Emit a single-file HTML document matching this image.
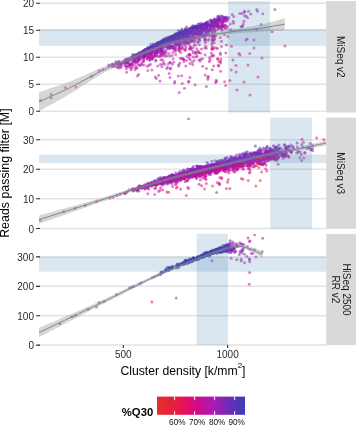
<!DOCTYPE html><html><head><meta charset="utf-8"><style>
html,body{margin:0;padding:0;background:#fff;width:356px;height:425px;overflow:hidden}
svg{display:block;will-change:transform}
text{font-family:"Liberation Sans",sans-serif}
.ax{font-size:10px;fill:#2b2b2b}
.st{font-size:10px;fill:#1a1a1a}
.ti{font-size:12px;fill:#000}
.lg{font-size:8.2px;fill:#111}
.lt{font-size:11.3px;font-weight:bold;fill:#000}
</style></head><body>
<svg width="356" height="425" viewBox="0 0 356 425">
<style>circle{fill-opacity:.52}.c0{fill:rgb(227,47,43)}.c1{fill:rgb(228,41,50)}.c2{fill:rgb(229,34,57)}.c3{fill:rgb(229,28,67)}.c4{fill:rgb(228,21,85)}.c5{fill:rgb(226,15,103)}.c6{fill:rgb(218,12,122)}.c7{fill:rgb(207,12,141)}.c8{fill:rgb(194,17,156)}.c9{fill:rgb(181,23,169)}.c10{fill:rgb(163,28,177)}.c11{fill:rgb(144,34,181)}.c12{fill:rgb(123,39,184)}.c13{fill:rgb(102,44,186)}.c14{fill:rgb(80,48,176)}.c15{fill:rgb(57,52,165)}</style>
<rect width="356" height="425" fill="#fff"/>
<clipPath id="p0"><rect x="39.0" y="1.1" width="287.2" height="111.4"/></clipPath>
<clipPath id="p1"><rect x="39.0" y="117.6" width="287.2" height="111.20000000000002"/></clipPath>
<clipPath id="p2"><rect x="39.0" y="233.9" width="287.2" height="111.20000000000002"/></clipPath>
<path d="M39.0,3.2H326.2M39.0,30.2H326.2M39.0,57.2H326.2M39.0,84.2H326.2M39.0,111.2H326.2M39.0,139.7H326.2M39.0,169.25H326.2M39.0,198.8H326.2M39.0,228.5H326.2M39.0,256.9H326.2M39.0,286.35H326.2M39.0,315.8H326.2M39.0,345.0H326.2" stroke="#e4e4e4" stroke-width="1.5" fill="none"/>
<g clip-path="url(#p0)">
<circle class="c11" cx="195.6" cy="33.5" r="1.5"/>
<circle class="c13" cx="217.5" cy="18.7" r="1.5"/>
<circle class="c14" cx="164.0" cy="39.7" r="1.5"/>
<circle class="c12" cx="159.3" cy="46.3" r="1.5"/>
<circle class="c12" cx="144.4" cy="50.5" r="1.5"/>
<circle class="c9" cx="217.2" cy="25.7" r="1.5"/>
<circle class="c10" cx="132.4" cy="58.3" r="1.5"/>
<circle class="c12" cx="132.8" cy="54.3" r="1.5"/>
<circle class="c10" cx="140.2" cy="57.1" r="1.5"/>
<circle class="c11" cx="152.4" cy="52.1" r="1.5"/>
<circle class="c11" cx="191.7" cy="37.3" r="1.5"/>
<circle class="c14" cx="193.8" cy="28.0" r="1.5"/>
<circle class="c10" cx="173.8" cy="45.4" r="1.5"/>
<circle class="c11" cx="201.5" cy="31.2" r="1.5"/>
<circle class="c13" cx="207.4" cy="24.3" r="1.5"/>
<circle class="c13" cx="202.4" cy="24.4" r="1.5"/>
<circle class="c11" cx="134.7" cy="58.4" r="1.5"/>
<circle class="c13" cx="137.7" cy="54.6" r="1.5"/>
<circle class="c13" cx="167.6" cy="42.3" r="1.5"/>
<circle class="c8" cx="214.2" cy="42.7" r="1.5"/>
<circle class="c14" cx="181.5" cy="31.0" r="1.5"/>
<circle class="c12" cx="192.3" cy="34.4" r="1.5"/>
<circle class="c9" cx="151.4" cy="54.2" r="1.5"/>
<circle class="c14" cx="148.1" cy="49.3" r="1.5"/>
<circle class="c11" cx="167.5" cy="47.0" r="1.5"/>
<circle class="c13" cx="160.4" cy="44.9" r="1.5"/>
<circle class="c12" cx="155.0" cy="49.0" r="1.5"/>
<circle class="c11" cx="201.8" cy="31.2" r="1.5"/>
<circle class="c13" cx="145.2" cy="50.5" r="1.5"/>
<circle class="c11" cx="140.8" cy="55.6" r="1.5"/>
<circle class="c10" cx="156.8" cy="56.2" r="1.5"/>
<circle class="c11" cx="187.1" cy="35.3" r="1.5"/>
<circle class="c12" cx="228.8" cy="17.4" r="1.5"/>
<circle class="c9" cx="148.9" cy="65.2" r="1.5"/>
<circle class="c11" cx="190.6" cy="37.1" r="1.5"/>
<circle class="c12" cx="178.2" cy="40.6" r="1.5"/>
<circle class="c11" cx="183.6" cy="38.6" r="1.5"/>
<circle class="c15" cx="160.0" cy="41.7" r="1.5"/>
<circle class="c13" cx="207.5" cy="23.3" r="1.5"/>
<circle class="c7" cx="190.8" cy="47.1" r="1.5"/>
<circle class="c12" cx="137.0" cy="57.6" r="1.5"/>
<circle class="c11" cx="201.4" cy="27.5" r="1.5"/>
<circle class="c12" cx="150.9" cy="46.7" r="1.5"/>
<circle class="c12" cx="143.4" cy="52.9" r="1.5"/>
<circle class="c13" cx="145.3" cy="53.0" r="1.5"/>
<circle class="c13" cx="197.9" cy="29.6" r="1.5"/>
<circle class="c11" cx="150.2" cy="51.0" r="1.5"/>
<circle class="c10" cx="175.2" cy="44.8" r="1.5"/>
<circle class="c13" cx="172.6" cy="39.5" r="1.5"/>
<circle class="c10" cx="158.6" cy="75.2" r="1.5"/>
<circle class="c12" cx="184.0" cy="34.0" r="1.5"/>
<circle class="c10" cx="139.3" cy="58.8" r="1.5"/>
<circle class="c8" cx="225.7" cy="85.4" r="1.5"/>
<circle class="c10" cx="210.4" cy="28.2" r="1.5"/>
<circle class="c12" cx="144.6" cy="57.0" r="1.5"/>
<circle class="c10" cx="124.7" cy="62.6" r="1.5"/>
<circle class="c15" cx="153.4" cy="44.1" r="1.5"/>
<circle class="c8" cx="206.3" cy="48.2" r="1.5"/>
<circle class="c13" cx="140.0" cy="53.4" r="1.5"/>
<circle class="c13" cx="152.6" cy="46.9" r="1.5"/>
<circle class="c10" cx="211.7" cy="49.1" r="1.5"/>
<circle class="c14" cx="150.0" cy="46.9" r="1.5"/>
<circle class="c13" cx="199.5" cy="27.6" r="1.5"/>
<circle class="c8" cx="160.9" cy="59.7" r="1.5"/>
<circle class="c7" cx="206.5" cy="68.4" r="1.5"/>
<circle class="c15" cx="173.9" cy="35.2" r="1.5"/>
<circle class="c14" cx="161.2" cy="44.6" r="1.5"/>
<circle class="c10" cx="224.8" cy="19.1" r="1.5"/>
<circle class="c7" cx="136.3" cy="62.3" r="1.5"/>
<circle class="c13" cx="211.1" cy="20.6" r="1.5"/>
<circle class="c12" cx="161.1" cy="49.1" r="1.5"/>
<circle class="c9" cx="172.9" cy="52.6" r="1.5"/>
<circle class="c13" cx="206.7" cy="23.9" r="1.5"/>
<circle class="c14" cx="169.9" cy="38.1" r="1.5"/>
<circle class="c11" cx="138.8" cy="52.6" r="1.5"/>
<circle class="c9" cx="213.9" cy="47.5" r="1.5"/>
<circle class="c13" cx="163.4" cy="40.9" r="1.5"/>
<circle class="c11" cx="196.6" cy="31.0" r="1.5"/>
<circle class="c12" cx="171.2" cy="42.3" r="1.5"/>
<circle class="c10" cx="222.1" cy="25.6" r="1.5"/>
<circle class="c10" cx="150.9" cy="53.5" r="1.5"/>
<circle class="c14" cx="160.7" cy="42.1" r="1.5"/>
<circle class="c9" cx="189.7" cy="54.2" r="1.5"/>
<circle class="c12" cx="191.2" cy="29.1" r="1.5"/>
<circle class="c7" cx="212.1" cy="47.0" r="1.5"/>
<circle class="c13" cx="183.2" cy="35.1" r="1.5"/>
<circle class="c11" cx="222.6" cy="22.9" r="1.5"/>
<circle class="c12" cx="137.5" cy="57.0" r="1.5"/>
<circle class="c14" cx="150.0" cy="47.7" r="1.5"/>
<circle class="c9" cx="125.1" cy="65.4" r="1.5"/>
<circle class="c10" cx="126.2" cy="62.8" r="1.5"/>
<circle class="c10" cx="166.5" cy="43.8" r="1.5"/>
<circle class="c9" cx="197.2" cy="56.1" r="1.5"/>
<circle class="c12" cx="233.0" cy="60.0" r="1.5"/>
<circle class="c7" cx="150.0" cy="59.3" r="1.5"/>
<circle class="c10" cx="192.3" cy="40.9" r="1.5"/>
<circle class="c12" cx="206.4" cy="25.3" r="1.5"/>
<circle class="c12" cx="194.9" cy="27.4" r="1.5"/>
<circle class="c13" cx="197.1" cy="27.7" r="1.5"/>
<circle class="c9" cx="205.1" cy="54.7" r="1.5"/>
<circle class="c13" cx="168.1" cy="43.6" r="1.5"/>
<circle class="c11" cx="214.5" cy="22.5" r="1.5"/>
<circle class="c9" cx="217.3" cy="29.6" r="1.5"/>
<circle class="c12" cx="215.3" cy="25.4" r="1.5"/>
<circle class="c10" cx="125.5" cy="64.6" r="1.5"/>
<circle class="c15" cx="175.9" cy="34.7" r="1.5"/>
<circle class="c11" cx="126.7" cy="62.7" r="1.5"/>
<circle class="c13" cx="161.8" cy="45.9" r="1.5"/>
<circle class="c11" cx="143.3" cy="53.7" r="1.5"/>
<circle class="c11" cx="190.8" cy="29.3" r="1.5"/>
<circle class="c9" cx="143.9" cy="56.9" r="1.5"/>
<circle class="c15" cx="159.1" cy="42.4" r="1.5"/>
<circle class="c12" cx="201.0" cy="31.5" r="1.5"/>
<circle class="c14" cx="177.9" cy="33.3" r="1.5"/>
<circle class="c9" cx="134.5" cy="60.3" r="1.5"/>
<circle class="c10" cx="198.3" cy="35.1" r="1.5"/>
<circle class="c11" cx="182.6" cy="43.1" r="1.5"/>
<circle class="c9" cx="221.6" cy="27.3" r="1.5"/>
<circle class="c8" cx="237.0" cy="90.0" r="1.5"/>
<circle class="c12" cx="220.7" cy="15.7" r="1.5"/>
<circle class="c13" cx="188.1" cy="29.2" r="1.5"/>
<circle class="c8" cx="218.2" cy="65.3" r="1.5"/>
<circle class="c11" cx="169.8" cy="48.8" r="1.5"/>
<circle class="c13" cx="173.1" cy="39.7" r="1.5"/>
<circle class="c12" cx="203.1" cy="31.0" r="1.5"/>
<circle class="c15" cx="177.1" cy="36.4" r="1.5"/>
<circle class="c10" cx="222.1" cy="23.3" r="1.5"/>
<circle class="c9" cx="202.3" cy="36.2" r="1.5"/>
<circle class="c13" cx="161.8" cy="43.1" r="1.5"/>
<circle class="c13" cx="145.1" cy="49.6" r="1.5"/>
<circle class="c12" cx="192.4" cy="33.2" r="1.5"/>
<circle class="c12" cx="192.4" cy="31.7" r="1.5"/>
<circle class="c13" cx="154.2" cy="45.8" r="1.5"/>
<circle class="c10" cx="143.8" cy="56.6" r="1.5"/>
<circle class="c12" cx="162.7" cy="40.7" r="1.5"/>
<circle class="c13" cx="169.1" cy="41.4" r="1.5"/>
<circle class="c11" cx="203.8" cy="31.0" r="1.5"/>
<circle class="c10" cx="221.5" cy="22.1" r="1.5"/>
<circle class="c15" cx="153.0" cy="46.0" r="1.5"/>
<circle class="c14" cx="150.8" cy="47.0" r="1.5"/>
<circle class="c12" cx="178.8" cy="39.4" r="1.5"/>
<circle class="c13" cx="144.9" cy="49.5" r="1.5"/>
<circle class="c11" cx="202.1" cy="29.0" r="1.5"/>
<circle class="c7" cx="230.8" cy="29.7" r="1.5"/>
<circle class="c8" cx="198.9" cy="60.1" r="1.5"/>
<circle class="c11" cx="215.1" cy="25.0" r="1.5"/>
<circle class="c11" cx="221.2" cy="20.7" r="1.5"/>
<circle class="c8" cx="200.8" cy="59.3" r="1.5"/>
<circle class="c12" cx="214.2" cy="19.5" r="1.5"/>
<circle class="c11" cx="144.2" cy="55.8" r="1.5"/>
<circle class="c8" cx="154.7" cy="56.0" r="1.5"/>
<circle class="c11" cx="189.6" cy="36.4" r="1.5"/>
<circle class="c10" cx="128.3" cy="62.8" r="1.5"/>
<circle class="c10" cx="194.1" cy="38.6" r="1.5"/>
<circle class="c11" cx="218.8" cy="28.4" r="1.5"/>
<circle class="c8" cx="213.0" cy="33.5" r="1.5"/>
<circle class="c9" cx="184.3" cy="44.7" r="1.5"/>
<circle class="c11" cx="183.5" cy="39.8" r="1.5"/>
<circle class="c9" cx="134.3" cy="64.6" r="1.5"/>
<circle class="c15" cx="147.6" cy="47.3" r="1.5"/>
<circle class="c10" cx="141.1" cy="63.7" r="1.5"/>
<circle class="c10" cx="143.0" cy="55.0" r="1.5"/>
<circle class="c8" cx="211.9" cy="40.1" r="1.5"/>
<circle class="c9" cx="214.8" cy="35.6" r="1.5"/>
<circle class="c11" cx="160.0" cy="44.7" r="1.5"/>
<circle class="c13" cx="163.6" cy="40.1" r="1.5"/>
<circle class="c12" cx="163.5" cy="42.3" r="1.5"/>
<circle class="c14" cx="166.7" cy="41.7" r="1.5"/>
<circle class="c12" cx="139.9" cy="55.8" r="1.5"/>
<circle class="c14" cx="136.0" cy="54.7" r="1.5"/>
<circle class="c13" cx="172.0" cy="37.0" r="1.5"/>
<circle class="c12" cx="178.3" cy="35.8" r="1.5"/>
<circle class="c11" cx="179.9" cy="38.9" r="1.5"/>
<circle class="c11" cx="202.5" cy="29.5" r="1.5"/>
<circle class="c12" cx="165.0" cy="44.7" r="1.5"/>
<circle class="c14" cx="177.6" cy="33.4" r="1.5"/>
<circle class="c9" cx="119.0" cy="64.8" r="1.5"/>
<circle class="c7" cx="147.4" cy="66.3" r="1.5"/>
<circle class="c13" cx="196.7" cy="26.2" r="1.5"/>
<circle class="c12" cx="139.4" cy="54.6" r="1.5"/>
<circle class="c13" cx="171.2" cy="36.2" r="1.5"/>
<circle class="c12" cx="175.6" cy="42.9" r="1.5"/>
<circle class="c9" cx="178.7" cy="46.9" r="1.5"/>
<circle class="c14" cx="163.8" cy="41.4" r="1.5"/>
<circle class="c8" cx="127.2" cy="62.8" r="1.5"/>
<circle class="c10" cx="163.0" cy="52.2" r="1.5"/>
<circle class="c6" cx="205.8" cy="46.3" r="1.5"/>
<circle class="c13" cx="131.8" cy="57.0" r="1.5"/>
<circle class="c8" cx="168.2" cy="47.4" r="1.5"/>
<circle class="c13" cx="173.7" cy="36.6" r="1.5"/>
<circle class="c13" cx="211.7" cy="22.2" r="1.5"/>
<circle class="c11" cx="167.3" cy="47.4" r="1.5"/>
<circle class="c12" cx="183.5" cy="32.1" r="1.5"/>
<circle class="c11" cx="190.9" cy="33.6" r="1.5"/>
<circle class="c10" cx="147.6" cy="52.4" r="1.5"/>
<circle class="c6" cx="210.0" cy="59.7" r="1.5"/>
<circle class="c11" cx="169.4" cy="39.4" r="1.5"/>
<circle class="c14" cx="178.6" cy="30.6" r="1.5"/>
<circle class="c14" cx="195.8" cy="26.7" r="1.5"/>
<circle class="c9" cx="51.2" cy="98.0" r="1.5"/>
<circle class="c12" cx="205.3" cy="23.6" r="1.5"/>
<circle class="c12" cx="203.9" cy="29.0" r="1.5"/>
<circle class="c7" cx="238.9" cy="53.4" r="1.5"/>
<circle class="c12" cx="205.2" cy="23.8" r="1.5"/>
<circle class="c12" cx="163.1" cy="44.4" r="1.5"/>
<circle class="c12" cx="151.1" cy="50.7" r="1.5"/>
<circle class="c10" cx="196.8" cy="33.1" r="1.5"/>
<circle class="c11" cx="157.7" cy="49.9" r="1.5"/>
<circle class="c10" cx="176.6" cy="42.4" r="1.5"/>
<circle class="c11" cx="193.0" cy="36.0" r="1.5"/>
<circle class="c11" cx="187.2" cy="37.9" r="1.5"/>
<circle class="c11" cx="218.9" cy="18.3" r="1.5"/>
<circle class="c9" cx="185.1" cy="44.1" r="1.5"/>
<circle class="c10" cx="123.9" cy="62.7" r="1.5"/>
<circle class="c10" cx="184.1" cy="42.1" r="1.5"/>
<circle class="c14" cx="195.0" cy="26.2" r="1.5"/>
<circle class="c12" cx="187.9" cy="39.0" r="1.5"/>
<circle class="c14" cx="162.0" cy="40.6" r="1.5"/>
<circle class="c14" cx="191.1" cy="27.5" r="1.5"/>
<circle class="c12" cx="159.0" cy="46.7" r="1.5"/>
<circle class="c9" cx="174.5" cy="83.0" r="1.5"/>
<circle class="c12" cx="195.4" cy="28.5" r="1.5"/>
<circle class="c12" cx="167.4" cy="42.1" r="1.5"/>
<circle class="c8" cx="212.3" cy="48.9" r="1.5"/>
<circle class="c12" cx="197.3" cy="27.3" r="1.5"/>
<circle class="c12" cx="146.9" cy="51.4" r="1.5"/>
<circle class="c10" cx="200.6" cy="32.2" r="1.5"/>
<circle class="c8" cx="211.4" cy="53.0" r="1.5"/>
<circle class="c12" cx="206.3" cy="28.5" r="1.5"/>
<circle class="c11" cx="196.0" cy="26.1" r="1.5"/>
<circle class="c13" cx="193.7" cy="30.0" r="1.5"/>
<circle class="c13" cx="202.2" cy="25.1" r="1.5"/>
<circle class="c11" cx="198.5" cy="31.4" r="1.5"/>
<circle class="c13" cx="167.2" cy="44.1" r="1.5"/>
<circle class="c10" cx="189.8" cy="45.9" r="1.5"/>
<circle class="c11" cx="191.4" cy="38.0" r="1.5"/>
<circle class="c11" cx="173.7" cy="39.1" r="1.5"/>
<circle class="c10" cx="205.3" cy="27.5" r="1.5"/>
<circle class="c14" cx="162.1" cy="40.9" r="1.5"/>
<circle class="c12" cx="201.9" cy="30.9" r="1.5"/>
<circle class="c11" cx="200.1" cy="28.3" r="1.5"/>
<circle class="c11" cx="150.0" cy="53.5" r="1.5"/>
<circle class="c10" cx="139.0" cy="59.8" r="1.5"/>
<circle class="c13" cx="194.6" cy="27.1" r="1.5"/>
<circle class="c14" cx="148.7" cy="48.6" r="1.5"/>
<circle class="c13" cx="158.7" cy="45.4" r="1.5"/>
<circle class="c13" cx="143.7" cy="51.1" r="1.5"/>
<circle class="c8" cx="244.0" cy="82.0" r="1.5"/>
<circle class="c12" cx="143.0" cy="55.6" r="1.5"/>
<circle class="c10" cx="179.2" cy="92.4" r="1.5"/>
<circle class="c14" cx="194.5" cy="31.2" r="1.5"/>
<circle class="c14" cx="172.6" cy="36.2" r="1.5"/>
<circle class="c7" cx="151.9" cy="56.8" r="1.5"/>
<circle class="c12" cx="128.3" cy="61.0" r="1.5"/>
<circle class="c14" cx="153.7" cy="47.6" r="1.5"/>
<circle class="c7" cx="220.6" cy="61.3" r="1.5"/>
<circle class="c13" cx="141.9" cy="54.1" r="1.5"/>
<circle class="c13" cx="185.0" cy="30.3" r="1.5"/>
<circle class="c13" cx="200.1" cy="27.6" r="1.5"/>
<circle class="c7" cx="258.0" cy="77.0" r="1.5"/>
<circle class="c12" cx="201.1" cy="30.0" r="1.5"/>
<circle class="c10" cx="120.5" cy="64.7" r="1.5"/>
<circle class="c14" cx="174.1" cy="36.0" r="1.5"/>
<circle class="c12" cx="143.9" cy="53.0" r="1.5"/>
<circle class="c13" cx="206.6" cy="26.1" r="1.5"/>
<circle class="c11" cx="205.4" cy="26.4" r="1.5"/>
<circle class="c15" cx="153.3" cy="46.1" r="1.5"/>
<circle class="c15" cx="165.4" cy="39.7" r="1.5"/>
<circle class="c9" cx="210.3" cy="35.8" r="1.5"/>
<circle class="c11" cx="156.7" cy="49.5" r="1.5"/>
<circle class="c12" cx="182.3" cy="34.7" r="1.5"/>
<circle class="c8" cx="160.8" cy="55.6" r="1.5"/>
<circle class="c7" cx="178.7" cy="66.1" r="1.5"/>
<circle class="c6" cx="213.7" cy="55.2" r="1.5"/>
<circle class="c13" cx="179.2" cy="40.7" r="1.5"/>
<circle class="c9" cx="126.4" cy="68.8" r="1.5"/>
<circle class="c7" cx="209.4" cy="61.4" r="1.5"/>
<circle class="c9" cx="205.2" cy="34.8" r="1.5"/>
<circle class="c14" cx="162.8" cy="42.8" r="1.5"/>
<circle class="c11" cx="175.3" cy="40.0" r="1.5"/>
<circle class="c8" cx="213.7" cy="65.9" r="1.5"/>
<circle class="c13" cx="179.8" cy="32.5" r="1.5"/>
<circle class="c13" cx="163.6" cy="44.7" r="1.5"/>
<circle class="c11" cx="156.8" cy="52.4" r="1.5"/>
<circle class="c14" cx="179.4" cy="32.5" r="1.5"/>
<circle class="c12" cx="200.3" cy="26.6" r="1.5"/>
<circle class="c13" cx="192.4" cy="30.8" r="1.5"/>
<circle class="c8" cx="195.6" cy="53.7" r="1.5"/>
<circle class="c11" cx="182.1" cy="41.6" r="1.5"/>
<circle class="c12" cx="161.6" cy="44.7" r="1.5"/>
<circle class="c10" cx="214.6" cy="26.8" r="1.5"/>
<circle class="c12" cx="177.9" cy="39.0" r="1.5"/>
<circle class="c10" cx="162.3" cy="59.7" r="1.5"/>
<circle class="c9" cx="179.8" cy="62.9" r="1.5"/>
<circle class="c13" cx="179.8" cy="36.8" r="1.5"/>
<circle class="c11" cx="155.9" cy="51.5" r="1.5"/>
<circle class="c8" cx="151.8" cy="58.6" r="1.5"/>
<circle class="c14" cx="147.5" cy="49.0" r="1.5"/>
<circle class="c10" cx="133.2" cy="62.6" r="1.5"/>
<circle class="c11" cx="196.3" cy="31.8" r="1.5"/>
<circle class="c12" cx="217.2" cy="19.2" r="1.5"/>
<circle class="c13" cx="175.3" cy="35.3" r="1.5"/>
<circle class="c11" cx="182.8" cy="37.1" r="1.5"/>
<circle class="c14" cx="174.2" cy="37.3" r="1.5"/>
<circle class="c13" cx="112.8" cy="63.9" r="1.5"/>
<circle class="c11" cx="162.7" cy="46.5" r="1.5"/>
<circle class="c11" cx="190.1" cy="39.3" r="1.5"/>
<circle class="c12" cx="160.4" cy="48.0" r="1.5"/>
<circle class="c12" cx="217.9" cy="19.7" r="1.5"/>
<circle class="c7" cx="212.9" cy="40.3" r="1.5"/>
<circle class="c11" cx="215.0" cy="22.9" r="1.5"/>
<circle class="c11" cx="217.3" cy="20.7" r="1.5"/>
<circle class="c8" cx="155.0" cy="51.3" r="1.5"/>
<circle class="c13" cx="174.4" cy="39.8" r="1.5"/>
<circle class="c12" cx="215.1" cy="23.6" r="1.5"/>
<circle class="c13" cx="188.3" cy="31.7" r="1.5"/>
<circle class="c8" cx="149.0" cy="56.3" r="1.5"/>
<circle class="c10" cx="209.5" cy="35.0" r="1.5"/>
<circle class="c12" cx="130.0" cy="60.0" r="1.5"/>
<circle class="c12" cx="187.7" cy="33.2" r="1.5"/>
<circle class="c11" cx="218.1" cy="24.2" r="1.5"/>
<circle class="c10" cx="183.9" cy="42.3" r="1.5"/>
<circle class="c7" cx="221.4" cy="41.3" r="1.5"/>
<circle class="c6" cx="220.6" cy="71.3" r="1.5"/>
<circle class="c13" cx="190.0" cy="33.7" r="1.5"/>
<circle class="c9" cx="214.2" cy="30.2" r="1.5"/>
<circle class="c14" cx="139.9" cy="53.0" r="1.5"/>
<circle class="c10" cx="153.0" cy="50.3" r="1.5"/>
<circle class="c8" cx="224.9" cy="27.5" r="1.5"/>
<circle class="c12" cx="182.8" cy="36.3" r="1.5"/>
<circle class="c13" cx="159.2" cy="46.5" r="1.5"/>
<circle class="c13" cx="185.0" cy="31.0" r="1.5"/>
<circle class="c14" cx="193.4" cy="27.7" r="1.5"/>
<circle class="c10" cx="151.2" cy="54.5" r="1.5"/>
<circle class="c14" cx="187.7" cy="30.2" r="1.5"/>
<circle class="c15" cx="179.1" cy="35.5" r="1.5"/>
<circle class="c10" cx="209.6" cy="30.6" r="1.5"/>
<circle class="c7" cx="185.6" cy="48.6" r="1.5"/>
<circle class="c10" cx="118.2" cy="66.7" r="1.5"/>
<circle class="c14" cx="166.3" cy="39.6" r="1.5"/>
<circle class="c13" cx="168.6" cy="37.5" r="1.5"/>
<circle class="c6" cx="229.9" cy="80.5" r="1.5"/>
<circle class="c12" cx="197.4" cy="29.1" r="1.5"/>
<circle class="c9" cx="120.9" cy="66.2" r="1.5"/>
<circle class="c10" cx="201.1" cy="33.9" r="1.5"/>
<circle class="c13" cx="207.2" cy="25.1" r="1.5"/>
<circle class="c14" cx="167.4" cy="40.0" r="1.5"/>
<circle class="c11" cx="185.8" cy="40.1" r="1.5"/>
<circle class="c7" cx="131.9" cy="63.9" r="1.5"/>
<circle class="c13" cx="186.6" cy="26.9" r="1.5"/>
<circle class="c10" cx="214.9" cy="29.3" r="1.5"/>
<circle class="c10" cx="209.1" cy="30.8" r="1.5"/>
<circle class="c9" cx="175.3" cy="51.3" r="1.5"/>
<circle class="c11" cx="154.8" cy="52.3" r="1.5"/>
<circle class="c10" cx="173.5" cy="47.7" r="1.5"/>
<circle class="c13" cx="143.4" cy="53.3" r="1.5"/>
<circle class="c14" cx="164.0" cy="43.2" r="1.5"/>
<circle class="c13" cx="199.3" cy="27.3" r="1.5"/>
<circle class="c11" cx="140.4" cy="55.5" r="1.5"/>
<circle class="c13" cx="170.3" cy="37.3" r="1.5"/>
<circle class="c11" cx="143.7" cy="55.2" r="1.5"/>
<circle class="c8" cx="164.5" cy="54.1" r="1.5"/>
<circle class="c11" cx="211.8" cy="25.5" r="1.5"/>
<circle class="c10" cx="151.9" cy="54.5" r="1.5"/>
<circle class="c14" cx="176.1" cy="33.2" r="1.5"/>
<circle class="c8" cx="188.7" cy="81.2" r="1.5"/>
<circle class="c9" cx="162.6" cy="64.1" r="1.5"/>
<circle class="c14" cx="143.6" cy="52.1" r="1.5"/>
<circle class="c7" cx="208.1" cy="77.3" r="1.5"/>
<circle class="c12" cx="193.7" cy="29.7" r="1.5"/>
<circle class="c13" cx="180.1" cy="35.8" r="1.5"/>
<circle class="c7" cx="185.8" cy="66.0" r="1.5"/>
<circle class="c10" cx="174.2" cy="42.0" r="1.5"/>
<circle class="c11" cx="143.3" cy="54.0" r="1.5"/>
<circle class="c11" cx="222.7" cy="20.6" r="1.5"/>
<circle class="c15" cx="156.2" cy="45.7" r="1.5"/>
<circle class="c12" cx="210.4" cy="28.4" r="1.5"/>
<circle class="c9" cx="204.9" cy="35.6" r="1.5"/>
<circle class="c11" cx="153.0" cy="51.1" r="1.5"/>
<circle class="c13" cx="132.9" cy="57.0" r="1.5"/>
<circle class="c8" cx="174.8" cy="48.5" r="1.5"/>
<circle class="c10" cx="205.4" cy="36.1" r="1.5"/>
<circle class="c12" cx="168.4" cy="40.5" r="1.5"/>
<circle class="c13" cx="183.3" cy="32.7" r="1.5"/>
<circle class="c9" cx="204.8" cy="39.7" r="1.5"/>
<circle class="c10" cx="172.4" cy="40.8" r="1.5"/>
<circle class="c11" cx="222.1" cy="16.4" r="1.5"/>
<circle class="c11" cx="200.9" cy="28.3" r="1.5"/>
<circle class="c11" cx="218.2" cy="27.3" r="1.5"/>
<circle class="c12" cx="194.5" cy="34.1" r="1.5"/>
<circle class="c12" cx="224.4" cy="20.2" r="1.5"/>
<circle class="c14" cx="183.9" cy="30.7" r="1.5"/>
<circle class="c14" cx="143.8" cy="51.6" r="1.5"/>
<circle class="c12" cx="192.3" cy="33.7" r="1.5"/>
<circle class="c12" cx="211.1" cy="24.2" r="1.5"/>
<circle class="c12" cx="146.5" cy="53.3" r="1.5"/>
<circle class="c13" cx="205.6" cy="32.7" r="1.5"/>
<circle class="c15" cx="165.5" cy="40.6" r="1.5"/>
<circle class="c11" cx="182.8" cy="39.8" r="1.5"/>
<circle class="c11" cx="210.5" cy="28.8" r="1.5"/>
<circle class="c14" cx="157.6" cy="44.9" r="1.5"/>
<circle class="c15" cx="185.7" cy="29.5" r="1.5"/>
<circle class="c12" cx="194.9" cy="32.5" r="1.5"/>
<circle class="c12" cx="176.5" cy="39.8" r="1.5"/>
<circle class="c9" cx="241.0" cy="26.7" r="1.5"/>
<circle class="c11" cx="145.4" cy="55.5" r="1.5"/>
<circle class="c9" cx="156.4" cy="78.4" r="1.5"/>
<circle class="c11" cx="108.8" cy="65.0" r="1.5"/>
<circle class="c11" cx="210.2" cy="25.4" r="1.5"/>
<circle class="c12" cx="166.3" cy="40.8" r="1.5"/>
<circle class="c11" cx="176.5" cy="42.1" r="1.5"/>
<circle class="c12" cx="180.3" cy="35.7" r="1.5"/>
<circle class="c10" cx="185.6" cy="39.6" r="1.5"/>
<circle class="c9" cx="220.6" cy="26.7" r="1.5"/>
<circle class="c14" cx="176.3" cy="34.8" r="1.5"/>
<circle class="c13" cx="157.4" cy="42.6" r="1.5"/>
<circle class="c10" cx="188.3" cy="42.7" r="1.5"/>
<circle class="c8" cx="76.0" cy="86.9" r="1.5"/>
<circle class="c11" cx="217.3" cy="21.1" r="1.5"/>
<circle class="c12" cx="151.1" cy="50.1" r="1.5"/>
<circle class="c12" cx="205.9" cy="22.9" r="1.5"/>
<circle class="c11" cx="188.4" cy="33.3" r="1.5"/>
<circle class="c9" cx="177.2" cy="43.5" r="1.5"/>
<circle class="c13" cx="146.5" cy="50.0" r="1.5"/>
<circle class="c8" cx="195.5" cy="45.2" r="1.5"/>
<circle class="c9" cx="170.1" cy="68.7" r="1.5"/>
<circle class="c6" cx="202.6" cy="66.2" r="1.5"/>
<circle class="c13" cx="186.4" cy="30.8" r="1.5"/>
<circle class="c14" cx="169.7" cy="38.7" r="1.5"/>
<circle class="c10" cx="126.4" cy="61.5" r="1.5"/>
<circle class="c12" cx="187.4" cy="36.8" r="1.5"/>
<circle class="c10" cx="225.7" cy="20.9" r="1.5"/>
<circle class="c11" cx="204.4" cy="29.5" r="1.5"/>
<circle class="c10" cx="179.1" cy="45.1" r="1.5"/>
<circle class="c11" cx="209.8" cy="25.3" r="1.5"/>
<circle class="c12" cx="123.7" cy="62.2" r="1.5"/>
<circle class="c10" cx="183.1" cy="38.3" r="1.5"/>
<circle class="c10" cx="194.0" cy="37.0" r="1.5"/>
<circle class="c10" cx="172.4" cy="46.2" r="1.5"/>
<circle class="c11" cx="179.7" cy="40.5" r="1.5"/>
<circle class="c9" cx="227.1" cy="21.2" r="1.5"/>
<circle class="c10" cx="201.0" cy="28.2" r="1.5"/>
<circle class="c11" cx="213.0" cy="27.0" r="1.5"/>
<circle class="c8" cx="194.1" cy="41.7" r="1.5"/>
<circle class="c6" cx="198.2" cy="51.1" r="1.5"/>
<circle class="c14" cx="201.9" cy="27.2" r="1.5"/>
<circle class="c9" cx="196.7" cy="33.3" r="1.5"/>
<circle class="c8" cx="199.8" cy="40.6" r="1.5"/>
<circle class="c11" cx="162.1" cy="50.9" r="1.5"/>
<circle class="c9" cx="154.8" cy="54.3" r="1.5"/>
<circle class="c8" cx="164.7" cy="64.2" r="1.5"/>
<circle class="c10" cx="250.7" cy="13.9" r="1.5"/>
<circle class="c13" cx="187.4" cy="32.5" r="1.5"/>
<circle class="c9" cx="190.9" cy="48.8" r="1.5"/>
<circle class="c9" cx="182.2" cy="83.6" r="1.5"/>
<circle class="c9" cx="225.1" cy="25.1" r="1.5"/>
<circle class="c13" cx="211.4" cy="21.8" r="1.5"/>
<circle class="c7" cx="187.5" cy="41.2" r="1.5"/>
<circle class="c12" cx="151.2" cy="49.8" r="1.5"/>
<circle class="c10" cx="212.3" cy="32.5" r="1.5"/>
<circle class="c9" cx="184.0" cy="61.4" r="1.5"/>
<circle class="c11" cx="217.8" cy="16.2" r="1.5"/>
<circle class="c8" cx="143.6" cy="57.7" r="1.5"/>
<circle class="c12" cx="207.6" cy="33.6" r="1.5"/>
<circle class="c14" cx="163.2" cy="42.9" r="1.5"/>
<circle class="c10" cx="217.1" cy="25.1" r="1.5"/>
<circle class="c12" cx="192.6" cy="32.2" r="1.5"/>
<circle class="c12" cx="201.2" cy="32.9" r="1.5"/>
<circle class="c12" cx="169.0" cy="44.1" r="1.5"/>
<circle class="c7" cx="217.6" cy="58.9" r="1.5"/>
<circle class="c12" cx="186.6" cy="32.1" r="1.5"/>
<circle class="c11" cx="207.7" cy="30.2" r="1.5"/>
<circle class="c9" cx="248.5" cy="11.3" r="1.5"/>
<circle class="c8" cx="199.7" cy="38.1" r="1.5"/>
<circle class="c14" cx="201.0" cy="23.2" r="1.5"/>
<circle class="c12" cx="157.1" cy="43.7" r="1.5"/>
<circle class="c15" cx="167.0" cy="38.7" r="1.5"/>
<circle class="c7" cx="126.6" cy="72.2" r="1.5"/>
<circle class="c8" cx="217.5" cy="48.5" r="1.5"/>
<circle class="c10" cx="161.7" cy="48.8" r="1.5"/>
<circle class="c10" cx="152.3" cy="57.6" r="1.5"/>
<circle class="c9" cx="126.2" cy="66.6" r="1.5"/>
<circle class="c12" cx="167.6" cy="42.2" r="1.5"/>
<circle class="c14" cx="160.3" cy="45.0" r="1.5"/>
<circle class="c12" cx="184.8" cy="37.8" r="1.5"/>
<circle class="c9" cx="194.3" cy="41.0" r="1.5"/>
<circle class="c12" cx="194.8" cy="32.7" r="1.5"/>
<circle class="c10" cx="149.3" cy="53.0" r="1.5"/>
<circle class="c12" cx="138.6" cy="57.0" r="1.5"/>
<circle class="c10" cx="179.1" cy="45.5" r="1.5"/>
<circle class="c12" cx="160.0" cy="46.8" r="1.5"/>
<circle class="c15" cx="174.4" cy="36.9" r="1.5"/>
<circle class="c10" cx="161.0" cy="51.2" r="1.5"/>
<circle class="c12" cx="151.6" cy="49.9" r="1.5"/>
<circle class="c12" cx="151.3" cy="50.4" r="1.5"/>
<circle class="c14" cx="172.2" cy="36.4" r="1.5"/>
<circle class="c12" cx="207.9" cy="21.8" r="1.5"/>
<circle class="c14" cx="141.7" cy="51.8" r="1.5"/>
<circle class="c10" cx="170.2" cy="62.4" r="1.5"/>
<circle class="c10" cx="202.0" cy="37.0" r="1.5"/>
<circle class="c14" cx="212.5" cy="22.9" r="1.5"/>
<circle class="c10" cx="175.6" cy="42.0" r="1.5"/>
<circle class="c12" cx="163.2" cy="41.1" r="1.5"/>
<circle class="c13" cx="179.6" cy="38.5" r="1.5"/>
<circle class="c14" cx="170.5" cy="38.8" r="1.5"/>
<circle class="c9" cx="197.9" cy="42.5" r="1.5"/>
<circle class="c11" cx="218.8" cy="21.1" r="1.5"/>
<circle class="c12" cx="194.0" cy="30.6" r="1.5"/>
<circle class="c9" cx="186.4" cy="60.6" r="1.5"/>
<circle class="c10" cx="116.0" cy="61.5" r="1.5"/>
<circle class="c13" cx="193.1" cy="27.5" r="1.5"/>
<circle class="c10" cx="170.1" cy="47.5" r="1.5"/>
<circle class="c11" cx="162.1" cy="51.0" r="1.5"/>
<circle class="c14" cx="151.5" cy="47.5" r="1.5"/>
<circle class="c6" cx="216.2" cy="48.1" r="1.5"/>
<circle class="c13" cx="170.5" cy="38.9" r="1.5"/>
<circle class="c12" cx="191.4" cy="29.4" r="1.5"/>
<circle class="c11" cx="160.3" cy="48.0" r="1.5"/>
<circle class="c14" cx="193.6" cy="25.9" r="1.5"/>
<circle class="c13" cx="200.6" cy="26.7" r="1.5"/>
<circle class="c11" cx="145.8" cy="52.3" r="1.5"/>
<circle class="c14" cx="169.0" cy="38.0" r="1.5"/>
<circle class="c7" cx="194.1" cy="60.5" r="1.5"/>
<circle class="c9" cx="189.8" cy="54.9" r="1.5"/>
<circle class="c14" cx="180.0" cy="34.3" r="1.5"/>
<circle class="c11" cx="184.4" cy="88.3" r="1.5"/>
<circle class="c11" cx="187.3" cy="36.6" r="1.5"/>
<circle class="c11" cx="109.0" cy="66.0" r="1.5"/>
<circle class="c14" cx="151.1" cy="48.4" r="1.5"/>
<circle class="c10" cx="164.8" cy="50.5" r="1.5"/>
<circle class="c13" cx="180.5" cy="36.8" r="1.5"/>
<circle class="c10" cx="192.8" cy="38.4" r="1.5"/>
<circle class="c12" cx="184.5" cy="34.8" r="1.5"/>
<circle class="c14" cx="193.7" cy="27.8" r="1.5"/>
<circle class="c12" cx="205.7" cy="24.5" r="1.5"/>
<circle class="c13" cx="182.9" cy="34.3" r="1.5"/>
<circle class="c10" cx="143.3" cy="57.5" r="1.5"/>
<circle class="c12" cx="143.1" cy="51.1" r="1.5"/>
<circle class="c13" cx="155.9" cy="44.6" r="1.5"/>
<circle class="c13" cx="186.8" cy="35.1" r="1.5"/>
<circle class="c14" cx="179.1" cy="33.1" r="1.5"/>
<circle class="c12" cx="159.8" cy="43.0" r="1.5"/>
<circle class="c15" cx="203.2" cy="24.9" r="1.5"/>
<circle class="c9" cx="131.4" cy="64.2" r="1.5"/>
<circle class="c13" cx="154.5" cy="47.2" r="1.5"/>
<circle class="c12" cx="163.4" cy="43.5" r="1.5"/>
<circle class="c8" cx="179.5" cy="48.1" r="1.5"/>
<circle class="c10" cx="242.1" cy="13.6" r="1.5"/>
<circle class="c8" cx="135.0" cy="61.4" r="1.5"/>
<circle class="c15" cx="171.5" cy="36.8" r="1.5"/>
<circle class="c10" cx="165.3" cy="56.3" r="1.5"/>
<circle class="c11" cx="171.9" cy="46.4" r="1.5"/>
<circle class="c9" cx="178.7" cy="50.2" r="1.5"/>
<circle class="c10" cx="227.0" cy="19.4" r="1.5"/>
<circle class="c10" cx="208.5" cy="31.1" r="1.5"/>
<circle class="c11" cx="187.6" cy="35.6" r="1.5"/>
<circle class="c12" cx="150.7" cy="49.7" r="1.5"/>
<circle class="c10" cx="223.1" cy="26.2" r="1.5"/>
<circle class="c13" cx="157.6" cy="43.1" r="1.5"/>
<circle class="c13" cx="188.9" cy="32.6" r="1.5"/>
<circle class="c11" cx="167.0" cy="42.0" r="1.5"/>
<circle class="c10" cx="136.0" cy="60.9" r="1.5"/>
<circle class="c9" cx="173.8" cy="49.3" r="1.5"/>
<circle class="c10" cx="199.9" cy="35.6" r="1.5"/>
<circle class="c13" cx="147.7" cy="48.4" r="1.5"/>
<circle class="c11" cx="221.7" cy="29.0" r="1.5"/>
<circle class="c15" cx="161.5" cy="42.2" r="1.5"/>
<circle class="c12" cx="166.7" cy="43.8" r="1.5"/>
<circle class="c8" cx="175.7" cy="54.5" r="1.5"/>
<circle class="c8" cx="91.4" cy="76.2" r="1.5"/>
<circle class="c11" cx="148.7" cy="52.2" r="1.5"/>
<circle class="c10" cx="195.7" cy="36.4" r="1.5"/>
<circle class="c8" cx="180.4" cy="58.4" r="1.5"/>
<circle class="c10" cx="148.9" cy="54.4" r="1.5"/>
<circle class="c11" cx="208.1" cy="28.3" r="1.5"/>
<circle class="c9" cx="185.4" cy="40.4" r="1.5"/>
<circle class="c11" cx="210.8" cy="29.1" r="1.5"/>
<circle class="c11" cx="134.5" cy="57.8" r="1.5"/>
<circle class="c9" cx="200.7" cy="31.6" r="1.5"/>
<circle class="c14" cx="151.9" cy="46.9" r="1.5"/>
<circle class="c12" cx="198.8" cy="26.8" r="1.5"/>
<circle class="c14" cx="194.7" cy="28.9" r="1.5"/>
<circle class="c13" cx="189.2" cy="36.0" r="1.5"/>
<circle class="c15" cx="170.3" cy="38.2" r="1.5"/>
<circle class="c6" cx="226.4" cy="44.9" r="1.5"/>
<circle class="c14" cx="175.2" cy="36.1" r="1.5"/>
<circle class="c6" cx="131.0" cy="69.7" r="1.5"/>
<circle class="c12" cx="215.9" cy="22.5" r="1.5"/>
<circle class="c11" cx="161.0" cy="49.1" r="1.5"/>
<circle class="c10" cx="121.7" cy="63.2" r="1.5"/>
<circle class="c10" cx="142.2" cy="64.7" r="1.5"/>
<circle class="c11" cx="193.4" cy="29.4" r="1.5"/>
<circle class="c13" cx="126.5" cy="61.4" r="1.5"/>
<circle class="c9" cx="250.0" cy="95.0" r="1.5"/>
<circle class="c9" cx="168.8" cy="53.5" r="1.5"/>
<circle class="c12" cx="206.2" cy="32.6" r="1.5"/>
<circle class="c8" cx="225.0" cy="24.9" r="1.5"/>
<circle class="c9" cx="163.3" cy="52.0" r="1.5"/>
<circle class="c9" cx="254.0" cy="48.0" r="1.5"/>
<circle class="c10" cx="214.1" cy="26.6" r="1.5"/>
<circle class="c7" cx="136.2" cy="68.2" r="1.5"/>
<circle class="c12" cx="200.1" cy="31.9" r="1.5"/>
<circle class="c10" cx="157.6" cy="52.8" r="1.5"/>
<circle class="c13" cx="182.9" cy="35.3" r="1.5"/>
<circle class="c11" cx="132.3" cy="57.2" r="1.5"/>
<circle class="c9" cx="141.6" cy="58.2" r="1.5"/>
<circle class="c12" cx="180.4" cy="44.0" r="1.5"/>
<circle class="c9" cx="135.0" cy="69.7" r="1.5"/>
<circle class="c11" cx="213.8" cy="23.3" r="1.5"/>
<circle class="c14" cx="139.4" cy="54.4" r="1.5"/>
<circle class="c15" cx="148.9" cy="48.8" r="1.5"/>
<circle class="c12" cx="192.5" cy="33.5" r="1.5"/>
<circle class="c14" cx="142.3" cy="51.9" r="1.5"/>
<circle class="c9" cx="202.9" cy="35.0" r="1.5"/>
<circle class="c8" cx="144.1" cy="64.9" r="1.5"/>
<circle class="c12" cx="194.0" cy="30.5" r="1.5"/>
<circle class="c11" cx="216.1" cy="19.9" r="1.5"/>
<circle class="c9" cx="217.6" cy="26.5" r="1.5"/>
<circle class="c7" cx="227.9" cy="36.4" r="1.5"/>
<circle class="c13" cx="178.8" cy="33.9" r="1.5"/>
<circle class="c10" cx="201.5" cy="34.4" r="1.5"/>
<circle class="c11" cx="139.3" cy="57.0" r="1.5"/>
<circle class="c12" cx="201.4" cy="25.0" r="1.5"/>
<circle class="c12" cx="191.9" cy="30.5" r="1.5"/>
<circle class="c13" cx="195.4" cy="29.7" r="1.5"/>
<circle class="c8" cx="151.7" cy="57.9" r="1.5"/>
<circle class="c11" cx="132.3" cy="61.5" r="1.5"/>
<circle class="c9" cx="119.4" cy="68.1" r="1.5"/>
<circle class="c13" cx="138.7" cy="55.6" r="1.5"/>
<circle class="c14" cx="192.5" cy="25.8" r="1.5"/>
<circle class="c12" cx="167.7" cy="42.5" r="1.5"/>
<circle class="c10" cx="122.5" cy="63.0" r="1.5"/>
<circle class="c11" cx="182.6" cy="36.6" r="1.5"/>
<circle class="c8" cx="147.0" cy="59.0" r="1.5"/>
<circle class="c12" cx="144.0" cy="52.9" r="1.5"/>
<circle class="c10" cx="204.3" cy="35.2" r="1.5"/>
<circle class="c11" cx="190.4" cy="33.6" r="1.5"/>
<circle class="c8" cx="153.2" cy="57.9" r="1.5"/>
<circle class="c13" cx="150.2" cy="48.8" r="1.5"/>
<circle class="c13" cx="152.9" cy="47.1" r="1.5"/>
<circle class="c11" cx="211.5" cy="30.7" r="1.5"/>
<circle class="c8" cx="192.7" cy="64.7" r="1.5"/>
<circle class="c12" cx="128.1" cy="60.4" r="1.5"/>
<circle class="c11" cx="164.1" cy="47.9" r="1.5"/>
<circle class="c11" cx="135.7" cy="60.6" r="1.5"/>
<circle class="c13" cx="167.0" cy="39.2" r="1.5"/>
<circle class="c10" cx="182.5" cy="41.5" r="1.5"/>
<circle class="c10" cx="146.0" cy="52.6" r="1.5"/>
<circle class="c13" cx="182.1" cy="33.2" r="1.5"/>
<circle class="c12" cx="177.9" cy="37.9" r="1.5"/>
<circle class="c11" cx="135.8" cy="56.5" r="1.5"/>
<circle class="c13" cx="125.7" cy="61.5" r="1.5"/>
<circle class="c13" cx="144.3" cy="53.4" r="1.5"/>
<circle class="c10" cx="209.9" cy="31.1" r="1.5"/>
<circle class="c12" cx="168.1" cy="43.1" r="1.5"/>
<circle class="c10" cx="186.3" cy="34.3" r="1.5"/>
<circle class="c12" cx="187.9" cy="33.5" r="1.5"/>
<circle class="c7" cx="207.8" cy="79.3" r="1.5"/>
<circle class="c9" cx="152.2" cy="59.6" r="1.5"/>
<circle class="c11" cx="149.2" cy="52.4" r="1.5"/>
<circle class="c13" cx="129.5" cy="59.7" r="1.5"/>
<circle class="c11" cx="151.4" cy="52.7" r="1.5"/>
<circle class="c11" cx="222.7" cy="17.6" r="1.5"/>
<circle class="c8" cx="189.8" cy="49.0" r="1.5"/>
<circle class="c10" cx="169.3" cy="47.2" r="1.5"/>
<circle class="c12" cx="169.1" cy="43.2" r="1.5"/>
<circle class="c14" cx="132.3" cy="56.3" r="1.5"/>
<circle class="c13" cx="177.4" cy="35.1" r="1.5"/>
<circle class="c12" cx="217.0" cy="20.2" r="1.5"/>
<circle class="c13" cx="199.3" cy="23.9" r="1.5"/>
<circle class="c12" cx="198.8" cy="30.4" r="1.5"/>
<circle class="c7" cx="248.0" cy="65.0" r="1.5"/>
<circle class="c11" cx="146.7" cy="52.9" r="1.5"/>
<circle class="c11" cx="163.8" cy="45.8" r="1.5"/>
<circle class="c15" cx="185.4" cy="31.3" r="1.5"/>
<circle class="c11" cx="144.8" cy="55.0" r="1.5"/>
<circle class="c8" cx="233.2" cy="21.2" r="1.5"/>
<circle class="c15" cx="137.4" cy="54.5" r="1.5"/>
<circle class="c9" cx="166.7" cy="68.5" r="1.5"/>
<circle class="c8" cx="147.8" cy="70.6" r="1.5"/>
<circle class="c11" cx="212.9" cy="25.4" r="1.5"/>
<circle class="c9" cx="130.7" cy="65.1" r="1.5"/>
<circle class="c14" cx="164.0" cy="38.7" r="1.5"/>
<circle class="c8" cx="220.4" cy="28.2" r="1.5"/>
<circle class="c10" cx="191.2" cy="48.8" r="1.5"/>
<circle class="c11" cx="218.7" cy="20.5" r="1.5"/>
<circle class="c14" cx="204.3" cy="27.6" r="1.5"/>
<circle class="c12" cx="142.4" cy="53.5" r="1.5"/>
<circle class="c9" cx="207.6" cy="30.2" r="1.5"/>
<circle class="c13" cx="179.2" cy="39.2" r="1.5"/>
<circle class="c6" cx="253.9" cy="40.0" r="1.5"/>
<circle class="c9" cx="236.0" cy="72.0" r="1.5"/>
<circle class="c11" cx="206.8" cy="27.2" r="1.5"/>
<circle class="c13" cx="177.6" cy="38.0" r="1.5"/>
<circle class="c14" cx="194.4" cy="28.2" r="1.5"/>
<circle class="c11" cx="200.8" cy="28.5" r="1.5"/>
<circle class="c12" cx="206.0" cy="23.3" r="1.5"/>
<circle class="c10" cx="193.6" cy="34.2" r="1.5"/>
<circle class="c11" cx="150.4" cy="64.2" r="1.5"/>
<circle class="c13" cx="162.4" cy="43.0" r="1.5"/>
<circle class="c10" cx="215.5" cy="24.9" r="1.5"/>
<circle class="c8" cx="205.4" cy="42.8" r="1.5"/>
<circle class="c11" cx="168.4" cy="42.5" r="1.5"/>
<circle class="c11" cx="179.6" cy="44.6" r="1.5"/>
<circle class="c14" cx="190.6" cy="28.5" r="1.5"/>
<circle class="c15" cx="189.3" cy="28.4" r="1.5"/>
<circle class="c11" cx="189.2" cy="33.3" r="1.5"/>
<circle class="c8" cx="128.8" cy="64.3" r="1.5"/>
<circle class="c11" cx="135.5" cy="58.0" r="1.5"/>
<circle class="c11" cx="175.8" cy="43.8" r="1.5"/>
<circle class="c9" cx="214.4" cy="36.0" r="1.5"/>
<circle class="c9" cx="162.5" cy="55.6" r="1.5"/>
<circle class="c11" cx="152.8" cy="50.8" r="1.5"/>
<circle class="c12" cx="142.5" cy="54.9" r="1.5"/>
<circle class="c9" cx="153.2" cy="57.0" r="1.5"/>
<circle class="c11" cx="186.3" cy="32.6" r="1.5"/>
<circle class="c11" cx="190.8" cy="30.8" r="1.5"/>
<circle class="c11" cx="186.3" cy="40.7" r="1.5"/>
<circle class="c15" cx="168.3" cy="39.3" r="1.5"/>
<circle class="c10" cx="257.5" cy="11.3" r="1.5"/>
<circle class="c15" cx="174.9" cy="34.4" r="1.5"/>
<circle class="c13" cx="211.4" cy="24.6" r="1.5"/>
<circle class="c10" cx="217.8" cy="58.8" r="1.5"/>
<circle class="c13" cx="144.5" cy="52.2" r="1.5"/>
<circle class="c14" cx="183.1" cy="33.6" r="1.5"/>
<circle class="c9" cx="178.7" cy="49.3" r="1.5"/>
<circle class="c14" cx="192.8" cy="27.4" r="1.5"/>
<circle class="c12" cx="205.8" cy="25.3" r="1.5"/>
<circle class="c13" cx="129.4" cy="58.1" r="1.5"/>
<circle class="c11" cx="173.1" cy="46.5" r="1.5"/>
<circle class="c10" cx="204.9" cy="29.2" r="1.5"/>
<circle class="c10" cx="175.3" cy="43.4" r="1.5"/>
<circle class="c15" cx="161.2" cy="41.9" r="1.5"/>
<circle class="c7" cx="126.4" cy="66.4" r="1.5"/>
<circle class="c13" cx="141.9" cy="51.9" r="1.5"/>
<circle class="c8" cx="188.6" cy="82.0" r="1.5"/>
<circle class="c14" cx="153.0" cy="47.4" r="1.5"/>
<circle class="c11" cx="151.7" cy="49.6" r="1.5"/>
<circle class="c12" cx="125.5" cy="60.5" r="1.5"/>
<circle class="c12" cx="220.0" cy="17.6" r="1.5"/>
<circle class="c10" cx="219.4" cy="19.6" r="1.5"/>
<circle class="c7" cx="195.5" cy="52.0" r="1.5"/>
<circle class="c11" cx="217.4" cy="26.0" r="1.5"/>
<circle class="c13" cx="201.1" cy="26.9" r="1.5"/>
<circle class="c11" cx="125.4" cy="59.3" r="1.5"/>
<circle class="c11" cx="208.3" cy="25.2" r="1.5"/>
<circle class="c11" cx="177.3" cy="39.3" r="1.5"/>
<circle class="c9" cx="168.7" cy="48.2" r="1.5"/>
<circle class="c13" cx="181.6" cy="34.4" r="1.5"/>
<circle class="c10" cx="210.0" cy="21.3" r="1.5"/>
<circle class="c11" cx="133.2" cy="57.9" r="1.5"/>
<circle class="c12" cx="186.6" cy="32.5" r="1.5"/>
<circle class="c13" cx="171.3" cy="40.6" r="1.5"/>
<circle class="c7" cx="196.0" cy="56.9" r="1.5"/>
<circle class="c13" cx="153.5" cy="44.7" r="1.5"/>
<circle class="c12" cx="200.4" cy="31.6" r="1.5"/>
<circle class="c11" cx="120.3" cy="62.9" r="1.5"/>
<circle class="c8" cx="137.9" cy="64.6" r="1.5"/>
<circle class="c13" cx="155.8" cy="47.8" r="1.5"/>
<circle class="c11" cx="161.3" cy="50.8" r="1.5"/>
<circle class="c13" cx="178.1" cy="40.4" r="1.5"/>
<circle class="c9" cx="140.1" cy="59.4" r="1.5"/>
<circle class="c11" cx="203.9" cy="35.4" r="1.5"/>
<circle class="c13" cx="178.9" cy="42.1" r="1.5"/>
<circle class="c12" cx="182.1" cy="40.2" r="1.5"/>
<circle class="c11" cx="206.8" cy="25.5" r="1.5"/>
<circle class="c9" cx="247.5" cy="17.7" r="1.5"/>
<circle class="c8" cx="188.8" cy="54.5" r="1.5"/>
<circle class="c11" cx="213.9" cy="25.3" r="1.5"/>
<circle class="c11" cx="182.1" cy="45.2" r="1.5"/>
<circle class="c13" cx="188.7" cy="30.2" r="1.5"/>
<circle class="c11" cx="211.1" cy="26.3" r="1.5"/>
<circle class="c11" cx="189.3" cy="34.0" r="1.5"/>
<circle class="c15" cx="161.6" cy="41.7" r="1.5"/>
<circle class="c12" cx="145.9" cy="52.0" r="1.5"/>
<circle class="c14" cx="179.7" cy="37.4" r="1.5"/>
<circle class="c12" cx="118.5" cy="62.4" r="1.5"/>
<circle class="c11" cx="170.5" cy="45.2" r="1.5"/>
<circle class="c10" cx="160.7" cy="48.9" r="1.5"/>
<circle class="c11" cx="132.9" cy="61.1" r="1.5"/>
<circle class="c13" cx="163.0" cy="43.8" r="1.5"/>
<circle class="c13" cx="205.5" cy="26.6" r="1.5"/>
<circle class="c11" cx="113.5" cy="65.3" r="1.5"/>
<circle class="c7" cx="169.7" cy="55.9" r="1.5"/>
<circle class="c12" cx="158.0" cy="46.6" r="1.5"/>
<circle class="c10" cx="172.2" cy="64.2" r="1.5"/>
<circle class="c10" cx="190.4" cy="38.4" r="1.5"/>
<circle class="c11" cx="214.1" cy="20.4" r="1.5"/>
<circle class="c8" cx="181.8" cy="75.7" r="1.5"/>
<circle class="c13" cx="164.5" cy="41.1" r="1.5"/>
<circle class="c9" cx="187.1" cy="56.2" r="1.5"/>
<circle class="c12" cx="211.7" cy="21.5" r="1.5"/>
<circle class="c11" cx="223.1" cy="19.0" r="1.5"/>
<circle class="c8" cx="138.6" cy="74.4" r="1.5"/>
<circle class="c11" cx="206.6" cy="22.8" r="1.5"/>
<circle class="c6" cx="231.4" cy="46.3" r="1.5"/>
<circle class="c11" cx="215.2" cy="20.8" r="1.5"/>
<circle class="c13" cx="164.5" cy="41.2" r="1.5"/>
<circle class="c8" cx="137.8" cy="61.4" r="1.5"/>
<circle class="c10" cx="199.1" cy="35.8" r="1.5"/>
<circle class="c10" cx="149.3" cy="57.8" r="1.5"/>
<circle class="c14" cx="159.6" cy="45.7" r="1.5"/>
<circle class="c7" cx="256.4" cy="29.5" r="1.5"/>
<circle class="c14" cx="180.2" cy="34.3" r="1.5"/>
<circle class="c12" cx="220.1" cy="21.2" r="1.5"/>
<circle class="c12" cx="193.6" cy="27.7" r="1.5"/>
<circle class="c9" cx="212.1" cy="42.7" r="1.5"/>
<circle class="c12" cx="203.3" cy="29.7" r="1.5"/>
<circle class="c13" cx="156.9" cy="46.7" r="1.5"/>
<circle class="c12" cx="170.1" cy="44.2" r="1.5"/>
<circle class="c11" cx="138.6" cy="58.6" r="1.5"/>
<circle class="c12" cx="190.2" cy="34.1" r="1.5"/>
<circle class="c9" cx="180.5" cy="43.4" r="1.5"/>
<circle class="c13" cx="164.2" cy="41.5" r="1.5"/>
<circle class="c9" cx="188.2" cy="43.3" r="1.5"/>
<circle class="c14" cx="135.6" cy="55.2" r="1.5"/>
<circle class="c11" cx="174.8" cy="42.8" r="1.5"/>
<circle class="c13" cx="150.7" cy="47.3" r="1.5"/>
<circle class="c12" cx="167.4" cy="40.7" r="1.5"/>
<circle class="c13" cx="162.0" cy="43.1" r="1.5"/>
<circle class="c8" cx="205.1" cy="40.9" r="1.5"/>
<circle class="c10" cx="195.8" cy="37.6" r="1.5"/>
<circle class="c14" cx="179.0" cy="34.9" r="1.5"/>
<circle class="c10" cx="137.7" cy="58.4" r="1.5"/>
<circle class="c10" cx="157.2" cy="49.6" r="1.5"/>
<circle class="c10" cx="222.9" cy="22.0" r="1.5"/>
<circle class="c15" cx="145.1" cy="50.1" r="1.5"/>
<circle class="c11" cx="184.6" cy="40.8" r="1.5"/>
<circle class="c6" cx="214.3" cy="39.5" r="1.5"/>
<circle class="c11" cx="174.8" cy="81.6" r="1.5"/>
<circle class="c9" cx="170.0" cy="77.4" r="1.5"/>
<circle class="c11" cx="184.5" cy="38.3" r="1.5"/>
<circle class="c10" cx="118.0" cy="63.5" r="1.5"/>
<circle class="c9" cx="138.7" cy="60.0" r="1.5"/>
<circle class="c9" cx="138.3" cy="61.0" r="1.5"/>
<circle class="c12" cx="151.0" cy="50.6" r="1.5"/>
<circle class="c12" cx="162.2" cy="43.7" r="1.5"/>
<circle class="c10" cx="214.0" cy="35.7" r="1.5"/>
<circle class="c10" cx="190.4" cy="31.9" r="1.5"/>
<circle class="c12" cx="165.9" cy="41.8" r="1.5"/>
<circle class="c11" cx="152.9" cy="48.2" r="1.5"/>
<circle class="c15" cx="127.0" cy="58.8" r="1.5"/>
<circle class="c10" cx="177.8" cy="40.2" r="1.5"/>
<circle class="c12" cx="197.4" cy="27.3" r="1.5"/>
<circle class="c13" cx="188.7" cy="33.9" r="1.5"/>
<circle class="c11" cx="217.8" cy="21.5" r="1.5"/>
<circle class="c10" cx="177.4" cy="43.1" r="1.5"/>
<circle class="c9" cx="192.7" cy="39.5" r="1.5"/>
<circle class="c13" cx="173.1" cy="40.9" r="1.5"/>
<circle class="c10" cx="175.6" cy="45.1" r="1.5"/>
<circle class="c9" cx="155.7" cy="60.1" r="1.5"/>
<circle class="c13" cx="150.3" cy="48.7" r="1.5"/>
<circle class="c8" cx="157.6" cy="66.1" r="1.5"/>
<circle class="c10" cx="155.9" cy="52.0" r="1.5"/>
<circle class="c11" cx="209.2" cy="29.4" r="1.5"/>
<circle class="c13" cx="112.3" cy="66.4" r="1.5"/>
<circle class="c13" cx="168.4" cy="41.8" r="1.5"/>
<circle class="c12" cx="144.6" cy="54.8" r="1.5"/>
<circle class="c12" cx="180.1" cy="36.3" r="1.5"/>
<circle class="c8" cx="161.0" cy="53.2" r="1.5"/>
<circle class="c12" cx="225.9" cy="17.9" r="1.5"/>
<circle class="c14" cx="171.4" cy="41.7" r="1.5"/>
<circle class="c8" cx="165.5" cy="51.8" r="1.5"/>
<circle class="c12" cx="201.4" cy="28.6" r="1.5"/>
<circle class="c13" cx="159.0" cy="43.9" r="1.5"/>
<circle class="c13" cx="185.3" cy="32.0" r="1.5"/>
<circle class="c14" cx="155.5" cy="46.0" r="1.5"/>
<circle class="c10" cx="221.6" cy="26.0" r="1.5"/>
<circle class="c8" cx="136.9" cy="67.7" r="1.5"/>
<circle class="c12" cx="154.8" cy="44.8" r="1.5"/>
<circle class="c11" cx="225.3" cy="17.5" r="1.5"/>
<circle class="c12" cx="202.2" cy="25.9" r="1.5"/>
<circle class="c9" cx="144.4" cy="55.4" r="1.5"/>
<circle class="c11" cx="224.1" cy="19.2" r="1.5"/>
<circle class="c10" cx="198.7" cy="38.5" r="1.5"/>
<circle class="c14" cx="169.9" cy="37.9" r="1.5"/>
<circle class="c14" cx="166.2" cy="40.5" r="1.5"/>
<circle class="c7" cx="211.8" cy="44.4" r="1.5"/>
<circle class="c14" cx="164.9" cy="40.6" r="1.5"/>
<circle class="c12" cx="159.7" cy="47.5" r="1.5"/>
<circle class="c13" cx="143.1" cy="51.4" r="1.5"/>
<circle class="c12" cx="197.9" cy="26.8" r="1.5"/>
<circle class="c13" cx="156.5" cy="48.7" r="1.5"/>
<circle class="c12" cx="171.6" cy="38.2" r="1.5"/>
<circle class="c9" cx="113.9" cy="66.0" r="1.5"/>
<circle class="c12" cx="202.3" cy="27.4" r="1.5"/>
<circle class="c12" cx="193.1" cy="34.0" r="1.5"/>
<circle class="c9" cx="130.9" cy="64.6" r="1.5"/>
<circle class="c10" cx="141.7" cy="55.7" r="1.5"/>
<circle class="c12" cx="160.4" cy="48.3" r="1.5"/>
<circle class="c10" cx="158.9" cy="51.2" r="1.5"/>
<circle class="c11" cx="202.5" cy="32.6" r="1.5"/>
<circle class="c8" cx="129.9" cy="64.8" r="1.5"/>
<circle class="c7" cx="215.8" cy="36.0" r="1.5"/>
<circle class="c11" cx="181.8" cy="37.7" r="1.5"/>
<circle class="c9" cx="193.3" cy="53.0" r="1.5"/>
<circle class="c9" cx="186.9" cy="36.5" r="1.5"/>
<circle class="c12" cx="175.4" cy="38.5" r="1.5"/>
<circle class="c8" cx="218.8" cy="66.0" r="1.5"/>
<circle class="c14" cx="198.3" cy="23.9" r="1.5"/>
<circle class="c13" cx="178.1" cy="34.9" r="1.5"/>
<circle class="c9" cx="162.3" cy="55.3" r="1.5"/>
<circle class="c11" cx="175.0" cy="41.7" r="1.5"/>
<circle class="c14" cx="174.6" cy="36.5" r="1.5"/>
<circle class="c11" cx="196.8" cy="30.0" r="1.5"/>
<circle class="c11" cx="174.3" cy="39.9" r="1.5"/>
<circle class="c12" cx="214.7" cy="18.7" r="1.5"/>
<circle class="c11" cx="144.9" cy="50.7" r="1.5"/>
<circle class="c12" cx="167.7" cy="42.0" r="1.5"/>
<circle class="c8" cx="194.2" cy="44.7" r="1.5"/>
<circle class="c12" cx="194.0" cy="28.2" r="1.5"/>
<circle class="c14" cx="148.3" cy="48.8" r="1.5"/>
<circle class="c9" cx="168.4" cy="63.7" r="1.5"/>
<circle class="c11" cx="197.8" cy="32.5" r="1.5"/>
<circle class="c11" cx="187.7" cy="37.9" r="1.5"/>
<circle class="c13" cx="199.0" cy="26.1" r="1.5"/>
<circle class="c12" cx="161.6" cy="50.2" r="1.5"/>
<circle class="c13" cx="133.8" cy="56.4" r="1.5"/>
<circle class="c8" cx="190.3" cy="59.8" r="1.5"/>
<circle class="c12" cx="124.1" cy="61.0" r="1.5"/>
<circle class="c13" cx="206.9" cy="22.3" r="1.5"/>
<circle class="c12" cx="207.0" cy="25.7" r="1.5"/>
<circle class="c12" cx="151.4" cy="50.4" r="1.5"/>
<circle class="c10" cx="159.5" cy="47.8" r="1.5"/>
<circle class="c13" cx="173.1" cy="39.4" r="1.5"/>
<circle class="c14" cx="159.7" cy="47.6" r="1.5"/>
<circle class="c12" cx="159.1" cy="44.9" r="1.5"/>
<circle class="c13" cx="146.2" cy="49.7" r="1.5"/>
<circle class="c11" cx="180.1" cy="39.8" r="1.5"/>
<circle class="c12" cx="174.7" cy="39.3" r="1.5"/>
<circle class="c14" cx="173.4" cy="41.6" r="1.5"/>
<circle class="c10" cx="274.9" cy="9.6" r="1.5"/>
<circle class="c12" cx="176.4" cy="41.8" r="1.5"/>
<circle class="c10" cx="177.7" cy="42.6" r="1.5"/>
<circle class="c11" cx="181.1" cy="39.8" r="1.5"/>
<circle class="c12" cx="151.3" cy="48.3" r="1.5"/>
<circle class="c10" cx="132.4" cy="67.5" r="1.5"/>
<circle class="c14" cx="201.2" cy="26.0" r="1.5"/>
<circle class="c9" cx="170.0" cy="62.5" r="1.5"/>
<circle class="c10" cx="127.9" cy="66.3" r="1.5"/>
<circle class="c13" cx="214.5" cy="25.0" r="1.5"/>
<circle class="c10" cx="246.3" cy="16.2" r="1.5"/>
<circle class="c13" cx="166.9" cy="37.4" r="1.5"/>
<circle class="c11" cx="218.4" cy="23.3" r="1.5"/>
<circle class="c10" cx="189.9" cy="77.4" r="1.5"/>
<circle class="c10" cx="168.8" cy="44.0" r="1.5"/>
<circle class="c7" cx="143.8" cy="60.6" r="1.5"/>
<circle class="c14" cx="190.8" cy="31.8" r="1.5"/>
<circle class="c14" cx="160.6" cy="42.9" r="1.5"/>
<circle class="c13" cx="153.5" cy="47.7" r="1.5"/>
<circle class="c14" cx="175.4" cy="35.3" r="1.5"/>
<circle class="c9" cx="129.0" cy="66.8" r="1.5"/>
<circle class="c9" cx="218.2" cy="26.6" r="1.5"/>
<circle class="c8" cx="212.5" cy="38.6" r="1.5"/>
<circle class="c8" cx="185.4" cy="50.2" r="1.5"/>
<circle class="c12" cx="182.7" cy="31.2" r="1.5"/>
<circle class="c13" cx="219.5" cy="18.3" r="1.5"/>
<circle class="c12" cx="142.2" cy="52.1" r="1.5"/>
<circle class="c11" cx="201.2" cy="25.7" r="1.5"/>
<circle class="c12" cx="130.9" cy="58.7" r="1.5"/>
<circle class="c13" cx="118.2" cy="63.1" r="1.5"/>
<circle class="c8" cx="180.8" cy="49.3" r="1.5"/>
<circle class="c10" cx="175.2" cy="43.4" r="1.5"/>
<circle class="c9" cx="160.1" cy="51.1" r="1.5"/>
<circle class="c13" cx="152.8" cy="46.2" r="1.5"/>
<circle class="c13" cx="167.0" cy="39.0" r="1.5"/>
<circle class="c12" cx="183.1" cy="35.4" r="1.5"/>
<circle class="c7" cx="183.7" cy="59.6" r="1.5"/>
<circle class="c11" cx="137.8" cy="54.9" r="1.5"/>
<circle class="c13" cx="190.4" cy="30.7" r="1.5"/>
<circle class="c10" cx="190.7" cy="40.2" r="1.5"/>
<circle class="c9" cx="149.5" cy="56.7" r="1.5"/>
<circle class="c10" cx="244.4" cy="12.3" r="1.5"/>
<circle class="c14" cx="111.9" cy="64.8" r="1.5"/>
<circle class="c8" cx="160.0" cy="81.0" r="1.5"/>
<circle class="c11" cx="220.6" cy="25.5" r="1.5"/>
<circle class="c11" cx="204.4" cy="36.8" r="1.5"/>
<circle class="c9" cx="137.9" cy="61.6" r="1.5"/>
<circle class="c13" cx="197.3" cy="29.7" r="1.5"/>
<circle class="c13" cx="181.3" cy="35.1" r="1.5"/>
<circle class="c13" cx="212.1" cy="21.5" r="1.5"/>
<circle class="c14" cx="208.0" cy="24.3" r="1.5"/>
<circle class="c12" cx="198.0" cy="26.9" r="1.5"/>
<circle class="c10" cx="209.0" cy="32.3" r="1.5"/>
<circle class="c11" cx="206.6" cy="30.0" r="1.5"/>
<circle class="c10" cx="201.0" cy="27.6" r="1.5"/>
<circle class="c9" cx="182.8" cy="58.8" r="1.5"/>
<circle class="c8" cx="205.5" cy="39.4" r="1.5"/>
<circle class="c10" cx="207.0" cy="28.7" r="1.5"/>
<circle class="c12" cx="156.3" cy="51.4" r="1.5"/>
<circle class="c12" cx="216.6" cy="21.5" r="1.5"/>
<circle class="c11" cx="179.5" cy="42.3" r="1.5"/>
<circle class="c7" cx="192.3" cy="62.3" r="1.5"/>
<circle class="c11" cx="150.1" cy="52.4" r="1.5"/>
<circle class="c9" cx="156.5" cy="53.8" r="1.5"/>
<circle class="c10" cx="186.1" cy="42.3" r="1.5"/>
<circle class="c10" cx="177.8" cy="44.6" r="1.5"/>
<circle class="c6" cx="220.8" cy="58.9" r="1.5"/>
<circle class="c12" cx="187.3" cy="36.8" r="1.5"/>
<circle class="c11" cx="199.7" cy="33.4" r="1.5"/>
<circle class="c14" cx="156.7" cy="45.3" r="1.5"/>
<circle class="c8" cx="200.2" cy="60.9" r="1.5"/>
<circle class="c12" cx="206.8" cy="22.9" r="1.5"/>
<circle class="c14" cx="181.9" cy="29.1" r="1.5"/>
<circle class="c11" cx="206.4" cy="29.7" r="1.5"/>
<circle class="c10" cx="212.2" cy="30.1" r="1.5"/>
<circle class="c14" cx="161.4" cy="44.1" r="1.5"/>
<circle class="c13" cx="184.9" cy="34.8" r="1.5"/>
<circle class="c12" cx="206.2" cy="27.2" r="1.5"/>
<circle class="c8" cx="233.5" cy="23.3" r="1.5"/>
<circle class="c13" cx="126.8" cy="60.2" r="1.5"/>
<circle class="c9" cx="159.7" cy="56.6" r="1.5"/>
<circle class="c14" cx="162.7" cy="40.8" r="1.5"/>
<circle class="c8" cx="222.5" cy="26.8" r="1.5"/>
<circle class="c11" cx="150.5" cy="52.5" r="1.5"/>
<circle class="c12" cx="205.4" cy="28.2" r="1.5"/>
<circle class="c8" cx="215.5" cy="82.7" r="1.5"/>
<circle class="c13" cx="167.8" cy="38.7" r="1.5"/>
<circle class="c12" cx="145.4" cy="55.0" r="1.5"/>
<circle class="c12" cx="209.7" cy="25.5" r="1.5"/>
<circle class="c9" cx="212.6" cy="36.4" r="1.5"/>
<circle class="c7" cx="202.5" cy="58.7" r="1.5"/>
<circle class="c13" cx="167.7" cy="40.2" r="1.5"/>
<circle class="c7" cx="214.7" cy="39.1" r="1.5"/>
<circle class="c10" cx="161.9" cy="66.8" r="1.5"/>
<circle class="c12" cx="115.6" cy="63.6" r="1.5"/>
<circle class="c8" cx="179.6" cy="48.0" r="1.5"/>
<circle class="c11" cx="159.7" cy="42.2" r="1.5"/>
<circle class="c14" cx="166.1" cy="39.3" r="1.5"/>
<circle class="c13" cx="208.1" cy="24.3" r="1.5"/>
<circle class="c8" cx="132.4" cy="65.3" r="1.5"/>
<circle class="c10" cx="188.3" cy="35.2" r="1.5"/>
<circle class="c8" cx="272.0" cy="31.8" r="1.5"/>
<circle class="c11" cx="185.0" cy="36.8" r="1.5"/>
<circle class="c11" cx="175.4" cy="40.8" r="1.5"/>
<circle class="c11" cx="123.6" cy="61.6" r="1.5"/>
<circle class="c12" cx="159.6" cy="45.6" r="1.5"/>
<circle class="c13" cx="140.3" cy="53.6" r="1.5"/>
<circle class="c11" cx="149.4" cy="52.3" r="1.5"/>
<circle class="c11" cx="205.3" cy="27.8" r="1.5"/>
<circle class="c10" cx="219.7" cy="26.2" r="1.5"/>
<circle class="c14" cx="197.9" cy="27.4" r="1.5"/>
<circle class="c15" cx="139.7" cy="53.3" r="1.5"/>
<circle class="c13" cx="171.3" cy="38.5" r="1.5"/>
<circle class="c10" cx="233.7" cy="16.5" r="1.5"/>
<circle class="c8" cx="112.0" cy="64.5" r="1.5"/>
<circle class="c7" cx="220.3" cy="37.6" r="1.5"/>
<circle class="c12" cx="146.4" cy="53.7" r="1.5"/>
<circle class="c12" cx="191.3" cy="29.0" r="1.5"/>
<circle class="c13" cx="119.5" cy="62.3" r="1.5"/>
<circle class="c11" cx="167.8" cy="46.8" r="1.5"/>
<circle class="c10" cx="216.5" cy="26.6" r="1.5"/>
<circle class="c12" cx="151.6" cy="50.4" r="1.5"/>
<circle class="c10" cx="210.2" cy="19.8" r="1.5"/>
<circle class="c13" cx="180.4" cy="34.0" r="1.5"/>
<circle class="c11" cx="145.5" cy="52.5" r="1.5"/>
<circle class="c13" cx="172.0" cy="38.3" r="1.5"/>
<circle class="c12" cx="189.2" cy="33.7" r="1.5"/>
<circle class="c9" cx="246.0" cy="40.0" r="1.5"/>
<circle class="c12" cx="208.6" cy="25.0" r="1.5"/>
<circle class="c8" cx="204.9" cy="38.7" r="1.5"/>
<circle class="c11" cx="146.1" cy="53.0" r="1.5"/>
<circle class="c10" cx="220.2" cy="23.0" r="1.5"/>
<circle class="c13" cx="182.7" cy="36.6" r="1.5"/>
<circle class="c12" cx="202.1" cy="30.6" r="1.5"/>
<circle class="c15" cx="150.0" cy="48.9" r="1.5"/>
<circle class="c12" cx="151.7" cy="49.0" r="1.5"/>
<circle class="c8" cx="180.3" cy="47.0" r="1.5"/>
<circle class="c9" cx="244.0" cy="21.3" r="1.5"/>
<circle class="c9" cx="99.0" cy="70.6" r="1.5"/>
<circle class="c11" cx="137.2" cy="56.0" r="1.5"/>
<circle class="c9" cx="114.0" cy="66.0" r="1.5"/>
<circle class="c11" cx="198.4" cy="33.2" r="1.5"/>
<circle class="c13" cx="156.8" cy="45.3" r="1.5"/>
<circle class="c11" cx="185.4" cy="37.1" r="1.5"/>
<circle class="c14" cx="218.3" cy="16.4" r="1.5"/>
<circle class="c6" cx="285.0" cy="46.0" r="1.5"/>
<circle class="c12" cx="162.2" cy="46.6" r="1.5"/>
<circle class="c11" cx="171.5" cy="41.4" r="1.5"/>
<circle class="c15" cx="175.5" cy="36.2" r="1.5"/>
<circle class="c12" cx="160.0" cy="48.2" r="1.5"/>
<circle class="c7" cx="227.0" cy="28.3" r="1.5"/>
<circle class="c11" cx="162.5" cy="46.3" r="1.5"/>
<circle class="c11" cx="204.9" cy="34.7" r="1.5"/>
<circle class="c9" cx="225.1" cy="19.1" r="1.5"/>
<circle class="c12" cx="140.8" cy="54.5" r="1.5"/>
<circle class="c10" cx="224.2" cy="20.5" r="1.5"/>
<circle class="c9" cx="188.9" cy="43.6" r="1.5"/>
<circle class="c10" cx="178.7" cy="64.8" r="1.5"/>
<circle class="c13" cx="133.4" cy="58.0" r="1.5"/>
<circle class="c13" cx="183.9" cy="32.9" r="1.5"/>
<circle class="c13" cx="119.4" cy="63.2" r="1.5"/>
<circle class="c11" cx="154.3" cy="52.5" r="1.5"/>
<circle class="c9" cx="116.1" cy="66.4" r="1.5"/>
<circle class="c9" cx="148.0" cy="56.3" r="1.5"/>
<circle class="c10" cx="172.5" cy="47.5" r="1.5"/>
<circle class="c10" cx="217.3" cy="24.6" r="1.5"/>
<circle class="c14" cx="172.6" cy="37.3" r="1.5"/>
<circle class="c12" cx="198.5" cy="32.5" r="1.5"/>
<circle class="c8" cx="156.4" cy="55.6" r="1.5"/>
<circle class="c14" cx="173.4" cy="35.6" r="1.5"/>
<circle class="c7" cx="213.3" cy="49.0" r="1.5"/>
<circle class="c15" cx="168.9" cy="39.3" r="1.5"/>
<circle class="c8" cx="209.5" cy="57.8" r="1.5"/>
<circle class="c10" cx="149.2" cy="56.8" r="1.5"/>
<circle class="c12" cx="140.9" cy="54.6" r="1.5"/>
<circle class="c14" cx="161.8" cy="40.9" r="1.5"/>
<circle class="c9" cx="197.8" cy="41.9" r="1.5"/>
<circle class="c12" cx="169.1" cy="42.9" r="1.5"/>
<circle class="c9" cx="212.1" cy="55.6" r="1.5"/>
<circle class="c9" cx="150.0" cy="59.1" r="1.5"/>
<circle class="c9" cx="137.3" cy="59.8" r="1.5"/>
<circle class="c13" cx="136.3" cy="57.1" r="1.5"/>
<circle class="c13" cx="199.3" cy="27.7" r="1.5"/>
<circle class="c11" cx="147.1" cy="55.3" r="1.5"/>
<circle class="c14" cx="164.7" cy="40.6" r="1.5"/>
<circle class="c12" cx="226.4" cy="17.8" r="1.5"/>
<circle class="c11" cx="187.9" cy="35.5" r="1.5"/>
<circle class="c14" cx="213.1" cy="20.3" r="1.5"/>
<circle class="c6" cx="220.5" cy="54.4" r="1.5"/>
<circle class="c8" cx="224.5" cy="34.8" r="1.5"/>
<circle class="c14" cx="197.8" cy="28.9" r="1.5"/>
<circle class="c15" cx="202.8" cy="24.1" r="1.5"/>
<circle class="c14" cx="203.4" cy="25.6" r="1.5"/>
<circle class="c11" cx="191.4" cy="40.8" r="1.5"/>
<circle class="c14" cx="191.9" cy="29.6" r="1.5"/>
<circle class="c12" cx="185.8" cy="30.6" r="1.5"/>
<circle class="c14" cx="200.0" cy="25.3" r="1.5"/>
<circle class="c11" cx="143.3" cy="51.3" r="1.5"/>
<circle class="c9" cx="204.5" cy="34.9" r="1.5"/>
<circle class="c12" cx="213.3" cy="23.1" r="1.5"/>
<circle class="c11" cx="151.3" cy="52.5" r="1.5"/>
<circle class="c12" cx="192.7" cy="30.2" r="1.5"/>
<circle class="c8" cx="117.7" cy="67.8" r="1.5"/>
<circle class="c10" cx="177.3" cy="45.0" r="1.5"/>
<circle class="c7" cx="236.0" cy="65.5" r="1.5"/>
<circle class="c6" cx="247.2" cy="38.9" r="1.5"/>
<circle class="c10" cx="192.8" cy="51.0" r="1.5"/>
<circle class="c9" cx="227.9" cy="19.3" r="1.5"/>
<circle class="c13" cx="173.3" cy="36.4" r="1.5"/>
<circle class="c11" cx="222.8" cy="25.4" r="1.5"/>
<circle class="c12" cx="185.1" cy="35.6" r="1.5"/>
<circle class="c10" cx="159.2" cy="49.9" r="1.5"/>
<circle class="c12" cx="143.1" cy="51.7" r="1.5"/>
<circle class="c7" cx="212.3" cy="69.8" r="1.5"/>
<circle class="c8" cx="242.0" cy="26.6" r="1.5"/>
<circle class="c9" cx="156.0" cy="52.3" r="1.5"/>
<circle class="c10" cx="177.0" cy="43.2" r="1.5"/>
<circle class="c6" cx="225.8" cy="53.0" r="1.5"/>
<circle class="c10" cx="216.8" cy="24.1" r="1.5"/>
<circle class="c12" cx="192.2" cy="38.3" r="1.5"/>
<circle class="c12" cx="174.7" cy="38.3" r="1.5"/>
<circle class="c9" cx="189.0" cy="39.6" r="1.5"/>
<circle class="c10" cx="157.5" cy="50.3" r="1.5"/>
<circle class="c7" cx="208.8" cy="39.0" r="1.5"/>
<circle class="c12" cx="170.2" cy="37.4" r="1.5"/>
<circle class="c9" cx="185.8" cy="46.6" r="1.5"/>
<circle class="c9" cx="140.0" cy="65.5" r="1.5"/>
<circle class="c10" cx="215.9" cy="23.6" r="1.5"/>
<circle class="c9" cx="150.3" cy="56.6" r="1.5"/>
<circle class="c14" cx="188.8" cy="30.3" r="1.5"/>
<circle class="c8" cx="206.9" cy="33.4" r="1.5"/>
<circle class="c14" cx="171.4" cy="36.5" r="1.5"/>
<circle class="c14" cx="188.3" cy="30.2" r="1.5"/>
<circle class="c12" cx="163.9" cy="42.2" r="1.5"/>
<circle class="c13" cx="178.9" cy="34.1" r="1.5"/>
<circle class="c12" cx="194.5" cy="33.2" r="1.5"/>
<circle class="c9" cx="218.7" cy="26.9" r="1.5"/>
<circle class="c9" cx="119.4" cy="64.8" r="1.5"/>
<circle class="c12" cx="213.7" cy="28.4" r="1.5"/>
<circle class="c11" cx="198.1" cy="27.4" r="1.5"/>
<circle class="c9" cx="178.3" cy="75.9" r="1.5"/>
<circle class="c8" cx="189.0" cy="58.2" r="1.5"/>
<circle class="c12" cx="170.2" cy="39.8" r="1.5"/>
<circle class="c13" cx="174.3" cy="38.4" r="1.5"/>
<circle class="c15" cx="195.7" cy="26.9" r="1.5"/>
<circle class="c11" cx="158.4" cy="44.1" r="1.5"/>
<circle class="c8" cx="191.1" cy="41.0" r="1.5"/>
<circle class="c12" cx="116.4" cy="63.6" r="1.5"/>
<circle class="c10" cx="186.1" cy="42.4" r="1.5"/>
<circle class="c11" cx="150.5" cy="52.9" r="1.5"/>
<circle class="c10" cx="213.7" cy="28.3" r="1.5"/>
<circle class="c15" cx="166.2" cy="40.2" r="1.5"/>
<circle class="c12" cx="196.3" cy="33.8" r="1.5"/>
<circle class="c9" cx="135.5" cy="66.8" r="1.5"/>
<circle class="c11" cx="158.7" cy="52.4" r="1.5"/>
<circle class="c10" cx="207.3" cy="35.4" r="1.5"/>
<circle class="c11" cx="206.8" cy="25.6" r="1.5"/>
<circle class="c15" cx="158.9" cy="43.8" r="1.5"/>
<circle class="c14" cx="197.2" cy="31.5" r="1.5"/>
<circle class="c13" cx="157.8" cy="46.2" r="1.5"/>
<circle class="c12" cx="201.2" cy="26.4" r="1.5"/>
<circle class="c12" cx="205.8" cy="30.3" r="1.5"/>
<circle class="c12" cx="138.0" cy="54.4" r="1.5"/>
<circle class="c12" cx="173.5" cy="38.8" r="1.5"/>
<circle class="c12" cx="133.6" cy="57.6" r="1.5"/>
<circle class="c11" cx="173.4" cy="39.8" r="1.5"/>
<circle class="c12" cx="156.0" cy="47.8" r="1.5"/>
<circle class="c8" cx="189.8" cy="63.6" r="1.5"/>
<circle class="c13" cx="167.9" cy="39.6" r="1.5"/>
<circle class="c8" cx="180.6" cy="52.6" r="1.5"/>
<circle class="c12" cx="163.5" cy="43.3" r="1.5"/>
<circle class="c9" cx="138.6" cy="57.8" r="1.5"/>
<circle class="c9" cx="163.7" cy="62.0" r="1.5"/>
<circle class="c12" cx="224.4" cy="21.3" r="1.5"/>
<circle class="c12" cx="197.5" cy="33.0" r="1.5"/>
<circle class="c13" cx="156.5" cy="43.7" r="1.5"/>
<circle class="c11" cx="226.6" cy="18.4" r="1.5"/>
<circle class="c11" cx="163.6" cy="44.2" r="1.5"/>
<circle class="c11" cx="212.5" cy="36.3" r="1.5"/>
<circle class="c8" cx="261.1" cy="24.4" r="1.5"/>
<circle class="c5" cx="231.2" cy="69.9" r="1.5"/>
<circle class="c13" cx="158.7" cy="46.9" r="1.5"/>
<circle class="c12" cx="201.0" cy="30.5" r="1.5"/>
<circle class="c9" cx="198.6" cy="52.4" r="1.5"/>
<circle class="c7" cx="200.6" cy="53.2" r="1.5"/>
<circle class="c11" cx="176.2" cy="37.8" r="1.5"/>
<circle class="c9" cx="194.2" cy="37.8" r="1.5"/>
<circle class="c10" cx="159.7" cy="48.6" r="1.5"/>
<circle class="c7" cx="216.5" cy="81.5" r="1.5"/>
<circle class="c11" cx="200.1" cy="33.2" r="1.5"/>
<circle class="c8" cx="227.6" cy="26.2" r="1.5"/>
<circle class="c13" cx="149.7" cy="50.4" r="1.5"/>
<circle class="c11" cx="134.2" cy="58.1" r="1.5"/>
<circle class="c9" cx="147.0" cy="59.0" r="1.5"/>
<circle class="c13" cx="197.2" cy="30.6" r="1.5"/>
<circle class="c8" cx="216.2" cy="80.3" r="1.5"/>
<circle class="c13" cx="161.6" cy="43.9" r="1.5"/>
<circle class="c15" cx="157.9" cy="44.1" r="1.5"/>
<circle class="c10" cx="172.0" cy="55.5" r="1.5"/>
<circle class="c10" cx="222.5" cy="24.2" r="1.5"/>
<circle class="c14" cx="174.2" cy="35.2" r="1.5"/>
<circle class="c13" cx="181.6" cy="31.5" r="1.5"/>
<circle class="c10" cx="169.8" cy="45.8" r="1.5"/>
<circle class="c11" cx="134.4" cy="56.2" r="1.5"/>
<circle class="c13" cx="188.1" cy="29.7" r="1.5"/>
<circle class="c8" cx="103.0" cy="69.5" r="1.5"/>
<circle class="c10" cx="144.1" cy="56.5" r="1.5"/>
<circle class="c8" cx="212.5" cy="36.2" r="1.5"/>
<circle class="c12" cx="191.7" cy="28.1" r="1.5"/>
<circle class="c10" cx="150.6" cy="54.3" r="1.5"/>
<circle class="c12" cx="172.8" cy="39.1" r="1.5"/>
<circle class="c10" cx="208.2" cy="76.5" r="1.5"/>
<circle class="c10" cx="159.3" cy="48.3" r="1.5"/>
<circle class="c12" cx="122.0" cy="64.2" r="1.5"/>
<circle class="c12" cx="220.2" cy="19.6" r="1.5"/>
<circle class="c12" cx="162.6" cy="42.8" r="1.5"/>
<circle class="c9" cx="167.6" cy="66.9" r="1.5"/>
<circle class="c13" cx="167.9" cy="40.4" r="1.5"/>
<circle class="c12" cx="154.1" cy="48.5" r="1.5"/>
<circle class="c11" cx="199.0" cy="31.1" r="1.5"/>
<circle class="c15" cx="185.7" cy="30.3" r="1.5"/>
<circle class="c12" cx="190.5" cy="31.3" r="1.5"/>
<circle class="c10" cx="203.0" cy="30.8" r="1.5"/>
<circle class="c13" cx="133.5" cy="59.2" r="1.5"/>
<circle class="c13" cx="144.2" cy="51.0" r="1.5"/>
<circle class="c7" cx="121.0" cy="67.3" r="1.5"/>
<circle class="c14" cx="168.4" cy="38.6" r="1.5"/>
<circle class="c9" cx="193.0" cy="37.6" r="1.5"/>
<circle class="c14" cx="183.0" cy="32.9" r="1.5"/>
<circle class="c11" cx="177.6" cy="40.8" r="1.5"/>
<circle class="c10" cx="152.1" cy="50.9" r="1.5"/>
<circle class="c12" cx="208.1" cy="25.5" r="1.5"/>
<circle class="c13" cx="134.8" cy="55.3" r="1.5"/>
<circle class="c14" cx="144.8" cy="50.2" r="1.5"/>
<circle class="c12" cx="201.5" cy="26.2" r="1.5"/>
<circle class="c15" cx="159.4" cy="43.0" r="1.5"/>
<circle class="c7" cx="184.5" cy="50.0" r="1.5"/>
<circle class="c11" cx="140.6" cy="54.6" r="1.5"/>
<circle class="c12" cx="218.1" cy="21.1" r="1.5"/>
<circle class="c13" cx="149.5" cy="51.1" r="1.5"/>
<circle class="c12" cx="178.8" cy="36.2" r="1.5"/>
<circle class="c9" cx="180.3" cy="40.2" r="1.5"/>
<circle class="c6" cx="190.0" cy="54.9" r="1.5"/>
<circle class="c10" cx="167.1" cy="49.4" r="1.5"/>
<circle class="c10" cx="159.0" cy="56.2" r="1.5"/>
<circle class="c12" cx="185.5" cy="37.5" r="1.5"/>
<circle class="c12" cx="175.1" cy="35.1" r="1.5"/>
<circle class="c13" cx="171.1" cy="37.9" r="1.5"/>
<circle class="c10" cx="232.2" cy="14.5" r="1.5"/>
<circle class="c12" cx="200.5" cy="26.8" r="1.5"/>
<circle class="c12" cx="137.3" cy="55.0" r="1.5"/>
<circle class="c11" cx="226.2" cy="17.0" r="1.5"/>
<circle class="c11" cx="216.2" cy="20.0" r="1.5"/>
<circle class="c9" cx="220.2" cy="18.7" r="1.5"/>
<circle class="c9" cx="242.7" cy="26.0" r="1.5"/>
<circle class="c7" cx="183.5" cy="59.3" r="1.5"/>
<circle class="c8" cx="175.3" cy="50.3" r="1.5"/>
<circle class="c15" cx="157.2" cy="45.5" r="1.5"/>
<circle class="c9" cx="198.6" cy="52.5" r="1.5"/>
<circle class="c12" cx="165.6" cy="46.3" r="1.5"/>
<circle class="c10" cx="189.7" cy="40.0" r="1.5"/>
<circle class="c11" cx="168.6" cy="45.5" r="1.5"/>
<circle class="c15" cx="150.9" cy="44.6" r="1.5"/>
<circle class="c7" cx="196.8" cy="48.7" r="1.5"/>
<circle class="c10" cx="202.3" cy="35.5" r="1.5"/>
<circle class="c13" cx="165.4" cy="42.1" r="1.5"/>
<circle class="c11" cx="239.9" cy="13.4" r="1.5"/>
<circle class="c11" cx="179.4" cy="40.2" r="1.5"/>
<circle class="c12" cx="162.4" cy="48.5" r="1.5"/>
<circle class="c10" cx="262.8" cy="13.8" r="1.5"/>
<circle class="c9" cx="143.5" cy="61.4" r="1.5"/>
<circle class="c12" cx="198.0" cy="32.8" r="1.5"/>
<circle class="c8" cx="204.8" cy="48.0" r="1.5"/>
<circle class="c14" cx="128.2" cy="59.7" r="1.5"/>
<circle class="c11" cx="212.0" cy="27.3" r="1.5"/>
<circle class="c11" cx="117.6" cy="64.3" r="1.5"/>
<circle class="c6" cx="206.4" cy="86.6" r="1.5"/>
<circle class="c6" cx="240.0" cy="55.0" r="1.5"/>
<circle class="c14" cx="134.1" cy="55.7" r="1.5"/>
<circle class="c9" cx="182.4" cy="47.4" r="1.5"/>
<circle class="c13" cx="150.0" cy="49.1" r="1.5"/>
<circle class="c10" cx="214.7" cy="31.7" r="1.5"/>
<circle class="c12" cx="157.4" cy="46.3" r="1.5"/>
<circle class="c13" cx="167.3" cy="41.2" r="1.5"/>
<circle class="c11" cx="215.7" cy="23.8" r="1.5"/>
<circle class="c12" cx="170.5" cy="42.7" r="1.5"/>
<circle class="c11" cx="244.4" cy="15.8" r="1.5"/>
<circle class="c11" cx="156.8" cy="49.4" r="1.5"/>
<circle class="c10" cx="145.0" cy="56.0" r="1.5"/>
<circle class="c10" cx="198.0" cy="32.8" r="1.5"/>
<circle class="c12" cx="157.9" cy="48.9" r="1.5"/>
<circle class="c11" cx="189.8" cy="29.1" r="1.5"/>
<circle class="c12" cx="150.5" cy="49.6" r="1.5"/>
<circle class="c12" cx="213.0" cy="21.2" r="1.5"/>
<circle class="c8" cx="205.2" cy="75.0" r="1.5"/>
<circle class="c15" cx="156.0" cy="44.0" r="1.5"/>
<circle class="c11" cx="184.0" cy="32.0" r="1.5"/>
<circle class="c12" cx="200.0" cy="30.6" r="1.5"/>
<circle class="c14" cx="182.0" cy="32.3" r="1.5"/>
<circle class="c12" cx="210.4" cy="23.4" r="1.5"/>
<circle class="c12" cx="205.6" cy="23.6" r="1.5"/>
<circle class="c11" cx="222.2" cy="21.3" r="1.5"/>
<circle class="c11" cx="195.1" cy="84.9" r="1.5"/>
<circle class="c11" cx="204.9" cy="27.0" r="1.5"/>
<circle class="c15" cx="158.2" cy="42.9" r="1.5"/>
<circle class="c10" cx="153.6" cy="52.7" r="1.5"/>
<circle class="c12" cx="167.0" cy="44.4" r="1.5"/>
<circle class="c9" cx="139.5" cy="65.1" r="1.5"/>
<circle class="c12" cx="173.7" cy="40.0" r="1.5"/>
<circle class="c13" cx="166.1" cy="39.7" r="1.5"/>
<circle class="c15" cx="185.4" cy="28.8" r="1.5"/>
<circle class="c9" cx="184.4" cy="41.7" r="1.5"/>
<circle class="c14" cx="156.4" cy="43.9" r="1.5"/>
<circle class="c9" cx="170.7" cy="68.3" r="1.5"/>
<circle class="c15" cx="144.8" cy="51.1" r="1.5"/>
<circle class="c10" cx="222.9" cy="26.5" r="1.5"/>
<circle class="c12" cx="146.8" cy="49.3" r="1.5"/>
<circle class="c11" cx="166.9" cy="55.8" r="1.5"/>
<circle class="c12" cx="189.9" cy="31.4" r="1.5"/>
<circle class="c11" cx="134.3" cy="61.1" r="1.5"/>
<circle class="c10" cx="176.1" cy="48.4" r="1.5"/>
<circle class="c14" cx="135.6" cy="54.8" r="1.5"/>
<circle class="c8" cx="193.1" cy="47.6" r="1.5"/>
<circle class="c11" cx="178.1" cy="43.9" r="1.5"/>
<circle class="c8" cx="163.7" cy="54.0" r="1.5"/>
<circle class="c13" cx="197.2" cy="28.9" r="1.5"/>
<circle class="c10" cx="173.5" cy="42.2" r="1.5"/>
<circle class="c11" cx="184.7" cy="38.2" r="1.5"/>
<circle class="c8" cx="131.0" cy="63.8" r="1.5"/>
<circle class="c10" cx="213.5" cy="22.7" r="1.5"/>
<circle class="c9" cx="145.9" cy="54.2" r="1.5"/>
<circle class="c7" cx="219.0" cy="61.4" r="1.5"/>
<circle class="c13" cx="137.0" cy="54.6" r="1.5"/>
<circle class="c5" cx="220.6" cy="62.9" r="1.5"/>
<circle class="c10" cx="170.8" cy="47.1" r="1.5"/>
<circle class="c11" cx="158.1" cy="46.7" r="1.5"/>
<circle class="c12" cx="211.2" cy="25.3" r="1.5"/>
<circle class="c8" cx="148.1" cy="58.0" r="1.5"/>
<circle class="c12" cx="127.0" cy="59.6" r="1.5"/>
<circle class="c13" cx="128.5" cy="59.2" r="1.5"/>
<circle class="c12" cx="256.8" cy="9.5" r="1.5"/>
<circle class="c9" cx="130.7" cy="68.2" r="1.5"/>
<circle class="c13" cx="160.0" cy="48.0" r="1.5"/>
<circle class="c11" cx="230.4" cy="23.9" r="1.5"/>
<circle class="c10" cx="173.2" cy="48.4" r="1.5"/>
<circle class="c15" cx="163.0" cy="41.2" r="1.5"/>
<circle class="c11" cx="174.6" cy="40.5" r="1.5"/>
<circle class="c12" cx="170.8" cy="42.7" r="1.5"/>
<circle class="c15" cx="163.8" cy="41.2" r="1.5"/>
<circle class="c12" cx="134.3" cy="56.9" r="1.5"/>
<circle class="c12" cx="175.3" cy="41.8" r="1.5"/>
<circle class="c12" cx="206.9" cy="31.1" r="1.5"/>
<circle class="c12" cx="164.0" cy="44.5" r="1.5"/>
<circle class="c9" cx="202.5" cy="30.6" r="1.5"/>
<circle class="c8" cx="151.9" cy="69.9" r="1.5"/>
<circle class="c9" cx="199.4" cy="44.8" r="1.5"/>
<circle class="c14" cx="172.0" cy="38.5" r="1.5"/>
<circle class="c9" cx="155.3" cy="77.1" r="1.5"/>
<circle class="c11" cx="195.9" cy="29.9" r="1.5"/>
<circle class="c12" cx="152.5" cy="48.2" r="1.5"/>
<circle class="c12" cx="145.1" cy="53.8" r="1.5"/>
<circle class="c12" cx="197.6" cy="30.8" r="1.5"/>
<circle class="c13" cx="172.8" cy="42.5" r="1.5"/>
<circle class="c13" cx="144.9" cy="50.6" r="1.5"/>
<circle class="c13" cx="201.7" cy="26.6" r="1.5"/>
<circle class="c12" cx="206.8" cy="27.7" r="1.5"/>
<circle class="c10" cx="156.6" cy="54.1" r="1.5"/>
<circle class="c7" cx="220.2" cy="53.1" r="1.5"/>
<circle class="c5" cx="224.6" cy="81.8" r="1.5"/>
<circle class="c15" cx="176.0" cy="34.4" r="1.5"/>
<circle class="c7" cx="201.5" cy="48.9" r="1.5"/>
<circle class="c9" cx="187.1" cy="43.4" r="1.5"/>
<circle class="c11" cx="213.3" cy="20.4" r="1.5"/>
<circle class="c7" cx="179.3" cy="50.9" r="1.5"/>
<circle class="c9" cx="154.4" cy="55.7" r="1.5"/>
<circle class="c10" cx="224.5" cy="18.9" r="1.5"/>
<circle class="c11" cx="169.8" cy="46.3" r="1.5"/>
<circle class="c10" cx="190.4" cy="42.0" r="1.5"/>
<circle class="c9" cx="146.8" cy="56.7" r="1.5"/>
<circle class="c13" cx="146.4" cy="50.8" r="1.5"/>
<circle class="c9" cx="200.7" cy="34.6" r="1.5"/>
<circle class="c12" cx="209.8" cy="26.1" r="1.5"/>
<circle class="c6" cx="221.4" cy="46.4" r="1.5"/>
<circle class="c12" cx="203.9" cy="23.9" r="1.5"/>
<circle class="c14" cx="196.0" cy="28.4" r="1.5"/>
<circle class="c10" cx="175.7" cy="42.0" r="1.5"/>
<circle class="c14" cx="184.4" cy="33.9" r="1.5"/>
<circle class="c9" cx="225.8" cy="26.2" r="1.5"/>
<circle class="c11" cx="205.3" cy="29.6" r="1.5"/>
<circle class="c10" cx="217.5" cy="23.7" r="1.5"/>
<circle class="c9" cx="198.4" cy="37.9" r="1.5"/>
<circle class="c11" cx="144.8" cy="56.0" r="1.5"/>
<circle class="c11" cx="196.3" cy="32.1" r="1.5"/>
<circle class="c10" cx="145.0" cy="56.2" r="1.5"/>
<circle class="c10" cx="169.1" cy="73.6" r="1.5"/>
<circle class="c9" cx="213.8" cy="36.9" r="1.5"/>
<circle class="c12" cx="208.2" cy="26.4" r="1.5"/>
<circle class="c12" cx="188.5" cy="30.0" r="1.5"/>
<circle class="c15" cx="165.8" cy="38.4" r="1.5"/>
<circle class="c14" cx="156.1" cy="44.4" r="1.5"/>
<circle class="c9" cx="155.3" cy="55.0" r="1.5"/>
<circle class="c9" cx="217.2" cy="26.1" r="1.5"/>
<circle class="c10" cx="194.6" cy="33.5" r="1.5"/>
<circle class="c13" cx="118.8" cy="61.3" r="1.5"/>
<circle class="c8" cx="218.4" cy="25.5" r="1.5"/>
<circle class="c11" cx="129.1" cy="63.8" r="1.5"/>
<circle class="c13" cx="184.9" cy="34.8" r="1.5"/>
<circle class="c12" cx="203.9" cy="29.2" r="1.5"/>
<circle class="c9" cx="161.1" cy="53.4" r="1.5"/>
<circle class="c10" cx="140.6" cy="56.0" r="1.5"/>
<circle class="c13" cx="136.7" cy="56.7" r="1.5"/>
<circle class="c13" cx="189.1" cy="38.0" r="1.5"/>
<circle class="c9" cx="160.4" cy="64.5" r="1.5"/>
<circle class="c12" cx="179.3" cy="40.4" r="1.5"/>
<circle class="c14" cx="196.8" cy="25.8" r="1.5"/>
<circle class="c8" cx="135.9" cy="62.7" r="1.5"/>
<circle class="c12" cx="172.1" cy="37.3" r="1.5"/>
<circle class="c11" cx="173.6" cy="41.3" r="1.5"/>
<circle class="c12" cx="147.6" cy="51.2" r="1.5"/>
<circle class="c7" cx="262.0" cy="58.0" r="1.5"/>
<circle class="c13" cx="158.1" cy="46.3" r="1.5"/>
<circle class="c12" cx="144.7" cy="54.9" r="1.5"/>
<circle class="c14" cx="186.5" cy="32.0" r="1.5"/>
<circle class="c11" cx="196.9" cy="34.8" r="1.5"/>
<circle class="c14" cx="174.6" cy="37.8" r="1.5"/>
<circle class="c10" cx="134.8" cy="60.9" r="1.5"/>
<circle class="c10" cx="186.8" cy="37.1" r="1.5"/>
<circle class="c13" cx="224.6" cy="17.3" r="1.5"/>
<circle class="c14" cx="180.2" cy="34.4" r="1.5"/>
<circle class="c10" cx="167.8" cy="46.6" r="1.5"/>
<circle class="c14" cx="156.9" cy="46.1" r="1.5"/>
<circle class="c14" cx="175.8" cy="36.3" r="1.5"/>
<circle class="c10" cx="51.2" cy="94.4" r="1.5"/>
<circle class="c15" cx="169.4" cy="36.9" r="1.5"/>
<circle class="c10" cx="127.1" cy="61.7" r="1.5"/>
<circle class="c12" cx="150.3" cy="49.5" r="1.5"/>
<circle class="c13" cx="194.2" cy="28.6" r="1.5"/>
<circle class="c12" cx="197.8" cy="26.8" r="1.5"/>
<circle class="c12" cx="153.1" cy="47.5" r="1.5"/>
<circle class="c9" cx="221.0" cy="19.3" r="1.5"/>
<circle class="c10" cx="148.1" cy="51.4" r="1.5"/>
<circle class="c10" cx="196.0" cy="52.2" r="1.5"/>
<circle class="c10" cx="192.7" cy="37.4" r="1.5"/>
<circle class="c10" cx="175.8" cy="45.8" r="1.5"/>
<circle class="c8" cx="173.1" cy="59.1" r="1.5"/>
<circle class="c11" cx="201.8" cy="31.1" r="1.5"/>
<circle class="c12" cx="157.8" cy="44.5" r="1.5"/>
<circle class="c7" cx="189.3" cy="48.5" r="1.5"/>
<circle class="c11" cx="161.2" cy="47.1" r="1.5"/>
<circle class="c8" cx="204.3" cy="36.0" r="1.5"/>
<circle class="c11" cx="165.1" cy="46.7" r="1.5"/>
<circle class="c15" cx="178.7" cy="33.6" r="1.5"/>
<circle class="c12" cx="147.6" cy="51.8" r="1.5"/>
<circle class="c7" cx="212.8" cy="41.1" r="1.5"/>
<circle class="c12" cx="131.6" cy="57.5" r="1.5"/>
<circle class="c10" cx="180.0" cy="41.8" r="1.5"/>
<circle class="c9" cx="182.5" cy="48.5" r="1.5"/>
<circle class="c10" cx="163.0" cy="52.5" r="1.5"/>
<circle class="c13" cx="168.1" cy="38.5" r="1.5"/>
<circle class="c11" cx="203.6" cy="26.9" r="1.5"/>
<circle class="c9" cx="160.8" cy="53.9" r="1.5"/>
<circle class="c10" cx="152.1" cy="49.9" r="1.5"/>
<circle class="c10" cx="200.6" cy="34.6" r="1.5"/>
<circle class="c9" cx="40.5" cy="100.6" r="1.5"/>
<circle class="c12" cx="124.2" cy="61.3" r="1.5"/>
<circle class="c12" cx="244.6" cy="11.2" r="1.5"/>
<circle class="c10" cx="149.7" cy="60.4" r="1.5"/>
<circle class="c13" cx="181.8" cy="30.7" r="1.5"/>
<circle class="c9" cx="193.4" cy="56.9" r="1.5"/>
<circle class="c10" cx="215.0" cy="31.3" r="1.5"/>
<circle class="c9" cx="137.5" cy="76.0" r="1.5"/>
<circle class="c12" cx="176.0" cy="39.6" r="1.5"/>
<circle class="c13" cx="162.0" cy="45.9" r="1.5"/>
<circle class="c10" cx="154.0" cy="55.8" r="1.5"/>
<circle class="c10" cx="197.2" cy="34.2" r="1.5"/>
<circle class="c12" cx="167.1" cy="40.7" r="1.5"/>
<circle class="c13" cx="170.4" cy="41.2" r="1.5"/>
<circle class="c13" cx="166.8" cy="43.0" r="1.5"/>
<circle class="c10" cx="148.1" cy="53.4" r="1.5"/>
<circle class="c12" cx="197.5" cy="34.8" r="1.5"/>
<circle class="c14" cx="181.9" cy="32.9" r="1.5"/>
<circle class="c9" cx="199.3" cy="40.3" r="1.5"/>
<circle class="c10" cx="155.8" cy="51.0" r="1.5"/>
<circle class="c12" cx="222.6" cy="16.4" r="1.5"/>
<circle class="c12" cx="141.7" cy="53.8" r="1.5"/>
<circle class="c9" cx="222.1" cy="30.1" r="1.5"/>
<circle class="c13" cx="196.3" cy="27.3" r="1.5"/>
<circle class="c8" cx="65.3" cy="87.4" r="1.5"/>
<circle class="c7" cx="195.8" cy="39.5" r="1.5"/>
<circle class="c11" cx="149.2" cy="53.2" r="1.5"/>
<circle class="c14" cx="151.7" cy="47.8" r="1.5"/>
<circle class="c9" cx="142.5" cy="62.1" r="1.5"/>
<circle class="c9" cx="143.5" cy="59.1" r="1.5"/>
<circle class="c11" cx="194.0" cy="31.4" r="1.5"/>
<circle class="c11" cx="198.8" cy="34.2" r="1.5"/>
<circle class="c14" cx="160.0" cy="42.5" r="1.5"/>
<circle class="c9" cx="130.1" cy="65.7" r="1.5"/>
<circle class="c6" cx="249.8" cy="53.4" r="1.5"/>
<circle class="c10" cx="243.2" cy="23.9" r="1.5"/>
<circle class="c9" cx="155.9" cy="61.0" r="1.5"/>
<circle class="c8" cx="175.1" cy="47.7" r="1.5"/>
<circle class="c14" cx="182.1" cy="31.5" r="1.5"/>
<circle class="c14" cx="192.1" cy="27.4" r="1.5"/>
<circle class="c12" cx="157.8" cy="47.5" r="1.5"/>
<circle class="c7" cx="181.6" cy="58.3" r="1.5"/>
<circle class="c11" cx="171.4" cy="47.7" r="1.5"/>
<circle class="c8" cx="211.9" cy="56.3" r="1.5"/>
<circle class="c13" cx="218.4" cy="17.7" r="1.5"/>
<circle class="c14" cx="158.3" cy="43.0" r="1.5"/>
<circle class="c9" cx="173.7" cy="62.3" r="1.5"/>
<circle class="c8" cx="208.1" cy="40.5" r="1.5"/>
<circle class="c12" cx="189.0" cy="31.2" r="1.5"/>
<circle class="c11" cx="196.7" cy="30.8" r="1.5"/>
<circle class="c10" cx="194.2" cy="36.8" r="1.5"/>
<circle class="c8" cx="224.9" cy="28.5" r="1.5"/>
<circle class="c10" cx="139.4" cy="58.3" r="1.5"/>
<circle class="c15" cx="180.4" cy="32.2" r="1.5"/>
<circle class="c10" cx="166.1" cy="52.8" r="1.5"/>
</g>
<g clip-path="url(#p1)">
<circle class="c12" cx="255.9" cy="153.1" r="1.5"/>
<circle class="c9" cx="263.3" cy="156.9" r="1.5"/>
<circle class="c10" cx="223.3" cy="163.9" r="1.5"/>
<circle class="c2" cx="177.4" cy="179.1" r="1.5"/>
<circle class="c11" cx="266.3" cy="153.1" r="1.5"/>
<circle class="c10" cx="195.9" cy="174.7" r="1.5"/>
<circle class="c10" cx="163.3" cy="180.4" r="1.5"/>
<circle class="c11" cx="193.8" cy="172.6" r="1.5"/>
<circle class="c11" cx="245.2" cy="159.4" r="1.5"/>
<circle class="c9" cx="213.7" cy="170.3" r="1.5"/>
<circle class="c12" cx="239.2" cy="158.0" r="1.5"/>
<circle class="c9" cx="234.0" cy="165.0" r="1.5"/>
<circle class="c10" cx="178.0" cy="176.2" r="1.5"/>
<circle class="c9" cx="160.2" cy="182.0" r="1.5"/>
<circle class="c11" cx="233.3" cy="161.9" r="1.5"/>
<circle class="c10" cx="155.9" cy="182.9" r="1.5"/>
<circle class="c8" cx="230.8" cy="167.5" r="1.5"/>
<circle class="c8" cx="202.9" cy="171.8" r="1.5"/>
<circle class="c7" cx="259.4" cy="163.0" r="1.5"/>
<circle class="c2" cx="233.5" cy="163.0" r="1.5"/>
<circle class="c1" cx="252.1" cy="161.7" r="1.5"/>
<circle class="c10" cx="193.3" cy="176.2" r="1.5"/>
<circle class="c3" cx="222.2" cy="166.5" r="1.5"/>
<circle class="c11" cx="265.2" cy="153.2" r="1.5"/>
<circle class="c7" cx="204.2" cy="168.8" r="1.5"/>
<circle class="c10" cx="174.2" cy="178.5" r="1.5"/>
<circle class="c9" cx="241.2" cy="161.0" r="1.5"/>
<circle class="c11" cx="224.5" cy="160.5" r="1.5"/>
<circle class="c12" cx="226.3" cy="162.7" r="1.5"/>
<circle class="c11" cx="192.7" cy="174.2" r="1.5"/>
<circle class="c11" cx="137.4" cy="190.0" r="1.5"/>
<circle class="c10" cx="192.7" cy="174.5" r="1.5"/>
<circle class="c10" cx="274.4" cy="149.3" r="1.5"/>
<circle class="c8" cx="261.7" cy="161.1" r="1.5"/>
<circle class="c11" cx="175.2" cy="179.2" r="1.5"/>
<circle class="c10" cx="229.5" cy="163.9" r="1.5"/>
<circle class="c10" cx="282.2" cy="153.6" r="1.5"/>
<circle class="c11" cx="158.8" cy="182.5" r="1.5"/>
<circle class="c10" cx="237.0" cy="163.0" r="1.5"/>
<circle class="c10" cx="225.8" cy="166.0" r="1.5"/>
<circle class="c11" cx="203.7" cy="168.5" r="1.5"/>
<circle class="c10" cx="243.2" cy="165.5" r="1.5"/>
<circle class="c11" cx="217.2" cy="161.3" r="1.5"/>
<circle class="c10" cx="205.1" cy="175.7" r="1.5"/>
<circle class="c12" cx="175.1" cy="177.6" r="1.5"/>
<circle class="c12" cx="188.1" cy="172.9" r="1.5"/>
<circle class="c10" cx="184.2" cy="178.8" r="1.5"/>
<circle class="c9" cx="237.7" cy="158.0" r="1.5"/>
<circle class="c9" cx="252.6" cy="158.3" r="1.5"/>
<circle class="c9" cx="85.2" cy="205.4" r="1.5"/>
<circle class="c10" cx="237.2" cy="163.0" r="1.5"/>
<circle class="c10" cx="172.6" cy="175.4" r="1.5"/>
<circle class="c9" cx="211.2" cy="170.9" r="1.5"/>
<circle class="c10" cx="166.6" cy="181.7" r="1.5"/>
<circle class="c10" cx="138.9" cy="187.5" r="1.5"/>
<circle class="c11" cx="284.8" cy="157.0" r="1.5"/>
<circle class="c9" cx="269.1" cy="156.2" r="1.5"/>
<circle class="c8" cx="234.7" cy="165.8" r="1.5"/>
<circle class="c9" cx="189.1" cy="174.3" r="1.5"/>
<circle class="c10" cx="188.4" cy="177.4" r="1.5"/>
<circle class="c12" cx="201.8" cy="168.7" r="1.5"/>
<circle class="c9" cx="226.5" cy="162.4" r="1.5"/>
<circle class="c10" cx="249.6" cy="160.7" r="1.5"/>
<circle class="c9" cx="212.6" cy="168.0" r="1.5"/>
<circle class="c10" cx="275.9" cy="150.9" r="1.5"/>
<circle class="c12" cx="250.0" cy="157.2" r="1.5"/>
<circle class="c13" cx="235.5" cy="157.6" r="1.5"/>
<circle class="c11" cx="231.9" cy="161.0" r="1.5"/>
<circle class="c11" cx="137.9" cy="188.1" r="1.5"/>
<circle class="c11" cx="249.5" cy="160.6" r="1.5"/>
<circle class="c12" cx="184.8" cy="173.9" r="1.5"/>
<circle class="c12" cx="175.7" cy="172.8" r="1.5"/>
<circle class="c1" cx="207.4" cy="170.5" r="1.5"/>
<circle class="c11" cx="190.2" cy="172.1" r="1.5"/>
<circle class="c12" cx="246.8" cy="161.9" r="1.5"/>
<circle class="c11" cx="179.9" cy="175.6" r="1.5"/>
<circle class="c12" cx="285.9" cy="152.6" r="1.5"/>
<circle class="c8" cx="302.0" cy="139.2" r="1.5"/>
<circle class="c10" cx="254.0" cy="152.5" r="1.5"/>
<circle class="c12" cx="291.0" cy="145.1" r="1.5"/>
<circle class="c10" cx="201.1" cy="172.2" r="1.5"/>
<circle class="c7" cx="197.2" cy="175.7" r="1.5"/>
<circle class="c11" cx="271.8" cy="153.8" r="1.5"/>
<circle class="c12" cx="261.0" cy="152.1" r="1.5"/>
<circle class="c11" cx="154.0" cy="184.5" r="1.5"/>
<circle class="c11" cx="239.6" cy="164.9" r="1.5"/>
<circle class="c0" cx="157.7" cy="184.1" r="1.5"/>
<circle class="c11" cx="234.6" cy="163.4" r="1.5"/>
<circle class="c8" cx="284.1" cy="155.4" r="1.5"/>
<circle class="c12" cx="268.0" cy="156.7" r="1.5"/>
<circle class="c10" cx="300.3" cy="152.0" r="1.5"/>
<circle class="c9" cx="190.2" cy="174.1" r="1.5"/>
<circle class="c10" cx="235.9" cy="162.2" r="1.5"/>
<circle class="c12" cx="176.5" cy="176.6" r="1.5"/>
<circle class="c10" cx="235.6" cy="160.9" r="1.5"/>
<circle class="c10" cx="258.7" cy="158.1" r="1.5"/>
<circle class="c9" cx="196.2" cy="173.6" r="1.5"/>
<circle class="c10" cx="200.8" cy="170.9" r="1.5"/>
<circle class="c10" cx="261.3" cy="156.8" r="1.5"/>
<circle class="c11" cx="198.2" cy="171.6" r="1.5"/>
<circle class="c8" cx="244.4" cy="162.7" r="1.5"/>
<circle class="c9" cx="225.0" cy="167.1" r="1.5"/>
<circle class="c11" cx="236.6" cy="164.3" r="1.5"/>
<circle class="c10" cx="248.6" cy="159.6" r="1.5"/>
<circle class="c8" cx="260.8" cy="156.7" r="1.5"/>
<circle class="c10" cx="216.8" cy="169.5" r="1.5"/>
<circle class="c10" cx="200.9" cy="171.3" r="1.5"/>
<circle class="c8" cx="181.4" cy="177.8" r="1.5"/>
<circle class="c11" cx="164.7" cy="183.3" r="1.5"/>
<circle class="c10" cx="228.8" cy="164.5" r="1.5"/>
<circle class="c9" cx="151.6" cy="184.9" r="1.5"/>
<circle class="c11" cx="251.1" cy="158.7" r="1.5"/>
<circle class="c12" cx="310.8" cy="149.8" r="1.5"/>
<circle class="c10" cx="205.3" cy="170.7" r="1.5"/>
<circle class="c9" cx="278.7" cy="156.9" r="1.5"/>
<circle class="c10" cx="229.8" cy="165.8" r="1.5"/>
<circle class="c10" cx="257.4" cy="159.4" r="1.5"/>
<circle class="c10" cx="188.5" cy="175.1" r="1.5"/>
<circle class="c11" cx="260.3" cy="155.0" r="1.5"/>
<circle class="c13" cx="211.5" cy="164.6" r="1.5"/>
<circle class="c12" cx="249.5" cy="159.8" r="1.5"/>
<circle class="c10" cx="271.1" cy="153.3" r="1.5"/>
<circle class="c8" cx="218.4" cy="171.8" r="1.5"/>
<circle class="c9" cx="218.3" cy="167.8" r="1.5"/>
<circle class="c8" cx="260.6" cy="158.7" r="1.5"/>
<circle class="c13" cx="148.4" cy="184.5" r="1.5"/>
<circle class="c9" cx="275.8" cy="150.6" r="1.5"/>
<circle class="c11" cx="210.8" cy="165.5" r="1.5"/>
<circle class="c11" cx="254.7" cy="159.9" r="1.5"/>
<circle class="c2" cx="266.0" cy="158.5" r="1.5"/>
<circle class="c9" cx="199.6" cy="176.7" r="1.5"/>
<circle class="c12" cx="287.6" cy="150.0" r="1.5"/>
<circle class="c13" cx="142.5" cy="186.0" r="1.5"/>
<circle class="c8" cx="207.3" cy="171.9" r="1.5"/>
<circle class="c9" cx="206.1" cy="169.3" r="1.5"/>
<circle class="c10" cx="220.6" cy="164.5" r="1.5"/>
<circle class="c10" cx="200.1" cy="170.0" r="1.5"/>
<circle class="c13" cx="217.2" cy="162.7" r="1.5"/>
<circle class="c8" cx="220.5" cy="169.0" r="1.5"/>
<circle class="c11" cx="158.8" cy="182.9" r="1.5"/>
<circle class="c8" cx="201.7" cy="168.2" r="1.5"/>
<circle class="c10" cx="234.4" cy="165.4" r="1.5"/>
<circle class="c8" cx="211.3" cy="171.6" r="1.5"/>
<circle class="c8" cx="75.1" cy="208.3" r="1.5"/>
<circle class="c8" cx="188.0" cy="176.9" r="1.5"/>
<circle class="c13" cx="234.8" cy="159.5" r="1.5"/>
<circle class="c9" cx="241.2" cy="161.1" r="1.5"/>
<circle class="c12" cx="245.1" cy="153.7" r="1.5"/>
<circle class="c11" cx="221.0" cy="165.1" r="1.5"/>
<circle class="c11" cx="163.1" cy="181.0" r="1.5"/>
<circle class="c9" cx="217.6" cy="168.3" r="1.5"/>
<circle class="c7" cx="278.5" cy="157.1" r="1.5"/>
<circle class="c7" cx="200.2" cy="172.4" r="1.5"/>
<circle class="c11" cx="163.5" cy="178.3" r="1.5"/>
<circle class="c13" cx="253.3" cy="153.7" r="1.5"/>
<circle class="c10" cx="285.8" cy="152.9" r="1.5"/>
<circle class="c12" cx="214.9" cy="167.3" r="1.5"/>
<circle class="c8" cx="250.8" cy="166.5" r="1.5"/>
<circle class="c10" cx="213.2" cy="166.7" r="1.5"/>
<circle class="c9" cx="266.0" cy="150.7" r="1.5"/>
<circle class="c9" cx="206.3" cy="172.9" r="1.5"/>
<circle class="c11" cx="214.1" cy="164.4" r="1.5"/>
<circle class="c12" cx="132.7" cy="189.3" r="1.5"/>
<circle class="c9" cx="249.9" cy="160.6" r="1.5"/>
<circle class="c12" cx="143.1" cy="186.4" r="1.5"/>
<circle class="c7" cx="180.7" cy="189.0" r="1.5"/>
<circle class="c12" cx="257.1" cy="155.6" r="1.5"/>
<circle class="c7" cx="200.5" cy="176.3" r="1.5"/>
<circle class="c9" cx="243.9" cy="169.2" r="1.5"/>
<circle class="c10" cx="257.4" cy="152.8" r="1.5"/>
<circle class="c7" cx="262.3" cy="164.6" r="1.5"/>
<circle class="c8" cx="215.3" cy="169.8" r="1.5"/>
<circle class="c11" cx="158.7" cy="182.1" r="1.5"/>
<circle class="c9" cx="176.6" cy="182.5" r="1.5"/>
<circle class="c1" cx="172.3" cy="180.3" r="1.5"/>
<circle class="c11" cx="177.5" cy="175.6" r="1.5"/>
<circle class="c13" cx="139.8" cy="187.2" r="1.5"/>
<circle class="c12" cx="220.6" cy="165.0" r="1.5"/>
<circle class="c13" cx="220.7" cy="167.9" r="1.5"/>
<circle class="c6" cx="240.5" cy="166.7" r="1.5"/>
<circle class="c12" cx="225.4" cy="164.1" r="1.5"/>
<circle class="c12" cx="208.6" cy="169.3" r="1.5"/>
<circle class="c11" cx="181.0" cy="177.4" r="1.5"/>
<circle class="c10" cx="182.4" cy="175.5" r="1.5"/>
<circle class="c10" cx="198.9" cy="171.8" r="1.5"/>
<circle class="c9" cx="270.3" cy="154.1" r="1.5"/>
<circle class="c10" cx="189.2" cy="176.0" r="1.5"/>
<circle class="c9" cx="180.5" cy="176.7" r="1.5"/>
<circle class="c10" cx="273.7" cy="159.1" r="1.5"/>
<circle class="c9" cx="219.7" cy="165.3" r="1.5"/>
<circle class="c11" cx="222.0" cy="160.3" r="1.5"/>
<circle class="c11" cx="261.2" cy="155.8" r="1.5"/>
<circle class="c10" cx="198.9" cy="171.0" r="1.5"/>
<circle class="c10" cx="204.6" cy="170.4" r="1.5"/>
<circle class="c11" cx="201.0" cy="172.1" r="1.5"/>
<circle class="c9" cx="245.4" cy="157.6" r="1.5"/>
<circle class="c13" cx="260.5" cy="152.9" r="1.5"/>
<circle class="c10" cx="208.5" cy="171.9" r="1.5"/>
<circle class="c10" cx="253.7" cy="161.1" r="1.5"/>
<circle class="c11" cx="210.7" cy="168.6" r="1.5"/>
<circle class="c12" cx="139.4" cy="185.6" r="1.5"/>
<circle class="c12" cx="278.8" cy="148.3" r="1.5"/>
<circle class="c8" cx="236.5" cy="170.1" r="1.5"/>
<circle class="c11" cx="163.9" cy="177.6" r="1.5"/>
<circle class="c13" cx="267.2" cy="146.2" r="1.5"/>
<circle class="c11" cx="171.7" cy="176.5" r="1.5"/>
<circle class="c8" cx="164.9" cy="180.7" r="1.5"/>
<circle class="c13" cx="244.2" cy="154.7" r="1.5"/>
<circle class="c10" cx="249.5" cy="159.0" r="1.5"/>
<circle class="c12" cx="208.3" cy="172.2" r="1.5"/>
<circle class="c8" cx="277.9" cy="156.6" r="1.5"/>
<circle class="c13" cx="207.7" cy="166.6" r="1.5"/>
<circle class="c7" cx="219.5" cy="183.5" r="1.5"/>
<circle class="c11" cx="161.0" cy="182.4" r="1.5"/>
<circle class="c1" cx="141.6" cy="187.5" r="1.5"/>
<circle class="c11" cx="207.7" cy="169.0" r="1.5"/>
<circle class="c9" cx="243.2" cy="163.0" r="1.5"/>
<circle class="c11" cx="274.5" cy="146.6" r="1.5"/>
<circle class="c10" cx="141.6" cy="187.6" r="1.5"/>
<circle class="c12" cx="256.0" cy="158.0" r="1.5"/>
<circle class="c13" cx="162.2" cy="180.9" r="1.5"/>
<circle class="c10" cx="227.5" cy="164.5" r="1.5"/>
<circle class="c11" cx="250.2" cy="162.8" r="1.5"/>
<circle class="c10" cx="160.1" cy="181.4" r="1.5"/>
<circle class="c9" cx="225.2" cy="166.8" r="1.5"/>
<circle class="c7" cx="261.0" cy="164.5" r="1.5"/>
<circle class="c11" cx="176.8" cy="175.1" r="1.5"/>
<circle class="c8" cx="154.1" cy="183.0" r="1.5"/>
<circle class="c9" cx="202.6" cy="174.0" r="1.5"/>
<circle class="c10" cx="258.2" cy="159.1" r="1.5"/>
<circle class="c11" cx="188.6" cy="172.1" r="1.5"/>
<circle class="c10" cx="156.3" cy="184.6" r="1.5"/>
<circle class="c10" cx="169.6" cy="180.6" r="1.5"/>
<circle class="c8" cx="199.3" cy="176.0" r="1.5"/>
<circle class="c11" cx="189.6" cy="169.6" r="1.5"/>
<circle class="c12" cx="259.8" cy="150.3" r="1.5"/>
<circle class="c12" cx="196.4" cy="169.0" r="1.5"/>
<circle class="c11" cx="187.2" cy="173.1" r="1.5"/>
<circle class="c11" cx="213.2" cy="165.4" r="1.5"/>
<circle class="c11" cx="219.4" cy="165.7" r="1.5"/>
<circle class="c3" cx="204.5" cy="189.0" r="1.5"/>
<circle class="c14" cx="263.2" cy="150.5" r="1.5"/>
<circle class="c9" cx="169.9" cy="181.8" r="1.5"/>
<circle class="c11" cx="173.0" cy="177.7" r="1.5"/>
<circle class="c6" cx="269.4" cy="158.2" r="1.5"/>
<circle class="c12" cx="161.2" cy="179.0" r="1.5"/>
<circle class="c7" cx="211.2" cy="172.8" r="1.5"/>
<circle class="c13" cx="155.2" cy="182.0" r="1.5"/>
<circle class="c10" cx="196.2" cy="173.8" r="1.5"/>
<circle class="c8" cx="271.5" cy="157.3" r="1.5"/>
<circle class="c13" cx="292.5" cy="147.1" r="1.5"/>
<circle class="c10" cx="173.5" cy="176.2" r="1.5"/>
<circle class="c10" cx="186.3" cy="176.7" r="1.5"/>
<circle class="c10" cx="202.6" cy="171.3" r="1.5"/>
<circle class="c9" cx="270.4" cy="149.7" r="1.5"/>
<circle class="c10" cx="240.2" cy="163.6" r="1.5"/>
<circle class="c11" cx="245.5" cy="160.7" r="1.5"/>
<circle class="c11" cx="249.5" cy="158.8" r="1.5"/>
<circle class="c10" cx="276.7" cy="154.0" r="1.5"/>
<circle class="c10" cx="259.1" cy="154.2" r="1.5"/>
<circle class="c9" cx="271.0" cy="155.4" r="1.5"/>
<circle class="c14" cx="214.3" cy="165.9" r="1.5"/>
<circle class="c12" cx="260.5" cy="150.6" r="1.5"/>
<circle class="c14" cx="201.0" cy="166.3" r="1.5"/>
<circle class="c11" cx="236.5" cy="160.9" r="1.5"/>
<circle class="c12" cx="170.9" cy="179.7" r="1.5"/>
<circle class="c10" cx="159.5" cy="181.2" r="1.5"/>
<circle class="c10" cx="222.2" cy="164.3" r="1.5"/>
<circle class="c11" cx="248.8" cy="160.7" r="1.5"/>
<circle class="c0" cx="244.8" cy="163.2" r="1.5"/>
<circle class="c11" cx="275.4" cy="153.4" r="1.5"/>
<circle class="c9" cx="229.3" cy="166.3" r="1.5"/>
<circle class="c7" cx="179.5" cy="175.3" r="1.5"/>
<circle class="c7" cx="279.1" cy="153.2" r="1.5"/>
<circle class="c10" cx="262.9" cy="156.7" r="1.5"/>
<circle class="c9" cx="263.5" cy="158.6" r="1.5"/>
<circle class="c11" cx="208.3" cy="168.1" r="1.5"/>
<circle class="c10" cx="167.5" cy="179.5" r="1.5"/>
<circle class="c12" cx="169.0" cy="177.7" r="1.5"/>
<circle class="c6" cx="175.5" cy="184.4" r="1.5"/>
<circle class="c11" cx="226.9" cy="164.7" r="1.5"/>
<circle class="c12" cx="283.0" cy="149.8" r="1.5"/>
<circle class="c8" cx="266.6" cy="155.9" r="1.5"/>
<circle class="c7" cx="273.1" cy="156.4" r="1.5"/>
<circle class="c10" cx="231.7" cy="163.7" r="1.5"/>
<circle class="c10" cx="201.1" cy="168.8" r="1.5"/>
<circle class="c13" cx="271.4" cy="151.3" r="1.5"/>
<circle class="c12" cx="225.2" cy="162.9" r="1.5"/>
<circle class="c15" cx="244.6" cy="154.7" r="1.5"/>
<circle class="c11" cx="202.4" cy="169.5" r="1.5"/>
<circle class="c10" cx="220.0" cy="167.6" r="1.5"/>
<circle class="c11" cx="221.8" cy="164.1" r="1.5"/>
<circle class="c10" cx="147.6" cy="184.1" r="1.5"/>
<circle class="c10" cx="242.7" cy="163.1" r="1.5"/>
<circle class="c7" cx="221.7" cy="178.5" r="1.5"/>
<circle class="c10" cx="275.1" cy="155.5" r="1.5"/>
<circle class="c10" cx="229.9" cy="164.9" r="1.5"/>
<circle class="c12" cx="252.5" cy="158.4" r="1.5"/>
<circle class="c10" cx="254.2" cy="153.2" r="1.5"/>
<circle class="c9" cx="161.5" cy="182.6" r="1.5"/>
<circle class="c11" cx="249.5" cy="157.7" r="1.5"/>
<circle class="c13" cx="235.9" cy="163.1" r="1.5"/>
<circle class="c6" cx="248.9" cy="168.9" r="1.5"/>
<circle class="c9" cx="187.9" cy="173.3" r="1.5"/>
<circle class="c11" cx="221.6" cy="164.9" r="1.5"/>
<circle class="c11" cx="276.7" cy="154.6" r="1.5"/>
<circle class="c9" cx="268.5" cy="159.8" r="1.5"/>
<circle class="c9" cx="199.9" cy="176.0" r="1.5"/>
<circle class="c7" cx="253.9" cy="159.3" r="1.5"/>
<circle class="c8" cx="196.8" cy="178.7" r="1.5"/>
<circle class="c9" cx="184.0" cy="178.2" r="1.5"/>
<circle class="c10" cx="216.0" cy="164.6" r="1.5"/>
<circle class="c9" cx="233.8" cy="163.9" r="1.5"/>
<circle class="c9" cx="173.0" cy="177.6" r="1.5"/>
<circle class="c10" cx="219.1" cy="163.0" r="1.5"/>
<circle class="c11" cx="162.9" cy="181.6" r="1.5"/>
<circle class="c11" cx="199.5" cy="172.4" r="1.5"/>
<circle class="c9" cx="208.1" cy="169.1" r="1.5"/>
<circle class="c10" cx="279.0" cy="144.9" r="1.5"/>
<circle class="c10" cx="252.1" cy="163.1" r="1.5"/>
<circle class="c10" cx="170.4" cy="181.9" r="1.5"/>
<circle class="c9" cx="135.0" cy="189.8" r="1.5"/>
<circle class="c8" cx="267.0" cy="158.3" r="1.5"/>
<circle class="c4" cx="242.9" cy="179.3" r="1.5"/>
<circle class="c9" cx="167.3" cy="180.5" r="1.5"/>
<circle class="c2" cx="226.6" cy="168.2" r="1.5"/>
<circle class="c9" cx="216.6" cy="172.4" r="1.5"/>
<circle class="c12" cx="162.1" cy="178.7" r="1.5"/>
<circle class="c2" cx="194.0" cy="175.4" r="1.5"/>
<circle class="c8" cx="215.6" cy="172.5" r="1.5"/>
<circle class="c9" cx="261.2" cy="163.7" r="1.5"/>
<circle class="c14" cx="203.6" cy="167.3" r="1.5"/>
<circle class="c9" cx="195.1" cy="173.5" r="1.5"/>
<circle class="c13" cx="200.2" cy="166.5" r="1.5"/>
<circle class="c1" cx="242.0" cy="166.4" r="1.5"/>
<circle class="c7" cx="219.1" cy="166.2" r="1.5"/>
<circle class="c6" cx="176.0" cy="183.7" r="1.5"/>
<circle class="c11" cx="208.0" cy="167.2" r="1.5"/>
<circle class="c8" cx="160.5" cy="183.6" r="1.5"/>
<circle class="c11" cx="190.9" cy="175.5" r="1.5"/>
<circle class="c13" cx="243.7" cy="157.5" r="1.5"/>
<circle class="c13" cx="245.7" cy="160.0" r="1.5"/>
<circle class="c8" cx="174.0" cy="179.3" r="1.5"/>
<circle class="c8" cx="259.7" cy="156.4" r="1.5"/>
<circle class="c11" cx="209.5" cy="167.2" r="1.5"/>
<circle class="c12" cx="191.9" cy="173.9" r="1.5"/>
<circle class="c10" cx="209.3" cy="171.8" r="1.5"/>
<circle class="c10" cx="145.3" cy="186.2" r="1.5"/>
<circle class="c9" cx="139.8" cy="186.8" r="1.5"/>
<circle class="c10" cx="238.5" cy="162.3" r="1.5"/>
<circle class="c11" cx="241.1" cy="158.7" r="1.5"/>
<circle class="c11" cx="221.8" cy="162.3" r="1.5"/>
<circle class="c11" cx="243.8" cy="156.3" r="1.5"/>
<circle class="c7" cx="255.4" cy="165.5" r="1.5"/>
<circle class="c9" cx="223.7" cy="167.8" r="1.5"/>
<circle class="c7" cx="286.0" cy="155.3" r="1.5"/>
<circle class="c9" cx="138.3" cy="188.2" r="1.5"/>
<circle class="c12" cx="213.9" cy="167.1" r="1.5"/>
<circle class="c11" cx="142.1" cy="186.6" r="1.5"/>
<circle class="c12" cx="184.2" cy="170.6" r="1.5"/>
<circle class="c9" cx="198.0" cy="171.6" r="1.5"/>
<circle class="c11" cx="245.3" cy="155.5" r="1.5"/>
<circle class="c10" cx="181.4" cy="173.9" r="1.5"/>
<circle class="c3" cx="248.2" cy="180.5" r="1.5"/>
<circle class="c2" cx="205.2" cy="172.8" r="1.5"/>
<circle class="c10" cx="280.4" cy="155.5" r="1.5"/>
<circle class="c8" cx="238.0" cy="164.6" r="1.5"/>
<circle class="c10" cx="171.7" cy="181.4" r="1.5"/>
<circle class="c10" cx="237.7" cy="164.4" r="1.5"/>
<circle class="c9" cx="283.7" cy="153.5" r="1.5"/>
<circle class="c10" cx="308.8" cy="147.4" r="1.5"/>
<circle class="c10" cx="181.7" cy="175.0" r="1.5"/>
<circle class="c9" cx="208.3" cy="172.2" r="1.5"/>
<circle class="c12" cx="236.5" cy="158.5" r="1.5"/>
<circle class="c10" cx="199.6" cy="169.9" r="1.5"/>
<circle class="c11" cx="267.7" cy="158.8" r="1.5"/>
<circle class="c11" cx="202.9" cy="168.4" r="1.5"/>
<circle class="c11" cx="206.3" cy="167.7" r="1.5"/>
<circle class="c9" cx="192.8" cy="170.4" r="1.5"/>
<circle class="c13" cx="171.9" cy="177.8" r="1.5"/>
<circle class="c9" cx="154.6" cy="194.6" r="1.5"/>
<circle class="c11" cx="223.9" cy="164.7" r="1.5"/>
<circle class="c11" cx="137.8" cy="187.8" r="1.5"/>
<circle class="c7" cx="256.6" cy="158.2" r="1.5"/>
<circle class="c9" cx="213.1" cy="169.2" r="1.5"/>
<circle class="c13" cx="246.4" cy="155.7" r="1.5"/>
<circle class="c8" cx="274.9" cy="157.6" r="1.5"/>
<circle class="c12" cx="205.7" cy="167.8" r="1.5"/>
<circle class="c7" cx="155.9" cy="188.2" r="1.5"/>
<circle class="c8" cx="229.2" cy="161.3" r="1.5"/>
<circle class="c9" cx="267.8" cy="158.0" r="1.5"/>
<circle class="c11" cx="241.7" cy="159.9" r="1.5"/>
<circle class="c11" cx="225.6" cy="165.1" r="1.5"/>
<circle class="c2" cx="253.4" cy="160.2" r="1.5"/>
<circle class="c11" cx="182.6" cy="174.3" r="1.5"/>
<circle class="c13" cx="257.1" cy="153.6" r="1.5"/>
<circle class="c10" cx="266.9" cy="154.6" r="1.5"/>
<circle class="c10" cx="194.3" cy="173.0" r="1.5"/>
<circle class="c6" cx="166.9" cy="192.1" r="1.5"/>
<circle class="c10" cx="158.5" cy="181.3" r="1.5"/>
<circle class="c10" cx="138.9" cy="187.5" r="1.5"/>
<circle class="c11" cx="231.0" cy="160.8" r="1.5"/>
<circle class="c9" cx="253.4" cy="160.8" r="1.5"/>
<circle class="c10" cx="216.7" cy="172.4" r="1.5"/>
<circle class="c11" cx="211.8" cy="167.2" r="1.5"/>
<circle class="c10" cx="207.9" cy="170.9" r="1.5"/>
<circle class="c11" cx="160.6" cy="180.2" r="1.5"/>
<circle class="c10" cx="248.2" cy="164.7" r="1.5"/>
<circle class="c12" cx="212.1" cy="166.3" r="1.5"/>
<circle class="c11" cx="151.3" cy="183.9" r="1.5"/>
<circle class="c10" cx="235.9" cy="160.2" r="1.5"/>
<circle class="c10" cx="234.4" cy="169.2" r="1.5"/>
<circle class="c8" cx="193.3" cy="175.6" r="1.5"/>
<circle class="c10" cx="215.7" cy="167.9" r="1.5"/>
<circle class="c10" cx="132.8" cy="190.6" r="1.5"/>
<circle class="c8" cx="176.2" cy="188.0" r="1.5"/>
<circle class="c8" cx="231.3" cy="165.9" r="1.5"/>
<circle class="c7" cx="180.5" cy="180.4" r="1.5"/>
<circle class="c10" cx="249.4" cy="157.9" r="1.5"/>
<circle class="c8" cx="147.7" cy="193.8" r="1.5"/>
<circle class="c7" cx="274.5" cy="158.8" r="1.5"/>
<circle class="c13" cx="205.2" cy="166.1" r="1.5"/>
<circle class="c12" cx="163.1" cy="182.3" r="1.5"/>
<circle class="c10" cx="166.8" cy="180.7" r="1.5"/>
<circle class="c8" cx="239.9" cy="164.7" r="1.5"/>
<circle class="c9" cx="204.3" cy="172.3" r="1.5"/>
<circle class="c8" cx="240.8" cy="164.1" r="1.5"/>
<circle class="c12" cx="184.9" cy="175.0" r="1.5"/>
<circle class="c9" cx="146.2" cy="186.6" r="1.5"/>
<circle class="c15" cx="216.9" cy="164.6" r="1.5"/>
<circle class="c9" cx="185.9" cy="176.5" r="1.5"/>
<circle class="c8" cx="277.4" cy="159.3" r="1.5"/>
<circle class="c10" cx="204.9" cy="168.9" r="1.5"/>
<circle class="c13" cx="223.9" cy="163.5" r="1.5"/>
<circle class="c7" cx="270.8" cy="155.6" r="1.5"/>
<circle class="c7" cx="191.1" cy="173.0" r="1.5"/>
<circle class="c10" cx="179.9" cy="174.0" r="1.5"/>
<circle class="c12" cx="194.0" cy="168.8" r="1.5"/>
<circle class="c10" cx="202.9" cy="174.4" r="1.5"/>
<circle class="c11" cx="156.0" cy="185.7" r="1.5"/>
<circle class="c7" cx="202.8" cy="174.4" r="1.5"/>
<circle class="c13" cx="273.1" cy="151.1" r="1.5"/>
<circle class="c7" cx="197.9" cy="174.4" r="1.5"/>
<circle class="c9" cx="189.6" cy="172.8" r="1.5"/>
<circle class="c11" cx="235.4" cy="156.8" r="1.5"/>
<circle class="c12" cx="257.0" cy="153.3" r="1.5"/>
<circle class="c0" cx="246.2" cy="161.4" r="1.5"/>
<circle class="c11" cx="204.1" cy="169.2" r="1.5"/>
<circle class="c12" cx="176.4" cy="179.5" r="1.5"/>
<circle class="c13" cx="250.7" cy="153.5" r="1.5"/>
<circle class="c8" cx="239.9" cy="164.7" r="1.5"/>
<circle class="c10" cx="169.8" cy="175.9" r="1.5"/>
<circle class="c10" cx="156.0" cy="183.5" r="1.5"/>
<circle class="c1" cx="256.5" cy="165.8" r="1.5"/>
<circle class="c8" cx="187.3" cy="180.6" r="1.5"/>
<circle class="c6" cx="254.2" cy="166.8" r="1.5"/>
<circle class="c12" cx="238.7" cy="158.2" r="1.5"/>
<circle class="c12" cx="188.8" cy="176.6" r="1.5"/>
<circle class="c8" cx="241.2" cy="160.3" r="1.5"/>
<circle class="c9" cx="202.0" cy="175.6" r="1.5"/>
<circle class="c10" cx="263.8" cy="157.3" r="1.5"/>
<circle class="c1" cx="166.5" cy="180.3" r="1.5"/>
<circle class="c11" cx="252.8" cy="162.5" r="1.5"/>
<circle class="c10" cx="253.0" cy="163.0" r="1.5"/>
<circle class="c7" cx="172.2" cy="178.6" r="1.5"/>
<circle class="c13" cx="265.0" cy="154.6" r="1.5"/>
<circle class="c11" cx="211.8" cy="167.6" r="1.5"/>
<circle class="c11" cx="182.1" cy="176.4" r="1.5"/>
<circle class="c11" cx="228.9" cy="166.3" r="1.5"/>
<circle class="c12" cx="261.4" cy="154.0" r="1.5"/>
<circle class="c11" cx="226.1" cy="165.0" r="1.5"/>
<circle class="c8" cx="301.6" cy="160.6" r="1.5"/>
<circle class="c11" cx="250.8" cy="157.1" r="1.5"/>
<circle class="c11" cx="147.6" cy="185.1" r="1.5"/>
<circle class="c11" cx="151.1" cy="182.8" r="1.5"/>
<circle class="c10" cx="183.5" cy="175.9" r="1.5"/>
<circle class="c9" cx="195.1" cy="173.5" r="1.5"/>
<circle class="c12" cx="233.1" cy="164.4" r="1.5"/>
<circle class="c6" cx="205.3" cy="178.8" r="1.5"/>
<circle class="c12" cx="257.7" cy="152.8" r="1.5"/>
<circle class="c9" cx="272.6" cy="156.6" r="1.5"/>
<circle class="c10" cx="239.1" cy="157.1" r="1.5"/>
<circle class="c4" cx="229.9" cy="188.6" r="1.5"/>
<circle class="c12" cx="230.8" cy="156.4" r="1.5"/>
<circle class="c10" cx="159.2" cy="181.2" r="1.5"/>
<circle class="c12" cx="248.3" cy="160.3" r="1.5"/>
<circle class="c11" cx="215.9" cy="164.6" r="1.5"/>
<circle class="c12" cx="275.7" cy="147.9" r="1.5"/>
<circle class="c10" cx="231.7" cy="161.1" r="1.5"/>
<circle class="c13" cx="173.1" cy="178.1" r="1.5"/>
<circle class="c11" cx="244.1" cy="163.4" r="1.5"/>
<circle class="c6" cx="223.4" cy="170.3" r="1.5"/>
<circle class="c12" cx="177.7" cy="176.2" r="1.5"/>
<circle class="c12" cx="204.1" cy="166.8" r="1.5"/>
<circle class="c11" cx="209.1" cy="168.6" r="1.5"/>
<circle class="c7" cx="202.7" cy="178.3" r="1.5"/>
<circle class="c3" cx="247.8" cy="160.5" r="1.5"/>
<circle class="c9" cx="213.7" cy="170.5" r="1.5"/>
<circle class="c10" cx="233.9" cy="161.6" r="1.5"/>
<circle class="c12" cx="177.6" cy="181.3" r="1.5"/>
<circle class="c13" cx="189.9" cy="169.6" r="1.5"/>
<circle class="c10" cx="117.0" cy="195.5" r="1.5"/>
<circle class="c9" cx="276.9" cy="155.7" r="1.5"/>
<circle class="c11" cx="193.1" cy="174.3" r="1.5"/>
<circle class="c10" cx="238.7" cy="159.9" r="1.5"/>
<circle class="c10" cx="204.5" cy="171.7" r="1.5"/>
<circle class="c9" cx="193.6" cy="170.7" r="1.5"/>
<circle class="c11" cx="216.7" cy="167.1" r="1.5"/>
<circle class="c10" cx="244.8" cy="159.8" r="1.5"/>
<circle class="c10" cx="191.4" cy="174.9" r="1.5"/>
<circle class="c11" cx="144.8" cy="187.6" r="1.5"/>
<circle class="c11" cx="176.7" cy="175.0" r="1.5"/>
<circle class="c8" cx="195.1" cy="174.7" r="1.5"/>
<circle class="c10" cx="155.6" cy="182.3" r="1.5"/>
<circle class="c13" cx="246.6" cy="157.5" r="1.5"/>
<circle class="c2" cx="193.1" cy="174.4" r="1.5"/>
<circle class="c9" cx="242.3" cy="159.7" r="1.5"/>
<circle class="c10" cx="245.8" cy="162.2" r="1.5"/>
<circle class="c9" cx="216.1" cy="167.2" r="1.5"/>
<circle class="c8" cx="216.3" cy="173.5" r="1.5"/>
<circle class="c9" cx="218.3" cy="170.3" r="1.5"/>
<circle class="c12" cx="185.3" cy="175.5" r="1.5"/>
<circle class="c10" cx="183.3" cy="173.1" r="1.5"/>
<circle class="c10" cx="199.2" cy="170.6" r="1.5"/>
<circle class="c11" cx="224.2" cy="165.3" r="1.5"/>
<circle class="c2" cx="226.8" cy="166.8" r="1.5"/>
<circle class="c8" cx="204.2" cy="169.3" r="1.5"/>
<circle class="c10" cx="173.7" cy="179.4" r="1.5"/>
<circle class="c8" cx="167.0" cy="184.0" r="1.5"/>
<circle class="c11" cx="191.1" cy="175.8" r="1.5"/>
<circle class="c13" cx="218.2" cy="166.4" r="1.5"/>
<circle class="c11" cx="186.0" cy="172.5" r="1.5"/>
<circle class="c9" cx="283.0" cy="155.6" r="1.5"/>
<circle class="c13" cx="207.0" cy="162.4" r="1.5"/>
<circle class="c12" cx="236.8" cy="155.1" r="1.5"/>
<circle class="c9" cx="298.1" cy="150.9" r="1.5"/>
<circle class="c8" cx="229.4" cy="166.4" r="1.5"/>
<circle class="c14" cx="227.0" cy="157.3" r="1.5"/>
<circle class="c12" cx="185.3" cy="176.1" r="1.5"/>
<circle class="c10" cx="174.4" cy="181.2" r="1.5"/>
<circle class="c11" cx="184.1" cy="177.5" r="1.5"/>
<circle class="c10" cx="259.5" cy="162.3" r="1.5"/>
<circle class="c8" cx="202.0" cy="168.6" r="1.5"/>
<circle class="c8" cx="260.2" cy="161.0" r="1.5"/>
<circle class="c10" cx="280.0" cy="150.4" r="1.5"/>
<circle class="c10" cx="175.7" cy="181.4" r="1.5"/>
<circle class="c9" cx="233.1" cy="166.1" r="1.5"/>
<circle class="c10" cx="266.8" cy="152.0" r="1.5"/>
<circle class="c13" cx="133.3" cy="189.6" r="1.5"/>
<circle class="c0" cx="145.1" cy="186.8" r="1.5"/>
<circle class="c10" cx="165.0" cy="179.3" r="1.5"/>
<circle class="c8" cx="196.2" cy="177.1" r="1.5"/>
<circle class="c10" cx="166.1" cy="179.7" r="1.5"/>
<circle class="c10" cx="233.2" cy="164.8" r="1.5"/>
<circle class="c12" cx="178.1" cy="175.0" r="1.5"/>
<circle class="c11" cx="201.9" cy="171.6" r="1.5"/>
<circle class="c9" cx="246.7" cy="160.0" r="1.5"/>
<circle class="c10" cx="262.2" cy="153.8" r="1.5"/>
<circle class="c11" cx="183.4" cy="170.1" r="1.5"/>
<circle class="c11" cx="228.3" cy="165.6" r="1.5"/>
<circle class="c13" cx="184.0" cy="175.8" r="1.5"/>
<circle class="c10" cx="218.1" cy="165.8" r="1.5"/>
<circle class="c10" cx="153.3" cy="181.9" r="1.5"/>
<circle class="c14" cx="266.8" cy="147.4" r="1.5"/>
<circle class="c8" cx="249.1" cy="162.7" r="1.5"/>
<circle class="c7" cx="188.3" cy="174.1" r="1.5"/>
<circle class="c12" cx="264.7" cy="153.4" r="1.5"/>
<circle class="c9" cx="172.1" cy="174.2" r="1.5"/>
<circle class="c9" cx="229.6" cy="161.0" r="1.5"/>
<circle class="c10" cx="199.4" cy="171.6" r="1.5"/>
<circle class="c12" cx="239.5" cy="156.3" r="1.5"/>
<circle class="c7" cx="226.7" cy="169.6" r="1.5"/>
<circle class="c13" cx="258.1" cy="150.5" r="1.5"/>
<circle class="c9" cx="283.8" cy="155.5" r="1.5"/>
<circle class="c8" cx="245.9" cy="165.7" r="1.5"/>
<circle class="c10" cx="181.1" cy="178.2" r="1.5"/>
<circle class="c10" cx="168.0" cy="178.5" r="1.5"/>
<circle class="c11" cx="279.3" cy="148.4" r="1.5"/>
<circle class="c9" cx="200.3" cy="180.0" r="1.5"/>
<circle class="c9" cx="275.0" cy="152.2" r="1.5"/>
<circle class="c13" cx="189.9" cy="172.5" r="1.5"/>
<circle class="c11" cx="254.1" cy="158.9" r="1.5"/>
<circle class="c12" cx="217.4" cy="161.9" r="1.5"/>
<circle class="c11" cx="208.9" cy="167.9" r="1.5"/>
<circle class="c9" cx="171.4" cy="181.9" r="1.5"/>
<circle class="c10" cx="138.9" cy="188.1" r="1.5"/>
<circle class="c8" cx="215.0" cy="170.6" r="1.5"/>
<circle class="c8" cx="270.5" cy="159.2" r="1.5"/>
<circle class="c13" cx="222.0" cy="160.2" r="1.5"/>
<circle class="c11" cx="143.9" cy="187.1" r="1.5"/>
<circle class="c14" cx="170.9" cy="178.2" r="1.5"/>
<circle class="c8" cx="169.0" cy="179.5" r="1.5"/>
<circle class="c12" cx="216.7" cy="164.1" r="1.5"/>
<circle class="c9" cx="215.0" cy="169.8" r="1.5"/>
<circle class="c10" cx="182.2" cy="178.8" r="1.5"/>
<circle class="c11" cx="219.8" cy="162.9" r="1.5"/>
<circle class="c11" cx="199.9" cy="170.3" r="1.5"/>
<circle class="c13" cx="241.3" cy="158.8" r="1.5"/>
<circle class="c10" cx="242.0" cy="161.6" r="1.5"/>
<circle class="c11" cx="172.1" cy="183.8" r="1.5"/>
<circle class="c8" cx="184.3" cy="178.6" r="1.5"/>
<circle class="c12" cx="157.3" cy="182.9" r="1.5"/>
<circle class="c7" cx="265.7" cy="168.8" r="1.5"/>
<circle class="c10" cx="194.3" cy="172.2" r="1.5"/>
<circle class="c8" cx="225.2" cy="163.4" r="1.5"/>
<circle class="c12" cx="190.2" cy="169.8" r="1.5"/>
<circle class="c6" cx="205.8" cy="177.0" r="1.5"/>
<circle class="c10" cx="290.4" cy="151.0" r="1.5"/>
<circle class="c8" cx="171.3" cy="177.8" r="1.5"/>
<circle class="c7" cx="191.2" cy="172.8" r="1.5"/>
<circle class="c10" cx="183.7" cy="174.5" r="1.5"/>
<circle class="c11" cx="240.2" cy="159.4" r="1.5"/>
<circle class="c11" cx="268.8" cy="158.6" r="1.5"/>
<circle class="c9" cx="253.8" cy="157.3" r="1.5"/>
<circle class="c13" cx="245.5" cy="157.7" r="1.5"/>
<circle class="c8" cx="216.3" cy="167.8" r="1.5"/>
<circle class="c7" cx="217.6" cy="170.2" r="1.5"/>
<circle class="c11" cx="139.8" cy="187.5" r="1.5"/>
<circle class="c8" cx="252.5" cy="163.0" r="1.5"/>
<circle class="c11" cx="181.2" cy="175.4" r="1.5"/>
<circle class="c11" cx="155.8" cy="182.3" r="1.5"/>
<circle class="c12" cx="256.2" cy="154.4" r="1.5"/>
<circle class="c10" cx="239.4" cy="162.7" r="1.5"/>
<circle class="c11" cx="198.6" cy="170.1" r="1.5"/>
<circle class="c13" cx="179.7" cy="174.9" r="1.5"/>
<circle class="c11" cx="205.0" cy="169.5" r="1.5"/>
<circle class="c12" cx="302.9" cy="146.9" r="1.5"/>
<circle class="c10" cx="262.1" cy="156.9" r="1.5"/>
<circle class="c10" cx="219.0" cy="167.8" r="1.5"/>
<circle class="c10" cx="184.4" cy="173.1" r="1.5"/>
<circle class="c10" cx="230.3" cy="164.3" r="1.5"/>
<circle class="c8" cx="183.2" cy="177.9" r="1.5"/>
<circle class="c14" cx="243.8" cy="155.5" r="1.5"/>
<circle class="c6" cx="250.1" cy="171.9" r="1.5"/>
<circle class="c9" cx="152.4" cy="184.3" r="1.5"/>
<circle class="c11" cx="197.6" cy="168.2" r="1.5"/>
<circle class="c13" cx="233.9" cy="158.8" r="1.5"/>
<circle class="c11" cx="217.3" cy="167.9" r="1.5"/>
<circle class="c9" cx="243.5" cy="160.6" r="1.5"/>
<circle class="c9" cx="154.6" cy="185.0" r="1.5"/>
<circle class="c10" cx="233.3" cy="165.4" r="1.5"/>
<circle class="c10" cx="232.1" cy="164.6" r="1.5"/>
<circle class="c12" cx="147.6" cy="185.7" r="1.5"/>
<circle class="c8" cx="233.5" cy="163.3" r="1.5"/>
<circle class="c12" cx="237.3" cy="160.5" r="1.5"/>
<circle class="c10" cx="164.1" cy="180.9" r="1.5"/>
<circle class="c9" cx="241.4" cy="164.3" r="1.5"/>
<circle class="c11" cx="223.0" cy="165.6" r="1.5"/>
<circle class="c11" cx="184.3" cy="175.2" r="1.5"/>
<circle class="c12" cx="220.1" cy="166.8" r="1.5"/>
<circle class="c11" cx="152.5" cy="183.3" r="1.5"/>
<circle class="c12" cx="168.7" cy="176.9" r="1.5"/>
<circle class="c11" cx="169.1" cy="176.0" r="1.5"/>
<circle class="c6" cx="251.8" cy="160.3" r="1.5"/>
<circle class="c10" cx="200.4" cy="172.7" r="1.5"/>
<circle class="c11" cx="239.3" cy="159.9" r="1.5"/>
<circle class="c10" cx="261.2" cy="159.5" r="1.5"/>
<circle class="c10" cx="208.0" cy="169.9" r="1.5"/>
<circle class="c11" cx="272.0" cy="158.6" r="1.5"/>
<circle class="c11" cx="210.1" cy="169.8" r="1.5"/>
<circle class="c11" cx="189.1" cy="173.6" r="1.5"/>
<circle class="c11" cx="209.4" cy="167.7" r="1.5"/>
<circle class="c12" cx="199.1" cy="168.9" r="1.5"/>
<circle class="c13" cx="219.3" cy="160.4" r="1.5"/>
<circle class="c11" cx="210.6" cy="164.9" r="1.5"/>
<circle class="c11" cx="245.8" cy="161.2" r="1.5"/>
<circle class="c11" cx="195.3" cy="174.9" r="1.5"/>
<circle class="c11" cx="189.5" cy="175.5" r="1.5"/>
<circle class="c2" cx="178.5" cy="177.2" r="1.5"/>
<circle class="c12" cx="281.7" cy="156.0" r="1.5"/>
<circle class="c10" cx="231.3" cy="160.0" r="1.5"/>
<circle class="c7" cx="303.4" cy="142.3" r="1.5"/>
<circle class="c12" cx="173.4" cy="178.0" r="1.5"/>
<circle class="c9" cx="210.5" cy="171.1" r="1.5"/>
<circle class="c11" cx="195.8" cy="174.3" r="1.5"/>
<circle class="c10" cx="209.3" cy="174.7" r="1.5"/>
<circle class="c8" cx="180.7" cy="179.9" r="1.5"/>
<circle class="c7" cx="160.0" cy="190.3" r="1.5"/>
<circle class="c12" cx="241.7" cy="159.9" r="1.5"/>
<circle class="c9" cx="170.0" cy="181.1" r="1.5"/>
<circle class="c12" cx="205.2" cy="170.5" r="1.5"/>
<circle class="c9" cx="147.6" cy="188.5" r="1.5"/>
<circle class="c13" cx="197.7" cy="168.3" r="1.5"/>
<circle class="c11" cx="219.0" cy="163.3" r="1.5"/>
<circle class="c9" cx="267.5" cy="160.6" r="1.5"/>
<circle class="c10" cx="195.6" cy="172.4" r="1.5"/>
<circle class="c11" cx="208.9" cy="170.3" r="1.5"/>
<circle class="c12" cx="238.7" cy="164.5" r="1.5"/>
<circle class="c11" cx="233.2" cy="159.2" r="1.5"/>
<circle class="c11" cx="206.9" cy="166.7" r="1.5"/>
<circle class="c7" cx="259.1" cy="163.7" r="1.5"/>
<circle class="c7" cx="249.3" cy="163.3" r="1.5"/>
<circle class="c8" cx="266.1" cy="160.7" r="1.5"/>
<circle class="c10" cx="242.8" cy="159.0" r="1.5"/>
<circle class="c11" cx="175.6" cy="177.5" r="1.5"/>
<circle class="c10" cx="230.0" cy="163.3" r="1.5"/>
<circle class="c11" cx="187.6" cy="173.6" r="1.5"/>
<circle class="c10" cx="213.2" cy="166.8" r="1.5"/>
<circle class="c8" cx="63.9" cy="211.8" r="1.5"/>
<circle class="c5" cx="323.8" cy="139.5" r="1.5"/>
<circle class="c12" cx="229.1" cy="163.2" r="1.5"/>
<circle class="c12" cx="248.8" cy="157.7" r="1.5"/>
<circle class="c10" cx="253.9" cy="153.4" r="1.5"/>
<circle class="c11" cx="182.6" cy="174.6" r="1.5"/>
<circle class="c13" cx="245.8" cy="155.0" r="1.5"/>
<circle class="c10" cx="193.1" cy="170.7" r="1.5"/>
<circle class="c7" cx="275.1" cy="158.0" r="1.5"/>
<circle class="c10" cx="193.8" cy="173.7" r="1.5"/>
<circle class="c13" cx="226.6" cy="161.7" r="1.5"/>
<circle class="c10" cx="228.0" cy="165.1" r="1.5"/>
<circle class="c11" cx="220.7" cy="165.7" r="1.5"/>
<circle class="c11" cx="246.6" cy="154.2" r="1.5"/>
<circle class="c10" cx="173.1" cy="176.0" r="1.5"/>
<circle class="c13" cx="218.8" cy="163.0" r="1.5"/>
<circle class="c11" cx="198.0" cy="171.5" r="1.5"/>
<circle class="c11" cx="252.6" cy="157.6" r="1.5"/>
<circle class="c12" cx="259.2" cy="155.3" r="1.5"/>
<circle class="c11" cx="196.2" cy="172.8" r="1.5"/>
<circle class="c11" cx="229.5" cy="162.9" r="1.5"/>
<circle class="c9" cx="285.4" cy="156.1" r="1.5"/>
<circle class="c11" cx="224.2" cy="162.1" r="1.5"/>
<circle class="c11" cx="285.8" cy="150.3" r="1.5"/>
<circle class="c13" cx="194.7" cy="169.8" r="1.5"/>
<circle class="c10" cx="233.7" cy="160.3" r="1.5"/>
<circle class="c10" cx="159.2" cy="181.1" r="1.5"/>
<circle class="c11" cx="175.5" cy="174.9" r="1.5"/>
<circle class="c1" cx="237.4" cy="166.1" r="1.5"/>
<circle class="c13" cx="220.3" cy="162.9" r="1.5"/>
<circle class="c10" cx="145.3" cy="186.6" r="1.5"/>
<circle class="c11" cx="225.8" cy="165.3" r="1.5"/>
<circle class="c12" cx="266.7" cy="153.2" r="1.5"/>
<circle class="c12" cx="199.7" cy="170.1" r="1.5"/>
<circle class="c12" cx="237.2" cy="163.5" r="1.5"/>
<circle class="c9" cx="234.8" cy="166.1" r="1.5"/>
<circle class="c10" cx="269.8" cy="156.9" r="1.5"/>
<circle class="c11" cx="244.4" cy="159.3" r="1.5"/>
<circle class="c10" cx="225.5" cy="165.3" r="1.5"/>
<circle class="c10" cx="190.6" cy="174.6" r="1.5"/>
<circle class="c13" cx="225.8" cy="161.9" r="1.5"/>
<circle class="c11" cx="183.1" cy="174.2" r="1.5"/>
<circle class="c13" cx="224.9" cy="158.5" r="1.5"/>
<circle class="c11" cx="269.5" cy="155.6" r="1.5"/>
<circle class="c8" cx="272.3" cy="157.5" r="1.5"/>
<circle class="c11" cx="251.9" cy="155.3" r="1.5"/>
<circle class="c11" cx="211.5" cy="168.7" r="1.5"/>
<circle class="c8" cx="168.5" cy="180.7" r="1.5"/>
<circle class="c9" cx="174.0" cy="177.3" r="1.5"/>
<circle class="c12" cx="187.0" cy="172.5" r="1.5"/>
<circle class="c11" cx="181.1" cy="176.7" r="1.5"/>
<circle class="c8" cx="257.4" cy="162.5" r="1.5"/>
<circle class="c10" cx="226.2" cy="167.8" r="1.5"/>
<circle class="c11" cx="220.1" cy="166.9" r="1.5"/>
<circle class="c7" cx="253.0" cy="164.4" r="1.5"/>
<circle class="c9" cx="203.5" cy="172.4" r="1.5"/>
<circle class="c8" cx="197.2" cy="174.3" r="1.5"/>
<circle class="c12" cx="146.6" cy="184.8" r="1.5"/>
<circle class="c9" cx="155.9" cy="183.4" r="1.5"/>
<circle class="c11" cx="227.0" cy="166.6" r="1.5"/>
<circle class="c11" cx="289.2" cy="146.4" r="1.5"/>
<circle class="c12" cx="270.0" cy="150.1" r="1.5"/>
<circle class="c9" cx="214.8" cy="166.2" r="1.5"/>
<circle class="c10" cx="271.0" cy="151.6" r="1.5"/>
<circle class="c9" cx="189.6" cy="175.5" r="1.5"/>
<circle class="c8" cx="278.5" cy="153.9" r="1.5"/>
<circle class="c11" cx="226.3" cy="164.6" r="1.5"/>
<circle class="c11" cx="211.3" cy="165.0" r="1.5"/>
<circle class="c10" cx="250.7" cy="157.3" r="1.5"/>
<circle class="c11" cx="227.1" cy="162.9" r="1.5"/>
<circle class="c8" cx="253.8" cy="159.4" r="1.5"/>
<circle class="c11" cx="204.9" cy="167.2" r="1.5"/>
<circle class="c12" cx="164.4" cy="179.1" r="1.5"/>
<circle class="c11" cx="181.9" cy="175.5" r="1.5"/>
<circle class="c5" cx="226.4" cy="188.4" r="1.5"/>
<circle class="c12" cx="233.7" cy="157.8" r="1.5"/>
<circle class="c12" cx="214.7" cy="167.7" r="1.5"/>
<circle class="c11" cx="191.9" cy="176.5" r="1.5"/>
<circle class="c14" cx="167.4" cy="177.4" r="1.5"/>
<circle class="c12" cx="231.7" cy="158.9" r="1.5"/>
<circle class="c7" cx="228.3" cy="169.6" r="1.5"/>
<circle class="c10" cx="179.5" cy="176.7" r="1.5"/>
<circle class="c10" cx="190.1" cy="174.5" r="1.5"/>
<circle class="c9" cx="223.2" cy="167.9" r="1.5"/>
<circle class="c7" cx="217.0" cy="173.1" r="1.5"/>
<circle class="c10" cx="113.0" cy="197.3" r="1.5"/>
<circle class="c9" cx="221.0" cy="167.5" r="1.5"/>
<circle class="c10" cx="213.5" cy="166.4" r="1.5"/>
<circle class="c11" cx="167.2" cy="179.5" r="1.5"/>
<circle class="c12" cx="172.6" cy="175.8" r="1.5"/>
<circle class="c1" cx="258.7" cy="167.5" r="1.5"/>
<circle class="c7" cx="234.1" cy="172.1" r="1.5"/>
<circle class="c11" cx="265.5" cy="150.7" r="1.5"/>
<circle class="c11" cx="200.7" cy="170.1" r="1.5"/>
<circle class="c10" cx="158.1" cy="182.5" r="1.5"/>
<circle class="c11" cx="231.6" cy="158.3" r="1.5"/>
<circle class="c12" cx="251.9" cy="154.4" r="1.5"/>
<circle class="c10" cx="232.4" cy="165.4" r="1.5"/>
<circle class="c10" cx="186.3" cy="176.3" r="1.5"/>
<circle class="c10" cx="233.2" cy="166.3" r="1.5"/>
<circle class="c11" cx="199.2" cy="171.2" r="1.5"/>
<circle class="c11" cx="219.4" cy="167.8" r="1.5"/>
<circle class="c11" cx="199.4" cy="166.4" r="1.5"/>
<circle class="c14" cx="270.1" cy="147.9" r="1.5"/>
<circle class="c12" cx="217.9" cy="166.4" r="1.5"/>
<circle class="c12" cx="237.1" cy="162.0" r="1.5"/>
<circle class="c10" cx="270.8" cy="156.0" r="1.5"/>
<circle class="c12" cx="222.3" cy="166.1" r="1.5"/>
<circle class="c8" cx="218.8" cy="183.4" r="1.5"/>
<circle class="c9" cx="177.0" cy="176.9" r="1.5"/>
<circle class="c10" cx="203.1" cy="172.2" r="1.5"/>
<circle class="c9" cx="191.2" cy="173.5" r="1.5"/>
<circle class="c8" cx="260.1" cy="159.9" r="1.5"/>
<circle class="c10" cx="239.7" cy="162.2" r="1.5"/>
<circle class="c8" cx="180.9" cy="176.8" r="1.5"/>
<circle class="c10" cx="176.6" cy="180.0" r="1.5"/>
<circle class="c8" cx="206.2" cy="173.2" r="1.5"/>
<circle class="c9" cx="204.1" cy="169.5" r="1.5"/>
<circle class="c7" cx="221.6" cy="177.8" r="1.5"/>
<circle class="c10" cx="205.0" cy="171.2" r="1.5"/>
<circle class="c10" cx="249.4" cy="158.5" r="1.5"/>
<circle class="c9" cx="236.8" cy="167.9" r="1.5"/>
<circle class="c11" cx="301.7" cy="144.4" r="1.5"/>
<circle class="c11" cx="213.7" cy="167.0" r="1.5"/>
<circle class="c10" cx="167.3" cy="179.0" r="1.5"/>
<circle class="c9" cx="135.6" cy="189.8" r="1.5"/>
<circle class="c10" cx="204.3" cy="171.9" r="1.5"/>
<circle class="c7" cx="226.9" cy="171.7" r="1.5"/>
<circle class="c8" cx="241.3" cy="164.9" r="1.5"/>
<circle class="c11" cx="254.5" cy="160.1" r="1.5"/>
<circle class="c7" cx="243.5" cy="166.5" r="1.5"/>
<circle class="c12" cx="193.3" cy="166.4" r="1.5"/>
<circle class="c9" cx="237.1" cy="163.5" r="1.5"/>
<circle class="c11" cx="211.1" cy="166.4" r="1.5"/>
<circle class="c7" cx="232.8" cy="170.4" r="1.5"/>
<circle class="c13" cx="259.0" cy="154.7" r="1.5"/>
<circle class="c10" cx="218.2" cy="165.2" r="1.5"/>
<circle class="c9" cx="120.0" cy="194.2" r="1.5"/>
<circle class="c11" cx="241.7" cy="159.5" r="1.5"/>
<circle class="c10" cx="232.8" cy="166.8" r="1.5"/>
<circle class="c11" cx="187.5" cy="172.5" r="1.5"/>
<circle class="c14" cx="199.0" cy="166.2" r="1.5"/>
<circle class="c12" cx="235.7" cy="163.4" r="1.5"/>
<circle class="c12" cx="190.2" cy="172.3" r="1.5"/>
<circle class="c10" cx="181.3" cy="175.2" r="1.5"/>
<circle class="c8" cx="298.2" cy="152.6" r="1.5"/>
<circle class="c11" cx="163.2" cy="180.5" r="1.5"/>
<circle class="c7" cx="282.0" cy="155.1" r="1.5"/>
<circle class="c12" cx="223.0" cy="163.3" r="1.5"/>
<circle class="c12" cx="144.0" cy="186.6" r="1.5"/>
<circle class="c9" cx="260.2" cy="160.4" r="1.5"/>
<circle class="c12" cx="246.4" cy="158.9" r="1.5"/>
<circle class="c12" cx="214.5" cy="164.5" r="1.5"/>
<circle class="c12" cx="177.0" cy="177.9" r="1.5"/>
<circle class="c11" cx="150.4" cy="184.2" r="1.5"/>
<circle class="c9" cx="177.3" cy="177.6" r="1.5"/>
<circle class="c10" cx="150.7" cy="185.1" r="1.5"/>
<circle class="c11" cx="201.6" cy="170.9" r="1.5"/>
<circle class="c10" cx="185.2" cy="176.4" r="1.5"/>
<circle class="c13" cx="249.2" cy="155.1" r="1.5"/>
<circle class="c12" cx="178.8" cy="172.6" r="1.5"/>
<circle class="c9" cx="263.5" cy="156.2" r="1.5"/>
<circle class="c11" cx="190.7" cy="170.9" r="1.5"/>
<circle class="c9" cx="153.6" cy="183.8" r="1.5"/>
<circle class="c11" cx="217.8" cy="166.0" r="1.5"/>
<circle class="c10" cx="175.9" cy="176.8" r="1.5"/>
<circle class="c12" cx="190.8" cy="173.0" r="1.5"/>
<circle class="c11" cx="284.2" cy="144.9" r="1.5"/>
<circle class="c9" cx="286.9" cy="153.1" r="1.5"/>
<circle class="c10" cx="184.0" cy="173.7" r="1.5"/>
<circle class="c12" cx="206.6" cy="166.9" r="1.5"/>
<circle class="c9" cx="262.3" cy="155.1" r="1.5"/>
<circle class="c10" cx="176.0" cy="179.1" r="1.5"/>
<circle class="c12" cx="229.5" cy="168.6" r="1.5"/>
<circle class="c11" cx="179.6" cy="177.2" r="1.5"/>
<circle class="c10" cx="185.0" cy="176.4" r="1.5"/>
<circle class="c10" cx="243.1" cy="161.6" r="1.5"/>
<circle class="c11" cx="232.7" cy="164.0" r="1.5"/>
<circle class="c11" cx="159.2" cy="179.1" r="1.5"/>
<circle class="c7" cx="283.0" cy="158.2" r="1.5"/>
<circle class="c12" cx="201.6" cy="167.3" r="1.5"/>
<circle class="c7" cx="220.5" cy="166.8" r="1.5"/>
<circle class="c7" cx="259.1" cy="159.5" r="1.5"/>
<circle class="c13" cx="266.6" cy="150.6" r="1.5"/>
<circle class="c11" cx="250.9" cy="158.4" r="1.5"/>
<circle class="c10" cx="149.2" cy="185.3" r="1.5"/>
<circle class="c7" cx="238.3" cy="165.8" r="1.5"/>
<circle class="c12" cx="255.8" cy="155.9" r="1.5"/>
<circle class="c11" cx="187.1" cy="168.9" r="1.5"/>
<circle class="c2" cx="177.1" cy="177.0" r="1.5"/>
<circle class="c13" cx="185.8" cy="173.6" r="1.5"/>
<circle class="c12" cx="163.9" cy="177.4" r="1.5"/>
<circle class="c9" cx="175.3" cy="179.2" r="1.5"/>
<circle class="c10" cx="150.2" cy="185.0" r="1.5"/>
<circle class="c11" cx="264.4" cy="159.4" r="1.5"/>
<circle class="c9" cx="192.8" cy="169.9" r="1.5"/>
<circle class="c10" cx="125.3" cy="193.6" r="1.5"/>
<circle class="c10" cx="226.0" cy="165.3" r="1.5"/>
<circle class="c2" cx="258.0" cy="163.7" r="1.5"/>
<circle class="c9" cx="233.7" cy="167.4" r="1.5"/>
<circle class="c12" cx="194.9" cy="170.3" r="1.5"/>
<circle class="c10" cx="253.5" cy="153.8" r="1.5"/>
<circle class="c9" cx="210.7" cy="174.6" r="1.5"/>
<circle class="c10" cx="192.3" cy="172.2" r="1.5"/>
<circle class="c11" cx="263.5" cy="158.1" r="1.5"/>
<circle class="c5" cx="162.6" cy="189.9" r="1.5"/>
<circle class="c5" cx="144.9" cy="189.0" r="1.5"/>
<circle class="c10" cx="178.5" cy="178.7" r="1.5"/>
<circle class="c12" cx="197.8" cy="166.3" r="1.5"/>
<circle class="c11" cx="201.2" cy="171.0" r="1.5"/>
<circle class="c9" cx="213.8" cy="171.7" r="1.5"/>
<circle class="c11" cx="196.6" cy="171.1" r="1.5"/>
<circle class="c12" cx="230.3" cy="163.2" r="1.5"/>
<circle class="c10" cx="256.8" cy="158.7" r="1.5"/>
<circle class="c14" cx="257.5" cy="151.7" r="1.5"/>
<circle class="c2" cx="208.6" cy="172.0" r="1.5"/>
<circle class="c7" cx="208.1" cy="173.1" r="1.5"/>
<circle class="c9" cx="250.4" cy="165.3" r="1.5"/>
<circle class="c8" cx="268.1" cy="158.7" r="1.5"/>
<circle class="c10" cx="249.9" cy="159.0" r="1.5"/>
<circle class="c11" cx="180.7" cy="174.6" r="1.5"/>
<circle class="c13" cx="229.5" cy="159.0" r="1.5"/>
<circle class="c10" cx="153.7" cy="181.7" r="1.5"/>
<circle class="c9" cx="226.1" cy="168.2" r="1.5"/>
<circle class="c11" cx="167.2" cy="179.8" r="1.5"/>
<circle class="c10" cx="215.7" cy="165.8" r="1.5"/>
<circle class="c9" cx="277.6" cy="151.2" r="1.5"/>
<circle class="c10" cx="148.0" cy="183.6" r="1.5"/>
<circle class="c10" cx="236.9" cy="162.0" r="1.5"/>
<circle class="c10" cx="240.1" cy="164.8" r="1.5"/>
<circle class="c9" cx="171.6" cy="179.6" r="1.5"/>
<circle class="c11" cx="288.3" cy="150.8" r="1.5"/>
<circle class="c11" cx="183.4" cy="175.1" r="1.5"/>
<circle class="c6" cx="219.8" cy="177.6" r="1.5"/>
<circle class="c11" cx="215.1" cy="163.6" r="1.5"/>
<circle class="c8" cx="236.7" cy="165.8" r="1.5"/>
<circle class="c12" cx="142.1" cy="186.9" r="1.5"/>
<circle class="c12" cx="259.3" cy="160.3" r="1.5"/>
<circle class="c8" cx="251.7" cy="159.0" r="1.5"/>
<circle class="c10" cx="268.0" cy="160.8" r="1.5"/>
<circle class="c9" cx="266.9" cy="152.6" r="1.5"/>
<circle class="c14" cx="218.6" cy="163.2" r="1.5"/>
<circle class="c10" cx="245.6" cy="157.7" r="1.5"/>
<circle class="c13" cx="187.4" cy="172.2" r="1.5"/>
<circle class="c10" cx="236.8" cy="165.1" r="1.5"/>
<circle class="c10" cx="230.3" cy="166.1" r="1.5"/>
<circle class="c8" cx="238.1" cy="168.8" r="1.5"/>
<circle class="c10" cx="270.6" cy="152.2" r="1.5"/>
<circle class="c11" cx="226.2" cy="163.0" r="1.5"/>
<circle class="c8" cx="218.4" cy="167.0" r="1.5"/>
<circle class="c9" cx="277.0" cy="149.3" r="1.5"/>
<circle class="c10" cx="230.1" cy="162.6" r="1.5"/>
<circle class="c12" cx="203.8" cy="170.4" r="1.5"/>
<circle class="c9" cx="242.0" cy="161.0" r="1.5"/>
<circle class="c11" cx="247.1" cy="157.6" r="1.5"/>
<circle class="c13" cx="196.0" cy="169.4" r="1.5"/>
<circle class="c10" cx="304.8" cy="152.8" r="1.5"/>
<circle class="c13" cx="251.2" cy="152.7" r="1.5"/>
<circle class="c9" cx="161.0" cy="180.8" r="1.5"/>
<circle class="c10" cx="244.8" cy="159.6" r="1.5"/>
<circle class="c10" cx="234.8" cy="166.8" r="1.5"/>
<circle class="c6" cx="270.5" cy="158.2" r="1.5"/>
<circle class="c12" cx="234.6" cy="164.2" r="1.5"/>
<circle class="c10" cx="165.0" cy="179.7" r="1.5"/>
<circle class="c11" cx="214.6" cy="165.7" r="1.5"/>
<circle class="c8" cx="277.1" cy="159.0" r="1.5"/>
<circle class="c9" cx="167.4" cy="178.2" r="1.5"/>
<circle class="c9" cx="222.0" cy="166.3" r="1.5"/>
<circle class="c10" cx="216.8" cy="167.0" r="1.5"/>
<circle class="c11" cx="238.9" cy="162.0" r="1.5"/>
<circle class="c9" cx="209.3" cy="172.5" r="1.5"/>
<circle class="c11" cx="211.0" cy="170.1" r="1.5"/>
<circle class="c10" cx="225.4" cy="164.5" r="1.5"/>
<circle class="c12" cx="224.4" cy="165.4" r="1.5"/>
<circle class="c11" cx="210.7" cy="167.5" r="1.5"/>
<circle class="c9" cx="268.4" cy="157.9" r="1.5"/>
<circle class="c11" cx="229.7" cy="162.6" r="1.5"/>
<circle class="c11" cx="173.0" cy="176.1" r="1.5"/>
<circle class="c6" cx="312.5" cy="148.6" r="1.5"/>
<circle class="c11" cx="182.7" cy="174.0" r="1.5"/>
<circle class="c10" cx="207.7" cy="167.8" r="1.5"/>
<circle class="c9" cx="182.3" cy="178.3" r="1.5"/>
<circle class="c12" cx="286.5" cy="149.2" r="1.5"/>
<circle class="c10" cx="199.1" cy="172.0" r="1.5"/>
<circle class="c11" cx="273.4" cy="155.9" r="1.5"/>
<circle class="c11" cx="267.7" cy="152.5" r="1.5"/>
<circle class="c9" cx="240.2" cy="160.3" r="1.5"/>
<circle class="c10" cx="275.1" cy="155.0" r="1.5"/>
<circle class="c10" cx="276.3" cy="154.9" r="1.5"/>
<circle class="c6" cx="188.5" cy="188.4" r="1.5"/>
<circle class="c9" cx="246.3" cy="159.5" r="1.5"/>
<circle class="c8" cx="248.4" cy="168.2" r="1.5"/>
<circle class="c12" cx="272.5" cy="153.6" r="1.5"/>
<circle class="c10" cx="190.2" cy="177.8" r="1.5"/>
<circle class="c10" cx="218.5" cy="168.3" r="1.5"/>
<circle class="c11" cx="301.4" cy="154.6" r="1.5"/>
<circle class="c12" cx="207.2" cy="167.6" r="1.5"/>
<circle class="c13" cx="226.2" cy="160.9" r="1.5"/>
<circle class="c11" cx="205.9" cy="168.6" r="1.5"/>
<circle class="c13" cx="259.9" cy="148.0" r="1.5"/>
<circle class="c8" cx="199.0" cy="172.1" r="1.5"/>
<circle class="c10" cx="143.6" cy="187.5" r="1.5"/>
<circle class="c8" cx="218.6" cy="170.9" r="1.5"/>
<circle class="c8" cx="272.1" cy="156.4" r="1.5"/>
<circle class="c8" cx="234.9" cy="164.4" r="1.5"/>
<circle class="c11" cx="262.6" cy="157.5" r="1.5"/>
<circle class="c10" cx="206.4" cy="167.4" r="1.5"/>
<circle class="c10" cx="200.9" cy="172.0" r="1.5"/>
<circle class="c12" cx="210.8" cy="165.4" r="1.5"/>
<circle class="c11" cx="158.9" cy="183.4" r="1.5"/>
<circle class="c11" cx="291.3" cy="151.5" r="1.5"/>
<circle class="c11" cx="129.1" cy="189.8" r="1.5"/>
<circle class="c11" cx="239.0" cy="161.9" r="1.5"/>
<circle class="c11" cx="151.1" cy="183.1" r="1.5"/>
<circle class="c9" cx="274.0" cy="156.4" r="1.5"/>
<circle class="c9" cx="260.8" cy="158.5" r="1.5"/>
<circle class="c10" cx="154.1" cy="184.1" r="1.5"/>
<circle class="c10" cx="258.9" cy="158.4" r="1.5"/>
<circle class="c9" cx="267.5" cy="156.8" r="1.5"/>
<circle class="c10" cx="243.8" cy="158.0" r="1.5"/>
<circle class="c12" cx="183.4" cy="172.0" r="1.5"/>
<circle class="c10" cx="196.0" cy="176.0" r="1.5"/>
<circle class="c13" cx="211.9" cy="161.2" r="1.5"/>
<circle class="c7" cx="187.0" cy="175.2" r="1.5"/>
<circle class="c10" cx="197.3" cy="167.0" r="1.5"/>
<circle class="c10" cx="220.1" cy="167.0" r="1.5"/>
<circle class="c9" cx="156.7" cy="184.9" r="1.5"/>
<circle class="c8" cx="192.8" cy="176.3" r="1.5"/>
<circle class="c11" cx="265.7" cy="157.3" r="1.5"/>
<circle class="c13" cx="171.2" cy="174.9" r="1.5"/>
<circle class="c10" cx="179.3" cy="174.9" r="1.5"/>
<circle class="c9" cx="242.7" cy="165.9" r="1.5"/>
<circle class="c8" cx="210.0" cy="173.2" r="1.5"/>
<circle class="c9" cx="227.4" cy="165.2" r="1.5"/>
<circle class="c10" cx="276.2" cy="160.4" r="1.5"/>
<circle class="c11" cx="204.9" cy="168.8" r="1.5"/>
<circle class="c9" cx="248.6" cy="159.5" r="1.5"/>
<circle class="c12" cx="241.0" cy="158.4" r="1.5"/>
<circle class="c11" cx="221.9" cy="163.4" r="1.5"/>
<circle class="c10" cx="202.0" cy="173.2" r="1.5"/>
<circle class="c8" cx="226.1" cy="166.0" r="1.5"/>
<circle class="c13" cx="248.1" cy="156.3" r="1.5"/>
<circle class="c11" cx="260.3" cy="156.7" r="1.5"/>
<circle class="c6" cx="242.5" cy="168.9" r="1.5"/>
<circle class="c10" cx="254.8" cy="160.1" r="1.5"/>
<circle class="c9" cx="190.4" cy="174.3" r="1.5"/>
<circle class="c12" cx="178.6" cy="176.4" r="1.5"/>
<circle class="c8" cx="124.0" cy="193.0" r="1.5"/>
<circle class="c9" cx="224.5" cy="163.9" r="1.5"/>
<circle class="c12" cx="240.0" cy="156.2" r="1.5"/>
<circle class="c11" cx="262.9" cy="154.7" r="1.5"/>
<circle class="c9" cx="299.9" cy="157.7" r="1.5"/>
<circle class="c11" cx="176.6" cy="177.1" r="1.5"/>
<circle class="c9" cx="199.8" cy="172.3" r="1.5"/>
<circle class="c9" cx="264.0" cy="158.7" r="1.5"/>
<circle class="c11" cx="239.1" cy="166.0" r="1.5"/>
<circle class="c10" cx="207.0" cy="168.4" r="1.5"/>
<circle class="c11" cx="285.7" cy="155.3" r="1.5"/>
<circle class="c12" cx="201.5" cy="167.1" r="1.5"/>
<circle class="c7" cx="269.0" cy="155.9" r="1.5"/>
<circle class="c0" cx="253.1" cy="159.2" r="1.5"/>
<circle class="c5" cx="227.5" cy="182.2" r="1.5"/>
<circle class="c9" cx="201.1" cy="173.2" r="1.5"/>
<circle class="c8" cx="217.4" cy="169.5" r="1.5"/>
<circle class="c12" cx="195.4" cy="171.3" r="1.5"/>
<circle class="c9" cx="219.1" cy="168.3" r="1.5"/>
<circle class="c13" cx="286.2" cy="147.8" r="1.5"/>
<circle class="c1" cx="233.7" cy="167.3" r="1.5"/>
<circle class="c10" cx="162.1" cy="183.1" r="1.5"/>
<circle class="c12" cx="242.4" cy="157.5" r="1.5"/>
<circle class="c9" cx="252.5" cy="162.6" r="1.5"/>
<circle class="c9" cx="206.4" cy="171.1" r="1.5"/>
<circle class="c7" cx="304.8" cy="152.8" r="1.5"/>
<circle class="c9" cx="273.8" cy="158.2" r="1.5"/>
<circle class="c10" cx="243.2" cy="164.9" r="1.5"/>
<circle class="c0" cx="260.2" cy="180.6" r="1.5"/>
<circle class="c10" cx="168.2" cy="181.3" r="1.5"/>
<circle class="c9" cx="172.3" cy="178.2" r="1.5"/>
<circle class="c9" cx="274.7" cy="159.5" r="1.5"/>
<circle class="c9" cx="201.7" cy="174.7" r="1.5"/>
<circle class="c9" cx="169.8" cy="182.1" r="1.5"/>
<circle class="c7" cx="223.6" cy="170.6" r="1.5"/>
<circle class="c8" cx="148.2" cy="185.0" r="1.5"/>
<circle class="c0" cx="257.0" cy="159.4" r="1.5"/>
<circle class="c11" cx="235.5" cy="164.3" r="1.5"/>
<circle class="c10" cx="145.6" cy="185.7" r="1.5"/>
<circle class="c11" cx="229.1" cy="161.5" r="1.5"/>
<circle class="c9" cx="258.0" cy="158.8" r="1.5"/>
<circle class="c9" cx="215.2" cy="166.7" r="1.5"/>
<circle class="c8" cx="264.9" cy="162.6" r="1.5"/>
<circle class="c11" cx="195.6" cy="171.0" r="1.5"/>
<circle class="c7" cx="185.2" cy="181.7" r="1.5"/>
<circle class="c12" cx="203.4" cy="171.4" r="1.5"/>
<circle class="c6" cx="177.2" cy="186.9" r="1.5"/>
<circle class="c10" cx="205.1" cy="170.7" r="1.5"/>
<circle class="c12" cx="199.4" cy="171.3" r="1.5"/>
<circle class="c13" cx="226.5" cy="161.6" r="1.5"/>
<circle class="c10" cx="250.9" cy="158.2" r="1.5"/>
<circle class="c10" cx="196.1" cy="177.7" r="1.5"/>
<circle class="c10" cx="192.2" cy="170.6" r="1.5"/>
<circle class="c6" cx="316.7" cy="138.0" r="1.5"/>
<circle class="c9" cx="233.2" cy="168.4" r="1.5"/>
<circle class="c11" cx="288.4" cy="146.3" r="1.5"/>
<circle class="c10" cx="211.3" cy="168.7" r="1.5"/>
<circle class="c11" cx="255.6" cy="157.1" r="1.5"/>
<circle class="c13" cx="179.9" cy="173.5" r="1.5"/>
<circle class="c11" cx="273.4" cy="153.9" r="1.5"/>
<circle class="c12" cx="161.0" cy="179.9" r="1.5"/>
<circle class="c2" cx="229.3" cy="170.4" r="1.5"/>
<circle class="c7" cx="228.2" cy="179.8" r="1.5"/>
<circle class="c10" cx="163.5" cy="178.7" r="1.5"/>
<circle class="c0" cx="172.3" cy="179.4" r="1.5"/>
<circle class="c8" cx="224.0" cy="170.2" r="1.5"/>
<circle class="c11" cx="156.0" cy="183.4" r="1.5"/>
<circle class="c11" cx="225.8" cy="168.0" r="1.5"/>
<circle class="c8" cx="200.8" cy="172.3" r="1.5"/>
<circle class="c2" cx="253.4" cy="158.4" r="1.5"/>
<circle class="c11" cx="216.9" cy="168.2" r="1.5"/>
<circle class="c11" cx="165.0" cy="177.7" r="1.5"/>
<circle class="c9" cx="185.9" cy="172.8" r="1.5"/>
<circle class="c0" cx="255.8" cy="186.1" r="1.5"/>
<circle class="c10" cx="207.3" cy="168.3" r="1.5"/>
<circle class="c12" cx="160.1" cy="179.2" r="1.5"/>
<circle class="c13" cx="196.3" cy="170.6" r="1.5"/>
<circle class="c7" cx="237.5" cy="169.5" r="1.5"/>
<circle class="c13" cx="229.6" cy="163.0" r="1.5"/>
<circle class="c11" cx="236.6" cy="165.4" r="1.5"/>
<circle class="c10" cx="193.0" cy="172.3" r="1.5"/>
<circle class="c10" cx="211.4" cy="164.7" r="1.5"/>
<circle class="c5" cx="241.3" cy="178.6" r="1.5"/>
<circle class="c13" cx="276.1" cy="147.2" r="1.5"/>
<circle class="c9" cx="239.2" cy="162.4" r="1.5"/>
<circle class="c6" cx="264.4" cy="163.6" r="1.5"/>
<circle class="c11" cx="202.6" cy="169.2" r="1.5"/>
<circle class="c11" cx="196.5" cy="172.4" r="1.5"/>
<circle class="c11" cx="163.4" cy="182.0" r="1.5"/>
<circle class="c8" cx="230.8" cy="166.1" r="1.5"/>
<circle class="c12" cx="221.3" cy="161.7" r="1.5"/>
<circle class="c11" cx="228.6" cy="160.8" r="1.5"/>
<circle class="c11" cx="252.1" cy="155.0" r="1.5"/>
<circle class="c8" cx="187.9" cy="174.8" r="1.5"/>
<circle class="c3" cx="246.6" cy="162.0" r="1.5"/>
<circle class="c8" cx="285.0" cy="154.6" r="1.5"/>
<circle class="c11" cx="278.6" cy="152.0" r="1.5"/>
<circle class="c9" cx="222.1" cy="164.8" r="1.5"/>
<circle class="c9" cx="225.2" cy="168.9" r="1.5"/>
<circle class="c10" cx="162.4" cy="180.4" r="1.5"/>
<circle class="c11" cx="148.3" cy="183.1" r="1.5"/>
<circle class="c6" cx="203.9" cy="177.1" r="1.5"/>
<circle class="c7" cx="259.0" cy="159.1" r="1.5"/>
<circle class="c12" cx="221.8" cy="164.5" r="1.5"/>
<circle class="c12" cx="254.6" cy="155.8" r="1.5"/>
<circle class="c10" cx="203.3" cy="168.8" r="1.5"/>
<circle class="c10" cx="239.5" cy="162.4" r="1.5"/>
<circle class="c11" cx="224.7" cy="162.8" r="1.5"/>
<circle class="c10" cx="248.7" cy="159.2" r="1.5"/>
<circle class="c13" cx="219.6" cy="164.4" r="1.5"/>
<circle class="c10" cx="165.2" cy="179.5" r="1.5"/>
<circle class="c12" cx="235.9" cy="161.0" r="1.5"/>
<circle class="c8" cx="235.7" cy="164.3" r="1.5"/>
<circle class="c9" cx="307.0" cy="148.6" r="1.5"/>
<circle class="c10" cx="281.8" cy="153.0" r="1.5"/>
<circle class="c12" cx="184.8" cy="171.0" r="1.5"/>
<circle class="c12" cx="222.6" cy="166.6" r="1.5"/>
<circle class="c11" cx="242.2" cy="165.5" r="1.5"/>
<circle class="c9" cx="197.3" cy="171.0" r="1.5"/>
<circle class="c10" cx="222.1" cy="162.2" r="1.5"/>
<circle class="c9" cx="199.1" cy="170.3" r="1.5"/>
<circle class="c10" cx="216.8" cy="172.6" r="1.5"/>
<circle class="c10" cx="138.2" cy="186.9" r="1.5"/>
<circle class="c10" cx="235.9" cy="164.0" r="1.5"/>
<circle class="c10" cx="184.9" cy="176.5" r="1.5"/>
<circle class="c10" cx="268.9" cy="154.3" r="1.5"/>
<circle class="c8" cx="215.4" cy="170.9" r="1.5"/>
<circle class="c10" cx="272.4" cy="155.3" r="1.5"/>
<circle class="c3" cx="260.9" cy="164.2" r="1.5"/>
<circle class="c10" cx="239.7" cy="159.4" r="1.5"/>
<circle class="c12" cx="225.6" cy="158.6" r="1.5"/>
<circle class="c10" cx="240.7" cy="160.4" r="1.5"/>
<circle class="c8" cx="188.8" cy="174.7" r="1.5"/>
<circle class="c10" cx="185.2" cy="176.7" r="1.5"/>
<circle class="c14" cx="218.0" cy="162.3" r="1.5"/>
<circle class="c10" cx="232.3" cy="162.9" r="1.5"/>
<circle class="c8" cx="250.9" cy="160.0" r="1.5"/>
<circle class="c11" cx="166.2" cy="181.6" r="1.5"/>
<circle class="c9" cx="210.3" cy="171.4" r="1.5"/>
<circle class="c9" cx="220.4" cy="171.0" r="1.5"/>
<circle class="c7" cx="272.3" cy="158.9" r="1.5"/>
<circle class="c10" cx="179.2" cy="174.8" r="1.5"/>
<circle class="c9" cx="250.1" cy="162.9" r="1.5"/>
<circle class="c11" cx="193.9" cy="169.2" r="1.5"/>
<circle class="c4" cx="206.3" cy="183.5" r="1.5"/>
<circle class="c8" cx="197.9" cy="172.1" r="1.5"/>
<circle class="c1" cx="261.6" cy="171.9" r="1.5"/>
<circle class="c10" cx="172.3" cy="176.7" r="1.5"/>
<circle class="c9" cx="192.3" cy="176.2" r="1.5"/>
<circle class="c11" cx="219.8" cy="163.4" r="1.5"/>
<circle class="c2" cx="162.5" cy="181.2" r="1.5"/>
<circle class="c12" cx="198.0" cy="175.4" r="1.5"/>
<circle class="c9" cx="276.9" cy="158.2" r="1.5"/>
<circle class="c11" cx="235.5" cy="164.0" r="1.5"/>
<circle class="c8" cx="235.7" cy="164.0" r="1.5"/>
<circle class="c11" cx="241.4" cy="160.0" r="1.5"/>
<circle class="c11" cx="136.6" cy="190.1" r="1.5"/>
<circle class="c9" cx="225.1" cy="164.9" r="1.5"/>
<circle class="c9" cx="238.9" cy="163.8" r="1.5"/>
<circle class="c11" cx="203.1" cy="170.6" r="1.5"/>
<circle class="c9" cx="254.3" cy="162.7" r="1.5"/>
<circle class="c11" cx="211.1" cy="167.0" r="1.5"/>
<circle class="c11" cx="236.7" cy="158.5" r="1.5"/>
<circle class="c10" cx="209.5" cy="169.7" r="1.5"/>
<circle class="c11" cx="256.1" cy="157.7" r="1.5"/>
<circle class="c9" cx="269.6" cy="156.8" r="1.5"/>
<circle class="c12" cx="215.3" cy="160.7" r="1.5"/>
<circle class="c10" cx="169.1" cy="180.9" r="1.5"/>
<circle class="c12" cx="194.1" cy="171.0" r="1.5"/>
<circle class="c12" cx="220.4" cy="165.8" r="1.5"/>
<circle class="c9" cx="232.5" cy="169.8" r="1.5"/>
<circle class="c7" cx="258.4" cy="159.9" r="1.5"/>
<circle class="c12" cx="263.4" cy="156.0" r="1.5"/>
<circle class="c6" cx="288.9" cy="157.2" r="1.5"/>
<circle class="c7" cx="127.0" cy="191.5" r="1.5"/>
<circle class="c12" cx="161.9" cy="179.7" r="1.5"/>
<circle class="c12" cx="256.0" cy="154.6" r="1.5"/>
<circle class="c9" cx="156.5" cy="181.8" r="1.5"/>
<circle class="c10" cx="262.4" cy="155.4" r="1.5"/>
<circle class="c9" cx="273.5" cy="155.0" r="1.5"/>
<circle class="c11" cx="168.4" cy="176.4" r="1.5"/>
<circle class="c11" cx="185.4" cy="172.8" r="1.5"/>
<circle class="c11" cx="141.4" cy="188.2" r="1.5"/>
<circle class="c12" cx="152.4" cy="184.7" r="1.5"/>
<circle class="c6" cx="252.1" cy="158.5" r="1.5"/>
<circle class="c10" cx="260.4" cy="157.4" r="1.5"/>
<circle class="c10" cx="208.9" cy="167.2" r="1.5"/>
<circle class="c10" cx="170.4" cy="178.4" r="1.5"/>
<circle class="c15" cx="255.4" cy="145.9" r="1.5"/>
<circle class="c7" cx="205.3" cy="171.5" r="1.5"/>
<circle class="c8" cx="161.4" cy="184.1" r="1.5"/>
<circle class="c12" cx="268.6" cy="155.9" r="1.5"/>
<circle class="c9" cx="296.6" cy="152.7" r="1.5"/>
<circle class="c8" cx="249.5" cy="163.7" r="1.5"/>
<circle class="c9" cx="178.6" cy="175.4" r="1.5"/>
<circle class="c11" cx="242.0" cy="160.1" r="1.5"/>
<circle class="c2" cx="194.4" cy="172.7" r="1.5"/>
<circle class="c11" cx="191.8" cy="171.0" r="1.5"/>
<circle class="c10" cx="142.3" cy="188.0" r="1.5"/>
<circle class="c9" cx="207.4" cy="165.3" r="1.5"/>
<circle class="c14" cx="247.4" cy="151.7" r="1.5"/>
<circle class="c9" cx="187.7" cy="173.7" r="1.5"/>
<circle class="c11" cx="133.6" cy="191.0" r="1.5"/>
<circle class="c7" cx="205.1" cy="176.1" r="1.5"/>
<circle class="c9" cx="224.1" cy="165.9" r="1.5"/>
<circle class="c9" cx="248.2" cy="164.9" r="1.5"/>
<circle class="c10" cx="189.3" cy="173.3" r="1.5"/>
<circle class="c7" cx="201.6" cy="185.7" r="1.5"/>
<circle class="c13" cx="272.9" cy="150.2" r="1.5"/>
<circle class="c9" cx="233.5" cy="166.9" r="1.5"/>
<circle class="c9" cx="196.6" cy="173.7" r="1.5"/>
<circle class="c8" cx="180.5" cy="179.8" r="1.5"/>
<circle class="c11" cx="194.8" cy="172.2" r="1.5"/>
<circle class="c10" cx="169.7" cy="176.1" r="1.5"/>
<circle class="c12" cx="214.4" cy="164.5" r="1.5"/>
<circle class="c0" cx="218.1" cy="166.8" r="1.5"/>
<circle class="c8" cx="220.2" cy="169.7" r="1.5"/>
<circle class="c8" cx="249.1" cy="166.2" r="1.5"/>
<circle class="c11" cx="218.1" cy="165.7" r="1.5"/>
<circle class="c11" cx="162.2" cy="185.0" r="1.5"/>
<circle class="c10" cx="212.1" cy="169.0" r="1.5"/>
<circle class="c8" cx="235.9" cy="164.9" r="1.5"/>
<circle class="c9" cx="162.0" cy="180.8" r="1.5"/>
<circle class="c9" cx="158.8" cy="180.7" r="1.5"/>
<circle class="c8" cx="257.8" cy="162.9" r="1.5"/>
<circle class="c10" cx="274.1" cy="156.8" r="1.5"/>
<circle class="c1" cx="257.7" cy="157.5" r="1.5"/>
<circle class="c8" cx="226.8" cy="162.7" r="1.5"/>
<circle class="c14" cx="197.4" cy="166.5" r="1.5"/>
<circle class="c10" cx="283.7" cy="155.2" r="1.5"/>
<circle class="c11" cx="199.8" cy="168.0" r="1.5"/>
<circle class="c9" cx="248.8" cy="159.2" r="1.5"/>
<circle class="c8" cx="281.5" cy="151.9" r="1.5"/>
<circle class="c9" cx="160.6" cy="183.1" r="1.5"/>
<circle class="c9" cx="215.0" cy="172.9" r="1.5"/>
<circle class="c9" cx="154.3" cy="183.3" r="1.5"/>
<circle class="c13" cx="277.3" cy="150.5" r="1.5"/>
<circle class="c9" cx="179.5" cy="176.1" r="1.5"/>
<circle class="c10" cx="164.6" cy="178.0" r="1.5"/>
<circle class="c8" cx="278.7" cy="157.6" r="1.5"/>
<circle class="c14" cx="241.5" cy="159.2" r="1.5"/>
<circle class="c11" cx="216.9" cy="165.6" r="1.5"/>
<circle class="c3" cx="186.3" cy="195.6" r="1.5"/>
<circle class="c9" cx="225.7" cy="164.3" r="1.5"/>
<circle class="c9" cx="160.8" cy="183.2" r="1.5"/>
<circle class="c11" cx="219.1" cy="166.8" r="1.5"/>
<circle class="c9" cx="215.1" cy="171.0" r="1.5"/>
<circle class="c10" cx="196.2" cy="175.0" r="1.5"/>
<circle class="c10" cx="231.8" cy="162.6" r="1.5"/>
<circle class="c10" cx="261.4" cy="160.0" r="1.5"/>
<circle class="c10" cx="269.7" cy="158.0" r="1.5"/>
<circle class="c13" cx="265.7" cy="155.8" r="1.5"/>
<circle class="c10" cx="151.6" cy="184.0" r="1.5"/>
<circle class="c10" cx="227.9" cy="164.9" r="1.5"/>
<circle class="c9" cx="177.2" cy="176.4" r="1.5"/>
<circle class="c8" cx="205.2" cy="171.0" r="1.5"/>
<circle class="c10" cx="246.7" cy="162.5" r="1.5"/>
<circle class="c9" cx="247.0" cy="165.7" r="1.5"/>
<circle class="c10" cx="213.3" cy="166.6" r="1.5"/>
<circle class="c9" cx="216.0" cy="170.4" r="1.5"/>
<circle class="c10" cx="288.3" cy="155.9" r="1.5"/>
<circle class="c8" cx="257.9" cy="161.7" r="1.5"/>
<circle class="c10" cx="239.4" cy="164.1" r="1.5"/>
<circle class="c10" cx="187.3" cy="173.6" r="1.5"/>
<circle class="c11" cx="221.7" cy="168.7" r="1.5"/>
<circle class="c10" cx="224.7" cy="165.1" r="1.5"/>
<circle class="c11" cx="264.7" cy="156.3" r="1.5"/>
<circle class="c11" cx="226.7" cy="163.7" r="1.5"/>
<circle class="c10" cx="266.4" cy="158.3" r="1.5"/>
<circle class="c9" cx="266.6" cy="156.3" r="1.5"/>
<circle class="c10" cx="222.5" cy="167.6" r="1.5"/>
<circle class="c11" cx="196.7" cy="171.9" r="1.5"/>
<circle class="c8" cx="225.7" cy="168.1" r="1.5"/>
<circle class="c9" cx="249.0" cy="162.6" r="1.5"/>
<circle class="c12" cx="157.6" cy="183.2" r="1.5"/>
<circle class="c10" cx="206.3" cy="171.6" r="1.5"/>
<circle class="c11" cx="151.4" cy="182.3" r="1.5"/>
<circle class="c8" cx="312.6" cy="150.8" r="1.5"/>
<circle class="c12" cx="246.6" cy="162.9" r="1.5"/>
<circle class="c11" cx="242.4" cy="160.6" r="1.5"/>
<circle class="c11" cx="240.6" cy="167.3" r="1.5"/>
<circle class="c10" cx="184.4" cy="178.2" r="1.5"/>
<circle class="c9" cx="222.1" cy="165.8" r="1.5"/>
<circle class="c10" cx="223.3" cy="161.7" r="1.5"/>
<circle class="c9" cx="275.0" cy="154.1" r="1.5"/>
<circle class="c12" cx="260.7" cy="155.2" r="1.5"/>
<circle class="c12" cx="271.1" cy="152.3" r="1.5"/>
<circle class="c10" cx="261.2" cy="152.9" r="1.5"/>
<circle class="c11" cx="232.2" cy="165.2" r="1.5"/>
<circle class="c12" cx="151.2" cy="186.3" r="1.5"/>
<circle class="c12" cx="236.0" cy="161.3" r="1.5"/>
<circle class="c7" cx="96.5" cy="201.5" r="1.5"/>
<circle class="c13" cx="267.3" cy="153.0" r="1.5"/>
<circle class="c11" cx="148.5" cy="186.2" r="1.5"/>
<circle class="c10" cx="233.4" cy="169.1" r="1.5"/>
<circle class="c9" cx="263.1" cy="159.8" r="1.5"/>
<circle class="c10" cx="204.9" cy="168.3" r="1.5"/>
<circle class="c11" cx="140.2" cy="187.4" r="1.5"/>
<circle class="c9" cx="201.1" cy="170.5" r="1.5"/>
<circle class="c9" cx="272.2" cy="157.6" r="1.5"/>
<circle class="c10" cx="205.2" cy="167.1" r="1.5"/>
<circle class="c9" cx="165.3" cy="179.7" r="1.5"/>
<circle class="c11" cx="279.0" cy="148.9" r="1.5"/>
<circle class="c10" cx="268.1" cy="160.0" r="1.5"/>
<circle class="c8" cx="195.6" cy="176.1" r="1.5"/>
<circle class="c12" cx="250.8" cy="155.6" r="1.5"/>
<circle class="c10" cx="182.6" cy="177.2" r="1.5"/>
<circle class="c10" cx="211.5" cy="170.6" r="1.5"/>
<circle class="c11" cx="204.2" cy="167.8" r="1.5"/>
<circle class="c10" cx="204.2" cy="170.1" r="1.5"/>
<circle class="c9" cx="179.1" cy="173.5" r="1.5"/>
<circle class="c10" cx="157.4" cy="180.1" r="1.5"/>
<circle class="c11" cx="216.8" cy="165.4" r="1.5"/>
<circle class="c9" cx="279.7" cy="152.3" r="1.5"/>
<circle class="c10" cx="221.6" cy="167.7" r="1.5"/>
<circle class="c9" cx="170.8" cy="181.1" r="1.5"/>
<circle class="c2" cx="196.5" cy="173.4" r="1.5"/>
<circle class="c10" cx="189.0" cy="174.9" r="1.5"/>
<circle class="c13" cx="249.8" cy="153.8" r="1.5"/>
<circle class="c10" cx="150.5" cy="183.6" r="1.5"/>
<circle class="c9" cx="202.4" cy="172.8" r="1.5"/>
<circle class="c10" cx="252.5" cy="161.2" r="1.5"/>
<circle class="c10" cx="216.2" cy="169.2" r="1.5"/>
<circle class="c2" cx="229.7" cy="164.5" r="1.5"/>
<circle class="c8" cx="263.2" cy="165.1" r="1.5"/>
<circle class="c7" cx="216.6" cy="168.5" r="1.5"/>
<circle class="c10" cx="257.6" cy="155.3" r="1.5"/>
<circle class="c11" cx="283.1" cy="152.4" r="1.5"/>
<circle class="c11" cx="206.5" cy="167.4" r="1.5"/>
<circle class="c9" cx="275.3" cy="155.1" r="1.5"/>
<circle class="c11" cx="181.8" cy="173.3" r="1.5"/>
<circle class="c9" cx="237.5" cy="167.8" r="1.5"/>
<circle class="c9" cx="162.2" cy="180.2" r="1.5"/>
<circle class="c11" cx="187.0" cy="180.9" r="1.5"/>
<circle class="c9" cx="247.7" cy="159.9" r="1.5"/>
<circle class="c11" cx="228.7" cy="160.9" r="1.5"/>
<circle class="c11" cx="199.8" cy="170.4" r="1.5"/>
<circle class="c9" cx="185.9" cy="175.3" r="1.5"/>
<circle class="c10" cx="264.3" cy="156.5" r="1.5"/>
<circle class="c10" cx="184.8" cy="176.7" r="1.5"/>
<circle class="c8" cx="260.4" cy="163.3" r="1.5"/>
<circle class="c11" cx="293.1" cy="146.8" r="1.5"/>
<circle class="c12" cx="191.8" cy="173.0" r="1.5"/>
<circle class="c8" cx="222.3" cy="168.6" r="1.5"/>
<circle class="c7" cx="266.2" cy="165.1" r="1.5"/>
<circle class="c14" cx="254.8" cy="152.5" r="1.5"/>
<circle class="c9" cx="139.0" cy="191.0" r="1.5"/>
<circle class="c10" cx="203.6" cy="170.8" r="1.5"/>
<circle class="c10" cx="185.8" cy="176.5" r="1.5"/>
<circle class="c9" cx="160.6" cy="187.8" r="1.5"/>
<circle class="c11" cx="180.2" cy="176.2" r="1.5"/>
<circle class="c10" cx="273.7" cy="157.5" r="1.5"/>
<circle class="c10" cx="221.5" cy="165.1" r="1.5"/>
<circle class="c10" cx="164.2" cy="180.6" r="1.5"/>
<circle class="c8" cx="237.3" cy="165.4" r="1.5"/>
<circle class="c11" cx="171.0" cy="181.6" r="1.5"/>
<circle class="c10" cx="252.7" cy="159.8" r="1.5"/>
<circle class="c9" cx="202.7" cy="171.2" r="1.5"/>
<circle class="c8" cx="273.4" cy="158.9" r="1.5"/>
<circle class="c14" cx="256.0" cy="157.7" r="1.5"/>
<circle class="c7" cx="202.2" cy="169.9" r="1.5"/>
<circle class="c11" cx="210.4" cy="168.0" r="1.5"/>
<circle class="c10" cx="180.3" cy="175.5" r="1.5"/>
<circle class="c6" cx="228.9" cy="172.9" r="1.5"/>
<circle class="c11" cx="161.3" cy="180.8" r="1.5"/>
<circle class="c10" cx="311.0" cy="149.3" r="1.5"/>
<circle class="c11" cx="209.0" cy="169.1" r="1.5"/>
<circle class="c1" cx="272.4" cy="154.0" r="1.5"/>
<circle class="c11" cx="260.5" cy="158.2" r="1.5"/>
<circle class="c10" cx="221.3" cy="167.2" r="1.5"/>
<circle class="c11" cx="166.3" cy="177.8" r="1.5"/>
<circle class="c10" cx="248.3" cy="158.7" r="1.5"/>
<circle class="c1" cx="204.8" cy="173.8" r="1.5"/>
<circle class="c11" cx="204.6" cy="170.1" r="1.5"/>
<circle class="c11" cx="168.9" cy="180.5" r="1.5"/>
<circle class="c10" cx="171.3" cy="176.9" r="1.5"/>
<circle class="c10" cx="241.5" cy="157.4" r="1.5"/>
<circle class="c11" cx="216.2" cy="169.2" r="1.5"/>
<circle class="c8" cx="187.8" cy="187.3" r="1.5"/>
<circle class="c11" cx="263.7" cy="154.3" r="1.5"/>
<circle class="c10" cx="168.5" cy="181.2" r="1.5"/>
<circle class="c11" cx="199.1" cy="171.8" r="1.5"/>
<circle class="c10" cx="148.9" cy="185.4" r="1.5"/>
<circle class="c9" cx="248.8" cy="156.8" r="1.5"/>
<circle class="c10" cx="148.6" cy="185.0" r="1.5"/>
<circle class="c9" cx="142.1" cy="188.0" r="1.5"/>
<circle class="c8" cx="216.6" cy="192.4" r="1.5"/>
<circle class="c10" cx="186.4" cy="172.8" r="1.5"/>
<circle class="c9" cx="219.5" cy="166.5" r="1.5"/>
<circle class="c11" cx="240.1" cy="162.6" r="1.5"/>
<circle class="c11" cx="234.6" cy="165.7" r="1.5"/>
<circle class="c9" cx="235.3" cy="164.0" r="1.5"/>
<circle class="c11" cx="274.5" cy="152.3" r="1.5"/>
<circle class="c11" cx="235.8" cy="162.2" r="1.5"/>
<circle class="c12" cx="187.4" cy="170.1" r="1.5"/>
<circle class="c8" cx="284.1" cy="155.8" r="1.5"/>
<circle class="c7" cx="269.4" cy="157.2" r="1.5"/>
<circle class="c10" cx="248.0" cy="164.0" r="1.5"/>
<circle class="c10" cx="191.0" cy="172.6" r="1.5"/>
<circle class="c12" cx="204.3" cy="170.6" r="1.5"/>
<circle class="c11" cx="171.0" cy="179.2" r="1.5"/>
<circle class="c8" cx="199.7" cy="175.6" r="1.5"/>
<circle class="c10" cx="190.0" cy="171.8" r="1.5"/>
<circle class="c7" cx="219.1" cy="169.1" r="1.5"/>
<circle class="c7" cx="238.6" cy="165.0" r="1.5"/>
<circle class="c11" cx="141.8" cy="187.1" r="1.5"/>
<circle class="c10" cx="138.6" cy="189.0" r="1.5"/>
<circle class="c11" cx="186.6" cy="172.3" r="1.5"/>
<circle class="c10" cx="145.1" cy="186.6" r="1.5"/>
<circle class="c8" cx="259.5" cy="156.1" r="1.5"/>
<circle class="c3" cx="233.9" cy="163.2" r="1.5"/>
<circle class="c8" cx="241.1" cy="163.2" r="1.5"/>
<circle class="c10" cx="227.5" cy="160.9" r="1.5"/>
<circle class="c11" cx="178.2" cy="179.5" r="1.5"/>
<circle class="c13" cx="202.3" cy="166.8" r="1.5"/>
<circle class="c10" cx="179.0" cy="175.8" r="1.5"/>
<circle class="c9" cx="180.6" cy="176.6" r="1.5"/>
<circle class="c10" cx="186.4" cy="175.9" r="1.5"/>
<circle class="c8" cx="208.5" cy="173.2" r="1.5"/>
<circle class="c10" cx="229.0" cy="164.1" r="1.5"/>
<circle class="c11" cx="210.2" cy="165.5" r="1.5"/>
<circle class="c10" cx="235.9" cy="162.8" r="1.5"/>
<circle class="c9" cx="241.4" cy="165.1" r="1.5"/>
<circle class="c11" cx="212.4" cy="166.6" r="1.5"/>
<circle class="c10" cx="243.0" cy="162.7" r="1.5"/>
<circle class="c8" cx="267.2" cy="158.5" r="1.5"/>
<circle class="c1" cx="196.1" cy="175.1" r="1.5"/>
<circle class="c11" cx="207.9" cy="172.4" r="1.5"/>
<circle class="c8" cx="126.0" cy="192.4" r="1.5"/>
<circle class="c10" cx="192.1" cy="172.0" r="1.5"/>
<circle class="c10" cx="240.9" cy="160.5" r="1.5"/>
<circle class="c10" cx="163.7" cy="180.4" r="1.5"/>
<circle class="c12" cx="210.5" cy="166.1" r="1.5"/>
<circle class="c11" cx="215.2" cy="169.7" r="1.5"/>
<circle class="c12" cx="263.4" cy="148.1" r="1.5"/>
<circle class="c11" cx="213.1" cy="164.4" r="1.5"/>
<circle class="c9" cx="210.9" cy="170.4" r="1.5"/>
<circle class="c9" cx="283.8" cy="155.0" r="1.5"/>
<circle class="c10" cx="247.9" cy="158.2" r="1.5"/>
<circle class="c10" cx="250.7" cy="158.2" r="1.5"/>
<circle class="c7" cx="220.0" cy="169.9" r="1.5"/>
<circle class="c11" cx="257.8" cy="154.2" r="1.5"/>
<circle class="c10" cx="159.3" cy="182.5" r="1.5"/>
<circle class="c9" cx="232.8" cy="164.2" r="1.5"/>
<circle class="c9" cx="185.8" cy="177.7" r="1.5"/>
<circle class="c10" cx="172.5" cy="175.8" r="1.5"/>
<circle class="c12" cx="147.2" cy="187.1" r="1.5"/>
<circle class="c9" cx="139.1" cy="188.2" r="1.5"/>
<circle class="c10" cx="239.7" cy="159.1" r="1.5"/>
<circle class="c9" cx="291.2" cy="152.7" r="1.5"/>
<circle class="c8" cx="243.0" cy="164.4" r="1.5"/>
<circle class="c9" cx="202.9" cy="171.8" r="1.5"/>
<circle class="c10" cx="229.8" cy="163.1" r="1.5"/>
<circle class="c12" cx="191.0" cy="169.6" r="1.5"/>
<circle class="c12" cx="150.9" cy="184.5" r="1.5"/>
<circle class="c9" cx="274.2" cy="155.8" r="1.5"/>
<circle class="c10" cx="241.2" cy="160.1" r="1.5"/>
<circle class="c11" cx="243.3" cy="162.9" r="1.5"/>
<circle class="c11" cx="211.7" cy="167.4" r="1.5"/>
<circle class="c10" cx="191.3" cy="176.7" r="1.5"/>
<circle class="c12" cx="236.6" cy="161.9" r="1.5"/>
<circle class="c10" cx="180.6" cy="179.0" r="1.5"/>
<circle class="c8" cx="180.3" cy="177.2" r="1.5"/>
<circle class="c10" cx="182.4" cy="174.1" r="1.5"/>
<circle class="c10" cx="249.0" cy="158.3" r="1.5"/>
<circle class="c9" cx="225.3" cy="158.5" r="1.5"/>
<circle class="c8" cx="209.2" cy="170.2" r="1.5"/>
<circle class="c10" cx="165.7" cy="182.0" r="1.5"/>
<circle class="c9" cx="142.9" cy="186.4" r="1.5"/>
<circle class="c6" cx="158.6" cy="191.4" r="1.5"/>
<circle class="c9" cx="225.8" cy="168.7" r="1.5"/>
<circle class="c12" cx="206.4" cy="169.2" r="1.5"/>
<circle class="c10" cx="224.9" cy="169.2" r="1.5"/>
<circle class="c10" cx="255.6" cy="157.2" r="1.5"/>
<circle class="c9" cx="166.7" cy="180.0" r="1.5"/>
<circle class="c10" cx="260.4" cy="160.1" r="1.5"/>
<circle class="c9" cx="182.3" cy="177.1" r="1.5"/>
<circle class="c10" cx="163.9" cy="180.7" r="1.5"/>
<circle class="c11" cx="271.9" cy="150.2" r="1.5"/>
<circle class="c11" cx="228.0" cy="165.1" r="1.5"/>
<circle class="c12" cx="272.0" cy="154.8" r="1.5"/>
<circle class="c11" cx="258.3" cy="152.2" r="1.5"/>
<circle class="c10" cx="196.3" cy="165.8" r="1.5"/>
<circle class="c12" cx="259.4" cy="156.3" r="1.5"/>
<circle class="c11" cx="207.7" cy="169.4" r="1.5"/>
<circle class="c10" cx="161.6" cy="183.5" r="1.5"/>
<circle class="c9" cx="229.3" cy="165.7" r="1.5"/>
<circle class="c9" cx="196.0" cy="171.2" r="1.5"/>
<circle class="c9" cx="40.0" cy="220.2" r="1.5"/>
<circle class="c9" cx="238.4" cy="165.8" r="1.5"/>
<circle class="c11" cx="166.0" cy="178.4" r="1.5"/>
<circle class="c10" cx="286.0" cy="146.9" r="1.5"/>
<circle class="c9" cx="235.9" cy="166.3" r="1.5"/>
<circle class="c10" cx="151.9" cy="183.7" r="1.5"/>
<circle class="c8" cx="238.0" cy="168.5" r="1.5"/>
<circle class="c9" cx="166.9" cy="183.1" r="1.5"/>
<circle class="c8" cx="284.3" cy="151.4" r="1.5"/>
<circle class="c8" cx="187.1" cy="174.4" r="1.5"/>
<circle class="c9" cx="262.0" cy="156.9" r="1.5"/>
<circle class="c10" cx="191.5" cy="172.6" r="1.5"/>
<circle class="c12" cx="132.1" cy="189.0" r="1.5"/>
<circle class="c6" cx="175.1" cy="178.9" r="1.5"/>
<circle class="c11" cx="233.4" cy="162.1" r="1.5"/>
<circle class="c12" cx="165.9" cy="179.9" r="1.5"/>
<circle class="c2" cx="212.5" cy="186.0" r="1.5"/>
<circle class="c7" cx="168.6" cy="192.2" r="1.5"/>
<circle class="c10" cx="229.4" cy="170.6" r="1.5"/>
<circle class="c11" cx="290.7" cy="151.6" r="1.5"/>
<circle class="c10" cx="192.8" cy="171.9" r="1.5"/>
<circle class="c10" cx="188.8" cy="169.1" r="1.5"/>
<circle class="c11" cx="167.3" cy="178.5" r="1.5"/>
<circle class="c8" cx="224.7" cy="165.7" r="1.5"/>
<circle class="c9" cx="268.2" cy="152.8" r="1.5"/>
<circle class="c12" cx="277.2" cy="146.4" r="1.5"/>
<circle class="c11" cx="249.3" cy="164.3" r="1.5"/>
<circle class="c9" cx="219.8" cy="167.3" r="1.5"/>
<circle class="c11" cx="200.1" cy="173.2" r="1.5"/>
<circle class="c9" cx="232.1" cy="166.3" r="1.5"/>
<circle class="c9" cx="260.2" cy="157.4" r="1.5"/>
<circle class="c9" cx="223.6" cy="167.9" r="1.5"/>
<circle class="c14" cx="272.2" cy="149.3" r="1.5"/>
<circle class="c12" cx="155.1" cy="184.5" r="1.5"/>
<circle class="c7" cx="242.2" cy="162.5" r="1.5"/>
<circle class="c11" cx="190.2" cy="175.7" r="1.5"/>
<circle class="c4" cx="219.6" cy="184.7" r="1.5"/>
<circle class="c10" cx="261.5" cy="155.8" r="1.5"/>
<circle class="c13" cx="230.8" cy="158.7" r="1.5"/>
<circle class="c12" cx="226.9" cy="163.4" r="1.5"/>
<circle class="c12" cx="207.5" cy="166.4" r="1.5"/>
<circle class="c10" cx="243.2" cy="158.9" r="1.5"/>
<circle class="c9" cx="172.3" cy="179.5" r="1.5"/>
<circle class="c10" cx="264.8" cy="152.7" r="1.5"/>
<circle class="c9" cx="175.0" cy="180.2" r="1.5"/>
<circle class="c10" cx="239.8" cy="163.4" r="1.5"/>
<circle class="c7" cx="187.8" cy="180.0" r="1.5"/>
<circle class="c12" cx="162.8" cy="182.7" r="1.5"/>
<circle class="c10" cx="193.4" cy="169.8" r="1.5"/>
<circle class="c11" cx="243.7" cy="160.1" r="1.5"/>
<circle class="c12" cx="247.8" cy="157.2" r="1.5"/>
<circle class="c11" cx="247.2" cy="158.5" r="1.5"/>
<circle class="c12" cx="230.9" cy="159.5" r="1.5"/>
<circle class="c12" cx="180.6" cy="174.4" r="1.5"/>
<circle class="c9" cx="183.1" cy="176.0" r="1.5"/>
<circle class="c10" cx="170.6" cy="181.6" r="1.5"/>
<circle class="c13" cx="176.7" cy="176.0" r="1.5"/>
<circle class="c11" cx="170.5" cy="178.8" r="1.5"/>
<circle class="c10" cx="215.0" cy="167.7" r="1.5"/>
<circle class="c10" cx="179.3" cy="179.1" r="1.5"/>
<circle class="c12" cx="204.5" cy="168.6" r="1.5"/>
<circle class="c8" cx="261.1" cy="162.0" r="1.5"/>
<circle class="c11" cx="182.7" cy="171.6" r="1.5"/>
<circle class="c8" cx="251.4" cy="160.6" r="1.5"/>
<circle class="c9" cx="230.8" cy="162.7" r="1.5"/>
<circle class="c14" cx="192.3" cy="168.0" r="1.5"/>
<circle class="c9" cx="269.1" cy="157.7" r="1.5"/>
<circle class="c11" cx="268.2" cy="156.3" r="1.5"/>
<circle class="c10" cx="193.9" cy="175.3" r="1.5"/>
<circle class="c10" cx="309.2" cy="148.1" r="1.5"/>
<circle class="c9" cx="263.6" cy="159.0" r="1.5"/>
<circle class="c8" cx="196.2" cy="175.8" r="1.5"/>
<circle class="c2" cx="265.2" cy="158.2" r="1.5"/>
<circle class="c2" cx="152.1" cy="186.1" r="1.5"/>
<circle class="c13" cx="228.5" cy="159.7" r="1.5"/>
<circle class="c9" cx="205.2" cy="170.1" r="1.5"/>
<circle class="c11" cx="181.9" cy="175.7" r="1.5"/>
<circle class="c10" cx="212.9" cy="169.0" r="1.5"/>
<circle class="c10" cx="248.4" cy="159.7" r="1.5"/>
<circle class="c9" cx="218.7" cy="165.1" r="1.5"/>
<circle class="c10" cx="147.5" cy="185.9" r="1.5"/>
<circle class="c10" cx="185.7" cy="174.7" r="1.5"/>
<circle class="c1" cx="237.6" cy="166.0" r="1.5"/>
<circle class="c10" cx="185.7" cy="174.2" r="1.5"/>
<circle class="c9" cx="218.0" cy="166.9" r="1.5"/>
<circle class="c10" cx="212.0" cy="169.7" r="1.5"/>
<circle class="c11" cx="264.7" cy="148.8" r="1.5"/>
<circle class="c11" cx="241.6" cy="165.2" r="1.5"/>
<circle class="c10" cx="275.8" cy="152.9" r="1.5"/>
<circle class="c14" cx="214.0" cy="165.4" r="1.5"/>
<circle class="c9" cx="227.0" cy="165.4" r="1.5"/>
<circle class="c7" cx="288.1" cy="156.0" r="1.5"/>
<circle class="c10" cx="200.2" cy="170.1" r="1.5"/>
<circle class="c11" cx="206.9" cy="168.6" r="1.5"/>
<circle class="c10" cx="263.6" cy="160.8" r="1.5"/>
<circle class="c6" cx="137.3" cy="191.0" r="1.5"/>
<circle class="c9" cx="232.1" cy="162.2" r="1.5"/>
<circle class="c7" cx="264.9" cy="162.3" r="1.5"/>
<circle class="c12" cx="147.8" cy="187.5" r="1.5"/>
<circle class="c8" cx="274.5" cy="158.1" r="1.5"/>
<circle class="c12" cx="226.9" cy="162.2" r="1.5"/>
<circle class="c11" cx="163.2" cy="184.6" r="1.5"/>
<circle class="c7" cx="154.6" cy="188.6" r="1.5"/>
<circle class="c11" cx="223.4" cy="165.0" r="1.5"/>
<circle class="c11" cx="246.8" cy="159.7" r="1.5"/>
<circle class="c8" cx="206.2" cy="170.3" r="1.5"/>
<circle class="c9" cx="248.1" cy="161.7" r="1.5"/>
<circle class="c10" cx="233.4" cy="163.1" r="1.5"/>
<circle class="c13" cx="233.3" cy="157.7" r="1.5"/>
<circle class="c8" cx="206.2" cy="175.6" r="1.5"/>
<circle class="c10" cx="163.3" cy="179.7" r="1.5"/>
<circle class="c8" cx="213.1" cy="170.6" r="1.5"/>
<circle class="c10" cx="166.3" cy="179.3" r="1.5"/>
<circle class="c12" cx="144.6" cy="184.5" r="1.5"/>
<circle class="c9" cx="197.9" cy="174.5" r="1.5"/>
<circle class="c9" cx="175.2" cy="177.7" r="1.5"/>
<circle class="c9" cx="175.8" cy="175.2" r="1.5"/>
<circle class="c9" cx="252.9" cy="158.2" r="1.5"/>
<circle class="c10" cx="231.5" cy="156.9" r="1.5"/>
<circle class="c9" cx="181.0" cy="178.6" r="1.5"/>
<circle class="c10" cx="188.8" cy="178.5" r="1.5"/>
<circle class="c9" cx="145.0" cy="185.2" r="1.5"/>
<circle class="c9" cx="173.4" cy="175.5" r="1.5"/>
<circle class="c10" cx="204.9" cy="169.4" r="1.5"/>
<circle class="c7" cx="150.9" cy="184.5" r="1.5"/>
<circle class="c9" cx="203.6" cy="167.9" r="1.5"/>
<circle class="c11" cx="205.3" cy="166.7" r="1.5"/>
<circle class="c9" cx="153.9" cy="184.7" r="1.5"/>
<circle class="c10" cx="181.3" cy="173.3" r="1.5"/>
<circle class="c11" cx="244.9" cy="160.4" r="1.5"/>
<circle class="c12" cx="245.7" cy="152.3" r="1.5"/>
<circle class="c10" cx="203.5" cy="169.1" r="1.5"/>
<circle class="c2" cx="249.2" cy="163.5" r="1.5"/>
<circle class="c11" cx="229.7" cy="164.2" r="1.5"/>
<circle class="c9" cx="249.8" cy="161.6" r="1.5"/>
<circle class="c11" cx="173.6" cy="181.5" r="1.5"/>
<circle class="c10" cx="234.0" cy="164.4" r="1.5"/>
<circle class="c10" cx="224.8" cy="162.4" r="1.5"/>
<circle class="c8" cx="184.4" cy="173.9" r="1.5"/>
<circle class="c10" cx="200.5" cy="174.7" r="1.5"/>
<circle class="c1" cx="241.9" cy="162.2" r="1.5"/>
<circle class="c12" cx="172.0" cy="176.4" r="1.5"/>
<circle class="c11" cx="228.7" cy="165.8" r="1.5"/>
<circle class="c11" cx="218.7" cy="163.5" r="1.5"/>
<circle class="c12" cx="220.9" cy="165.8" r="1.5"/>
<circle class="c7" cx="269.7" cy="158.1" r="1.5"/>
<circle class="c11" cx="206.7" cy="166.1" r="1.5"/>
<circle class="c8" cx="220.1" cy="169.3" r="1.5"/>
<circle class="c13" cx="235.2" cy="159.0" r="1.5"/>
<circle class="c10" cx="265.2" cy="155.2" r="1.5"/>
<circle class="c8" cx="257.8" cy="161.2" r="1.5"/>
<circle class="c8" cx="213.2" cy="170.2" r="1.5"/>
<circle class="c10" cx="227.1" cy="163.6" r="1.5"/>
<circle class="c11" cx="245.9" cy="156.6" r="1.5"/>
<circle class="c11" cx="268.7" cy="154.3" r="1.5"/>
<circle class="c11" cx="265.7" cy="151.8" r="1.5"/>
<circle class="c12" cx="244.9" cy="160.5" r="1.5"/>
<circle class="c4" cx="303.8" cy="158.0" r="1.5"/>
<circle class="c9" cx="225.0" cy="167.7" r="1.5"/>
<circle class="c9" cx="212.3" cy="165.9" r="1.5"/>
<circle class="c13" cx="239.7" cy="154.2" r="1.5"/>
<circle class="c11" cx="286.3" cy="147.1" r="1.5"/>
<circle class="c11" cx="199.9" cy="168.6" r="1.5"/>
<circle class="c10" cx="195.3" cy="176.2" r="1.5"/>
<circle class="c11" cx="207.7" cy="170.8" r="1.5"/>
<circle class="c7" cx="275.9" cy="158.6" r="1.5"/>
<circle class="c11" cx="196.0" cy="169.5" r="1.5"/>
<circle class="c12" cx="207.2" cy="168.9" r="1.5"/>
<circle class="c11" cx="172.9" cy="177.3" r="1.5"/>
<circle class="c10" cx="276.2" cy="158.7" r="1.5"/>
<circle class="c8" cx="233.0" cy="165.0" r="1.5"/>
<circle class="c14" cx="246.9" cy="154.3" r="1.5"/>
<circle class="c13" cx="209.7" cy="165.6" r="1.5"/>
<circle class="c12" cx="192.5" cy="171.1" r="1.5"/>
<circle class="c11" cx="172.2" cy="176.7" r="1.5"/>
<circle class="c10" cx="175.9" cy="178.5" r="1.5"/>
<circle class="c10" cx="274.0" cy="151.5" r="1.5"/>
<circle class="c8" cx="266.9" cy="171.1" r="1.5"/>
<circle class="c12" cx="162.7" cy="180.4" r="1.5"/>
<circle class="c10" cx="196.0" cy="171.2" r="1.5"/>
<circle class="c8" cx="192.3" cy="177.6" r="1.5"/>
<circle class="c11" cx="286.7" cy="149.6" r="1.5"/>
<circle class="c11" cx="180.4" cy="171.3" r="1.5"/>
<circle class="c12" cx="242.6" cy="154.6" r="1.5"/>
<circle class="c10" cx="209.2" cy="170.1" r="1.5"/>
<circle class="c11" cx="239.8" cy="163.7" r="1.5"/>
<circle class="c10" cx="242.2" cy="160.7" r="1.5"/>
<circle class="c11" cx="202.7" cy="168.0" r="1.5"/>
<circle class="c12" cx="228.9" cy="163.2" r="1.5"/>
<circle class="c12" cx="212.6" cy="168.6" r="1.5"/>
<circle class="c12" cx="260.1" cy="153.5" r="1.5"/>
<circle class="c11" cx="187.7" cy="171.9" r="1.5"/>
<circle class="c13" cx="160.7" cy="177.3" r="1.5"/>
<circle class="c11" cx="268.5" cy="153.3" r="1.5"/>
<circle class="c8" cx="168.7" cy="183.0" r="1.5"/>
<circle class="c12" cx="136.5" cy="189.2" r="1.5"/>
<circle class="c8" cx="149.0" cy="188.9" r="1.5"/>
<circle class="c8" cx="172.4" cy="181.6" r="1.5"/>
<circle class="c8" cx="236.0" cy="164.5" r="1.5"/>
<circle class="c10" cx="180.4" cy="174.9" r="1.5"/>
<circle class="c13" cx="176.2" cy="177.2" r="1.5"/>
<circle class="c9" cx="190.4" cy="172.5" r="1.5"/>
<circle class="c5" cx="217.3" cy="182.6" r="1.5"/>
<circle class="c11" cx="254.4" cy="159.3" r="1.5"/>
<circle class="c11" cx="259.0" cy="150.1" r="1.5"/>
<circle class="c5" cx="257.3" cy="161.3" r="1.5"/>
<circle class="c9" cx="227.9" cy="168.6" r="1.5"/>
<circle class="c12" cx="268.0" cy="151.2" r="1.5"/>
<circle class="c9" cx="247.6" cy="166.3" r="1.5"/>
<circle class="c12" cx="227.3" cy="161.9" r="1.5"/>
<circle class="c10" cx="194.0" cy="169.2" r="1.5"/>
<circle class="c10" cx="193.4" cy="172.3" r="1.5"/>
<circle class="c9" cx="262.9" cy="159.0" r="1.5"/>
<circle class="c11" cx="224.8" cy="161.9" r="1.5"/>
<circle class="c11" cx="255.9" cy="153.1" r="1.5"/>
<circle class="c10" cx="200.0" cy="169.5" r="1.5"/>
<circle class="c13" cx="284.7" cy="144.7" r="1.5"/>
<circle class="c9" cx="226.6" cy="165.1" r="1.5"/>
<circle class="c11" cx="189.5" cy="173.0" r="1.5"/>
<circle class="c11" cx="200.4" cy="171.0" r="1.5"/>
<circle class="c13" cx="261.1" cy="149.7" r="1.5"/>
<circle class="c9" cx="226.2" cy="164.3" r="1.5"/>
<circle class="c11" cx="199.7" cy="171.1" r="1.5"/>
<circle class="c14" cx="275.7" cy="148.0" r="1.5"/>
<circle class="c8" cx="203.2" cy="172.7" r="1.5"/>
<circle class="c9" cx="155.1" cy="184.1" r="1.5"/>
<circle class="c10" cx="226.7" cy="167.8" r="1.5"/>
<circle class="c12" cx="212.9" cy="167.6" r="1.5"/>
<circle class="c10" cx="139.9" cy="186.2" r="1.5"/>
<circle class="c9" cx="183.6" cy="178.4" r="1.5"/>
<circle class="c12" cx="201.5" cy="170.4" r="1.5"/>
<circle class="c10" cx="206.7" cy="170.4" r="1.5"/>
<circle class="c10" cx="157.2" cy="182.3" r="1.5"/>
<circle class="c12" cx="288.5" cy="146.8" r="1.5"/>
<circle class="c11" cx="183.6" cy="174.3" r="1.5"/>
<circle class="c10" cx="163.8" cy="183.3" r="1.5"/>
<circle class="c11" cx="239.1" cy="162.1" r="1.5"/>
<circle class="c10" cx="233.4" cy="163.2" r="1.5"/>
<circle class="c10" cx="214.2" cy="167.2" r="1.5"/>
<circle class="c12" cx="241.7" cy="159.8" r="1.5"/>
<circle class="c8" cx="191.3" cy="171.8" r="1.5"/>
<circle class="c8" cx="251.3" cy="163.0" r="1.5"/>
<circle class="c8" cx="194.8" cy="172.2" r="1.5"/>
<circle class="c10" cx="198.9" cy="170.9" r="1.5"/>
<circle class="c8" cx="145.4" cy="188.7" r="1.5"/>
<circle class="c11" cx="275.0" cy="153.9" r="1.5"/>
<circle class="c12" cx="252.1" cy="155.9" r="1.5"/>
<circle class="c9" cx="191.4" cy="174.9" r="1.5"/>
<circle class="c12" cx="227.0" cy="167.9" r="1.5"/>
<circle class="c10" cx="266.8" cy="148.3" r="1.5"/>
<circle class="c7" cx="270.1" cy="159.5" r="1.5"/>
<circle class="c11" cx="208.5" cy="168.6" r="1.5"/>
<circle class="c9" cx="206.7" cy="170.0" r="1.5"/>
<circle class="c12" cx="191.1" cy="169.4" r="1.5"/>
<circle class="c8" cx="167.0" cy="177.2" r="1.5"/>
<circle class="c11" cx="164.6" cy="178.1" r="1.5"/>
<circle class="c11" cx="250.9" cy="159.1" r="1.5"/>
<circle class="c15" cx="297.1" cy="143.0" r="1.5"/>
<circle class="c11" cx="197.6" cy="172.8" r="1.5"/>
<circle class="c12" cx="139.5" cy="187.5" r="1.5"/>
<circle class="c8" cx="239.4" cy="165.6" r="1.5"/>
<circle class="c7" cx="278.1" cy="164.2" r="1.5"/>
<circle class="c10" cx="281.8" cy="153.5" r="1.5"/>
<circle class="c10" cx="182.9" cy="174.2" r="1.5"/>
<circle class="c9" cx="171.5" cy="178.9" r="1.5"/>
<circle class="c9" cx="221.9" cy="168.4" r="1.5"/>
<circle class="c6" cx="235.1" cy="171.6" r="1.5"/>
<circle class="c11" cx="270.8" cy="152.0" r="1.5"/>
<circle class="c10" cx="169.5" cy="180.2" r="1.5"/>
<circle class="c12" cx="167.8" cy="177.8" r="1.5"/>
<circle class="c11" cx="171.6" cy="178.1" r="1.5"/>
<circle class="c13" cx="289.5" cy="148.8" r="1.5"/>
<circle class="c10" cx="244.4" cy="159.1" r="1.5"/>
<circle class="c2" cx="260.5" cy="158.7" r="1.5"/>
<circle class="c12" cx="196.9" cy="174.5" r="1.5"/>
<circle class="c11" cx="197.2" cy="172.0" r="1.5"/>
<circle class="c1" cx="165.2" cy="180.1" r="1.5"/>
<circle class="c10" cx="180.2" cy="175.5" r="1.5"/>
<circle class="c11" cx="229.6" cy="161.4" r="1.5"/>
<circle class="c9" cx="202.4" cy="171.6" r="1.5"/>
<circle class="c11" cx="245.5" cy="156.8" r="1.5"/>
<circle class="c8" cx="211.2" cy="170.7" r="1.5"/>
<circle class="c11" cx="240.6" cy="155.7" r="1.5"/>
<circle class="c9" cx="225.5" cy="165.7" r="1.5"/>
<circle class="c11" cx="177.6" cy="175.5" r="1.5"/>
<circle class="c10" cx="229.6" cy="160.7" r="1.5"/>
<circle class="c8" cx="252.3" cy="161.3" r="1.5"/>
<circle class="c10" cx="168.2" cy="178.2" r="1.5"/>
<circle class="c9" cx="269.3" cy="154.1" r="1.5"/>
<circle class="c12" cx="149.6" cy="184.8" r="1.5"/>
<circle class="c9" cx="291.6" cy="151.7" r="1.5"/>
<circle class="c11" cx="297.2" cy="146.9" r="1.5"/>
<circle class="c10" cx="208.8" cy="168.5" r="1.5"/>
<circle class="c10" cx="211.4" cy="167.8" r="1.5"/>
<circle class="c8" cx="206.0" cy="179.6" r="1.5"/>
<circle class="c10" cx="184.1" cy="175.2" r="1.5"/>
<circle class="c10" cx="276.9" cy="154.6" r="1.5"/>
<circle class="c10" cx="222.2" cy="167.5" r="1.5"/>
<circle class="c13" cx="312.7" cy="145.4" r="1.5"/>
<circle class="c13" cx="173.7" cy="175.2" r="1.5"/>
<circle class="c9" cx="176.4" cy="175.4" r="1.5"/>
<circle class="c10" cx="132.9" cy="189.1" r="1.5"/>
<circle class="c12" cx="158.3" cy="178.3" r="1.5"/>
<circle class="c13" cx="223.3" cy="166.2" r="1.5"/>
<circle class="c12" cx="205.9" cy="169.0" r="1.5"/>
<circle class="c11" cx="185.4" cy="173.7" r="1.5"/>
<circle class="c11" cx="263.9" cy="155.8" r="1.5"/>
<circle class="c11" cx="272.4" cy="152.0" r="1.5"/>
<circle class="c8" cx="257.3" cy="161.9" r="1.5"/>
<circle class="c9" cx="247.9" cy="162.3" r="1.5"/>
<circle class="c8" cx="194.8" cy="175.0" r="1.5"/>
<circle class="c11" cx="281.6" cy="152.5" r="1.5"/>
<circle class="c8" cx="263.9" cy="159.5" r="1.5"/>
<circle class="c11" cx="178.2" cy="177.9" r="1.5"/>
<circle class="c1" cx="222.4" cy="165.6" r="1.5"/>
<circle class="c9" cx="247.8" cy="163.0" r="1.5"/>
<circle class="c10" cx="168.4" cy="183.0" r="1.5"/>
<circle class="c9" cx="202.1" cy="171.5" r="1.5"/>
<circle class="c8" cx="172.4" cy="178.2" r="1.5"/>
<circle class="c12" cx="225.7" cy="165.4" r="1.5"/>
<circle class="c11" cx="205.7" cy="166.7" r="1.5"/>
<circle class="c11" cx="152.3" cy="184.8" r="1.5"/>
<circle class="c10" cx="152.4" cy="183.6" r="1.5"/>
<circle class="c11" cx="271.2" cy="154.1" r="1.5"/>
<circle class="c0" cx="243.6" cy="165.7" r="1.5"/>
<circle class="c10" cx="172.4" cy="177.5" r="1.5"/>
<circle class="c12" cx="221.0" cy="165.8" r="1.5"/>
<circle class="c9" cx="196.6" cy="172.0" r="1.5"/>
<circle class="c11" cx="178.2" cy="174.6" r="1.5"/>
<circle class="c9" cx="211.6" cy="166.7" r="1.5"/>
<circle class="c13" cx="182.3" cy="175.8" r="1.5"/>
<circle class="c11" cx="267.8" cy="158.5" r="1.5"/>
<circle class="c13" cx="281.0" cy="147.9" r="1.5"/>
<circle class="c13" cx="310.4" cy="143.6" r="1.5"/>
<circle class="c11" cx="269.3" cy="151.3" r="1.5"/>
<circle class="c2" cx="203.2" cy="174.3" r="1.5"/>
<circle class="c11" cx="155.8" cy="183.7" r="1.5"/>
<circle class="c9" cx="188.3" cy="170.8" r="1.5"/>
<circle class="c14" cx="242.6" cy="153.4" r="1.5"/>
<circle class="c11" cx="249.0" cy="153.9" r="1.5"/>
<circle class="c11" cx="172.8" cy="177.2" r="1.5"/>
<circle class="c13" cx="186.8" cy="173.5" r="1.5"/>
<circle class="c11" cx="255.9" cy="158.8" r="1.5"/>
<circle class="c8" cx="180.0" cy="179.8" r="1.5"/>
<circle class="c11" cx="269.6" cy="154.2" r="1.5"/>
<circle class="c12" cx="238.3" cy="161.8" r="1.5"/>
<circle class="c10" cx="279.6" cy="152.9" r="1.5"/>
<circle class="c12" cx="173.8" cy="176.9" r="1.5"/>
<circle class="c12" cx="140.7" cy="187.0" r="1.5"/>
<circle class="c9" cx="199.1" cy="174.5" r="1.5"/>
<circle class="c7" cx="249.4" cy="172.9" r="1.5"/>
<circle class="c9" cx="256.8" cy="160.4" r="1.5"/>
<circle class="c10" cx="235.0" cy="165.7" r="1.5"/>
<circle class="c12" cx="220.7" cy="160.8" r="1.5"/>
<circle class="c9" cx="204.8" cy="170.1" r="1.5"/>
<circle class="c9" cx="255.9" cy="159.9" r="1.5"/>
<circle class="c10" cx="281.9" cy="152.0" r="1.5"/>
<circle class="c11" cx="199.1" cy="168.6" r="1.5"/>
<circle class="c8" cx="256.0" cy="161.5" r="1.5"/>
<circle class="c7" cx="188.5" cy="118.8" r="1.5"/>
<circle class="c7" cx="217.7" cy="172.6" r="1.5"/>
<circle class="c10" cx="285.9" cy="154.6" r="1.5"/>
<circle class="c10" cx="264.8" cy="154.3" r="1.5"/>
<circle class="c10" cx="136.1" cy="188.6" r="1.5"/>
<circle class="c10" cx="207.2" cy="170.6" r="1.5"/>
<circle class="c11" cx="226.6" cy="162.8" r="1.5"/>
<circle class="c10" cx="224.1" cy="167.8" r="1.5"/>
<circle class="c12" cx="180.9" cy="175.3" r="1.5"/>
<circle class="c8" cx="214.7" cy="168.9" r="1.5"/>
<circle class="c7" cx="201.0" cy="173.9" r="1.5"/>
<circle class="c9" cx="224.3" cy="171.0" r="1.5"/>
<circle class="c10" cx="171.2" cy="178.6" r="1.5"/>
<circle class="c10" cx="248.1" cy="159.9" r="1.5"/>
<circle class="c8" cx="262.9" cy="163.6" r="1.5"/>
<circle class="c14" cx="269.8" cy="148.7" r="1.5"/>
<circle class="c8" cx="183.1" cy="178.5" r="1.5"/>
<circle class="c8" cx="249.9" cy="169.4" r="1.5"/>
<circle class="c10" cx="205.6" cy="168.0" r="1.5"/>
<circle class="c10" cx="197.3" cy="169.1" r="1.5"/>
<circle class="c12" cx="268.1" cy="154.4" r="1.5"/>
<circle class="c10" cx="166.9" cy="180.7" r="1.5"/>
<circle class="c13" cx="213.4" cy="165.0" r="1.5"/>
<circle class="c10" cx="174.1" cy="178.5" r="1.5"/>
<circle class="c10" cx="125.2" cy="193.2" r="1.5"/>
<circle class="c9" cx="272.9" cy="151.9" r="1.5"/>
<circle class="c9" cx="210.1" cy="168.6" r="1.5"/>
<circle class="c7" cx="225.3" cy="171.8" r="1.5"/>
<circle class="c10" cx="137.3" cy="189.8" r="1.5"/>
<circle class="c10" cx="160.1" cy="182.1" r="1.5"/>
<circle class="c7" cx="241.3" cy="163.0" r="1.5"/>
<circle class="c9" cx="134.3" cy="188.7" r="1.5"/>
<circle class="c8" cx="234.1" cy="167.6" r="1.5"/>
<circle class="c10" cx="243.8" cy="160.5" r="1.5"/>
<circle class="c9" cx="228.2" cy="164.1" r="1.5"/>
<circle class="c10" cx="265.6" cy="154.7" r="1.5"/>
<circle class="c11" cx="192.2" cy="168.9" r="1.5"/>
<circle class="c12" cx="155.4" cy="180.9" r="1.5"/>
<circle class="c10" cx="161.4" cy="183.7" r="1.5"/>
<circle class="c9" cx="271.1" cy="156.7" r="1.5"/>
<circle class="c14" cx="172.6" cy="175.2" r="1.5"/>
<circle class="c10" cx="254.2" cy="160.5" r="1.5"/>
<circle class="c11" cx="214.5" cy="169.1" r="1.5"/>
<circle class="c12" cx="245.9" cy="154.1" r="1.5"/>
<circle class="c10" cx="253.1" cy="161.7" r="1.5"/>
<circle class="c11" cx="235.4" cy="159.0" r="1.5"/>
<circle class="c10" cx="252.9" cy="158.1" r="1.5"/>
<circle class="c12" cx="195.9" cy="171.1" r="1.5"/>
<circle class="c9" cx="197.5" cy="173.4" r="1.5"/>
<circle class="c11" cx="218.9" cy="168.3" r="1.5"/>
<circle class="c11" cx="210.3" cy="168.9" r="1.5"/>
<circle class="c11" cx="213.8" cy="166.3" r="1.5"/>
<circle class="c12" cx="259.1" cy="154.0" r="1.5"/>
<circle class="c6" cx="172.6" cy="186.6" r="1.5"/>
<circle class="c11" cx="285.4" cy="147.7" r="1.5"/>
<circle class="c9" cx="202.4" cy="166.2" r="1.5"/>
<circle class="c10" cx="210.0" cy="172.3" r="1.5"/>
<circle class="c11" cx="247.9" cy="157.4" r="1.5"/>
<circle class="c7" cx="236.5" cy="169.2" r="1.5"/>
<circle class="c12" cx="239.7" cy="160.1" r="1.5"/>
<circle class="c8" cx="177.9" cy="181.4" r="1.5"/>
<circle class="c9" cx="234.6" cy="164.8" r="1.5"/>
<circle class="c10" cx="259.0" cy="158.1" r="1.5"/>
<circle class="c8" cx="184.5" cy="179.5" r="1.5"/>
<circle class="c11" cx="154.7" cy="180.6" r="1.5"/>
<circle class="c9" cx="273.4" cy="145.8" r="1.5"/>
<circle class="c1" cx="158.3" cy="184.5" r="1.5"/>
<circle class="c12" cx="212.9" cy="166.0" r="1.5"/>
<circle class="c3" cx="187.7" cy="177.0" r="1.5"/>
<circle class="c11" cx="275.8" cy="154.9" r="1.5"/>
<circle class="c12" cx="226.6" cy="161.2" r="1.5"/>
<circle class="c12" cx="265.7" cy="155.1" r="1.5"/>
<circle class="c9" cx="253.7" cy="161.8" r="1.5"/>
<circle class="c8" cx="215.0" cy="172.8" r="1.5"/>
<circle class="c8" cx="204.7" cy="173.8" r="1.5"/>
<circle class="c0" cx="182.0" cy="176.2" r="1.5"/>
<circle class="c10" cx="134.3" cy="189.7" r="1.5"/>
<circle class="c10" cx="217.7" cy="167.3" r="1.5"/>
<circle class="c9" cx="141.9" cy="186.9" r="1.5"/>
<circle class="c14" cx="228.1" cy="161.2" r="1.5"/>
<circle class="c10" cx="231.1" cy="160.6" r="1.5"/>
<circle class="c9" cx="250.4" cy="164.2" r="1.5"/>
<circle class="c9" cx="169.1" cy="177.9" r="1.5"/>
<circle class="c7" cx="249.0" cy="165.1" r="1.5"/>
<circle class="c9" cx="222.4" cy="165.5" r="1.5"/>
<circle class="c11" cx="212.4" cy="164.7" r="1.5"/>
<circle class="c13" cx="252.0" cy="154.8" r="1.5"/>
<circle class="c6" cx="199.1" cy="184.2" r="1.5"/>
<circle class="c11" cx="200.3" cy="169.4" r="1.5"/>
<circle class="c12" cx="234.2" cy="159.4" r="1.5"/>
<circle class="c8" cx="110.0" cy="198.0" r="1.5"/>
<circle class="c12" cx="210.2" cy="170.3" r="1.5"/>
<circle class="c13" cx="227.7" cy="163.6" r="1.5"/>
<circle class="c11" cx="156.3" cy="181.6" r="1.5"/>
<circle class="c8" cx="198.5" cy="173.2" r="1.5"/>
<circle class="c10" cx="196.6" cy="171.9" r="1.5"/>
<circle class="c12" cx="243.2" cy="157.8" r="1.5"/>
<circle class="c11" cx="264.5" cy="153.8" r="1.5"/>
<circle class="c1" cx="217.5" cy="168.4" r="1.5"/>
<circle class="c8" cx="253.4" cy="166.7" r="1.5"/>
<circle class="c10" cx="199.7" cy="172.1" r="1.5"/>
<circle class="c9" cx="235.2" cy="167.8" r="1.5"/>
<circle class="c10" cx="198.5" cy="171.5" r="1.5"/>
<circle class="c13" cx="254.4" cy="154.9" r="1.5"/>
<circle class="c10" cx="188.8" cy="177.0" r="1.5"/>
<circle class="c12" cx="186.5" cy="174.8" r="1.5"/>
<circle class="c12" cx="156.5" cy="184.2" r="1.5"/>
<circle class="c13" cx="170.3" cy="180.4" r="1.5"/>
<circle class="c9" cx="293.8" cy="149.0" r="1.5"/>
<circle class="c13" cx="268.8" cy="150.5" r="1.5"/>
<circle class="c11" cx="219.8" cy="164.0" r="1.5"/>
<circle class="c10" cx="244.3" cy="158.0" r="1.5"/>
<circle class="c10" cx="261.5" cy="154.3" r="1.5"/>
<circle class="c13" cx="164.7" cy="180.2" r="1.5"/>
<circle class="c12" cx="234.2" cy="161.8" r="1.5"/>
<circle class="c12" cx="243.0" cy="158.5" r="1.5"/>
<circle class="c11" cx="197.0" cy="166.8" r="1.5"/>
<circle class="c9" cx="202.7" cy="173.3" r="1.5"/>
<circle class="c13" cx="203.1" cy="171.2" r="1.5"/>
<circle class="c12" cx="212.0" cy="168.8" r="1.5"/>
<circle class="c9" cx="232.4" cy="165.7" r="1.5"/>
<circle class="c10" cx="224.3" cy="167.0" r="1.5"/>
<circle class="c13" cx="208.3" cy="164.0" r="1.5"/>
<circle class="c1" cx="259.5" cy="158.0" r="1.5"/>
<circle class="c8" cx="263.9" cy="163.8" r="1.5"/>
<circle class="c7" cx="268.0" cy="158.6" r="1.5"/>
<circle class="c8" cx="221.9" cy="163.6" r="1.5"/>
<circle class="c11" cx="248.1" cy="159.1" r="1.5"/>
<circle class="c9" cx="204.8" cy="172.2" r="1.5"/>
<circle class="c10" cx="218.1" cy="167.7" r="1.5"/>
<circle class="c11" cx="232.7" cy="163.8" r="1.5"/>
<circle class="c6" cx="194.8" cy="176.3" r="1.5"/>
<circle class="c13" cx="244.4" cy="157.1" r="1.5"/>
<circle class="c11" cx="208.7" cy="170.5" r="1.5"/>
<circle class="c9" cx="242.7" cy="161.8" r="1.5"/>
<circle class="c10" cx="208.3" cy="168.4" r="1.5"/>
</g>
<g clip-path="url(#p2)">
<circle class="c15" cx="181.8" cy="264.5" r="1.5"/>
<circle class="c14" cx="221.4" cy="249.4" r="1.5"/>
<circle class="c15" cx="220.7" cy="248.9" r="1.5"/>
<circle class="c15" cx="180.0" cy="265.2" r="1.5"/>
<circle class="c14" cx="194.5" cy="259.4" r="1.5"/>
<circle class="c15" cx="184.1" cy="263.0" r="1.5"/>
<circle class="c14" cx="207.2" cy="254.1" r="1.5"/>
<circle class="c15" cx="179.5" cy="265.0" r="1.5"/>
<circle class="c15" cx="195.5" cy="259.1" r="1.5"/>
<circle class="c15" cx="186.0" cy="260.6" r="1.5"/>
<circle class="c15" cx="213.1" cy="251.6" r="1.5"/>
<circle class="c14" cx="216.5" cy="250.5" r="1.5"/>
<circle class="c15" cx="185.2" cy="261.5" r="1.5"/>
<circle class="c15" cx="195.8" cy="258.8" r="1.5"/>
<circle class="c15" cx="210.6" cy="251.2" r="1.5"/>
<circle class="c15" cx="197.1" cy="257.3" r="1.5"/>
<circle class="c9" cx="236.2" cy="243.6" r="1.5"/>
<circle class="c15" cx="221.3" cy="250.6" r="1.5"/>
<circle class="c15" cx="211.6" cy="253.3" r="1.5"/>
<circle class="c15" cx="212.7" cy="253.2" r="1.5"/>
<circle class="c15" cx="169.3" cy="267.9" r="1.5"/>
<circle class="c15" cx="185.6" cy="262.5" r="1.5"/>
<circle class="c15" cx="209.5" cy="255.9" r="1.5"/>
<circle class="c14" cx="217.9" cy="249.5" r="1.5"/>
<circle class="c12" cx="230.6" cy="249.6" r="1.5"/>
<circle class="c15" cx="206.7" cy="255.4" r="1.5"/>
<circle class="c13" cx="228.0" cy="249.8" r="1.5"/>
<circle class="c15" cx="212.1" cy="251.6" r="1.5"/>
<circle class="c15" cx="200.4" cy="257.6" r="1.5"/>
<circle class="c13" cx="232.1" cy="248.8" r="1.5"/>
<circle class="c15" cx="203.1" cy="256.0" r="1.5"/>
<circle class="c15" cx="214.9" cy="250.9" r="1.5"/>
<circle class="c14" cx="226.1" cy="250.8" r="1.5"/>
<circle class="c15" cx="198.9" cy="257.5" r="1.5"/>
<circle class="c15" cx="180.1" cy="264.7" r="1.5"/>
<circle class="c10" cx="234.8" cy="252.4" r="1.5"/>
<circle class="c15" cx="213.7" cy="251.4" r="1.5"/>
<circle class="c15" cx="219.7" cy="251.3" r="1.5"/>
<circle class="c15" cx="207.2" cy="253.5" r="1.5"/>
<circle class="c14" cx="223.3" cy="247.6" r="1.5"/>
<circle class="c12" cx="230.3" cy="246.9" r="1.5"/>
<circle class="c15" cx="167.1" cy="270.0" r="1.5"/>
<circle class="c14" cx="211.9" cy="251.5" r="1.5"/>
<circle class="c10" cx="230.1" cy="247.8" r="1.5"/>
<circle class="c15" cx="169.0" cy="267.2" r="1.5"/>
<circle class="c15" cx="206.1" cy="254.8" r="1.5"/>
<circle class="c15" cx="195.5" cy="259.6" r="1.5"/>
<circle class="c15" cx="177.1" cy="264.4" r="1.5"/>
<circle class="c15" cx="214.5" cy="251.0" r="1.5"/>
<circle class="c12" cx="228.3" cy="246.5" r="1.5"/>
<circle class="c12" cx="228.7" cy="244.3" r="1.5"/>
<circle class="c15" cx="215.7" cy="251.2" r="1.5"/>
<circle class="c15" cx="213.3" cy="253.0" r="1.5"/>
<circle class="c15" cx="218.3" cy="249.8" r="1.5"/>
<circle class="c15" cx="207.1" cy="254.3" r="1.5"/>
<circle class="c15" cx="210.9" cy="251.6" r="1.5"/>
<circle class="c15" cx="217.2" cy="250.7" r="1.5"/>
<circle class="c15" cx="218.4" cy="250.3" r="1.5"/>
<circle class="c15" cx="204.4" cy="254.7" r="1.5"/>
<circle class="c15" cx="200.4" cy="256.1" r="1.5"/>
<circle class="c14" cx="225.5" cy="249.1" r="1.5"/>
<circle class="c15" cx="193.8" cy="259.5" r="1.5"/>
<circle class="c15" cx="218.5" cy="248.1" r="1.5"/>
<circle class="c15" cx="208.6" cy="255.0" r="1.5"/>
<circle class="c10" cx="176.2" cy="298.0" r="1.5"/>
<circle class="c15" cx="212.2" cy="251.2" r="1.5"/>
<circle class="c9" cx="262.7" cy="238.2" r="1.5"/>
<circle class="c15" cx="198.5" cy="258.1" r="1.5"/>
<circle class="c15" cx="203.7" cy="253.8" r="1.5"/>
<circle class="c14" cx="192.6" cy="260.5" r="1.5"/>
<circle class="c15" cx="213.9" cy="251.4" r="1.5"/>
<circle class="c14" cx="243.7" cy="247.7" r="1.5"/>
<circle class="c15" cx="210.4" cy="253.1" r="1.5"/>
<circle class="c12" cx="75.4" cy="315.6" r="1.5"/>
<circle class="c15" cx="191.8" cy="259.9" r="1.5"/>
<circle class="c15" cx="197.5" cy="256.8" r="1.5"/>
<circle class="c14" cx="191.8" cy="259.8" r="1.5"/>
<circle class="c15" cx="206.7" cy="254.9" r="1.5"/>
<circle class="c12" cx="229.7" cy="243.3" r="1.5"/>
<circle class="c15" cx="212.9" cy="251.0" r="1.5"/>
<circle class="c11" cx="254.6" cy="234.8" r="1.5"/>
<circle class="c15" cx="208.9" cy="252.6" r="1.5"/>
<circle class="c9" cx="233.1" cy="250.9" r="1.5"/>
<circle class="c15" cx="189.7" cy="261.6" r="1.5"/>
<circle class="c13" cx="131.5" cy="287.2" r="1.5"/>
<circle class="c15" cx="165.0" cy="270.1" r="1.5"/>
<circle class="c15" cx="201.7" cy="255.2" r="1.5"/>
<circle class="c15" cx="217.2" cy="253.2" r="1.5"/>
<circle class="c15" cx="204.8" cy="255.5" r="1.5"/>
<circle class="c13" cx="223.8" cy="249.6" r="1.5"/>
<circle class="c15" cx="223.9" cy="251.0" r="1.5"/>
<circle class="c15" cx="193.5" cy="259.4" r="1.5"/>
<circle class="c15" cx="206.0" cy="254.8" r="1.5"/>
<circle class="c15" cx="190.8" cy="259.8" r="1.5"/>
<circle class="c11" cx="224.2" cy="248.9" r="1.5"/>
<circle class="c15" cx="177.5" cy="266.6" r="1.5"/>
<circle class="c15" cx="215.1" cy="251.1" r="1.5"/>
<circle class="c15" cx="208.9" cy="253.7" r="1.5"/>
<circle class="c14" cx="177.5" cy="265.9" r="1.5"/>
<circle class="c14" cx="228.7" cy="252.5" r="1.5"/>
<circle class="c14" cx="212.3" cy="251.3" r="1.5"/>
<circle class="c15" cx="202.8" cy="255.9" r="1.5"/>
<circle class="c14" cx="234.4" cy="248.0" r="1.5"/>
<circle class="c15" cx="200.4" cy="256.3" r="1.5"/>
<circle class="c15" cx="230.6" cy="252.7" r="1.5"/>
<circle class="c13" cx="231.8" cy="246.8" r="1.5"/>
<circle class="c15" cx="217.1" cy="249.6" r="1.5"/>
<circle class="c15" cx="218.5" cy="248.9" r="1.5"/>
<circle class="c13" cx="226.8" cy="246.3" r="1.5"/>
<circle class="c15" cx="220.5" cy="251.1" r="1.5"/>
<circle class="c15" cx="210.0" cy="253.3" r="1.5"/>
<circle class="c15" cx="213.7" cy="251.9" r="1.5"/>
<circle class="c15" cx="226.5" cy="248.4" r="1.5"/>
<circle class="c15" cx="172.7" cy="266.3" r="1.5"/>
<circle class="c15" cx="190.3" cy="262.1" r="1.5"/>
<circle class="c13" cx="152.5" cy="277.4" r="1.5"/>
<circle class="c15" cx="210.6" cy="253.2" r="1.5"/>
<circle class="c15" cx="160.6" cy="274.4" r="1.5"/>
<circle class="c15" cx="208.5" cy="253.4" r="1.5"/>
<circle class="c15" cx="219.2" cy="250.9" r="1.5"/>
<circle class="c15" cx="202.2" cy="255.6" r="1.5"/>
<circle class="c15" cx="218.2" cy="249.4" r="1.5"/>
<circle class="c11" cx="228.8" cy="246.5" r="1.5"/>
<circle class="c15" cx="204.7" cy="255.1" r="1.5"/>
<circle class="c15" cx="200.2" cy="257.0" r="1.5"/>
<circle class="c15" cx="198.5" cy="256.8" r="1.5"/>
<circle class="c15" cx="218.5" cy="250.4" r="1.5"/>
<circle class="c15" cx="184.3" cy="262.8" r="1.5"/>
<circle class="c10" cx="244.5" cy="262.7" r="1.5"/>
<circle class="c14" cx="201.3" cy="257.2" r="1.5"/>
<circle class="c15" cx="203.0" cy="255.0" r="1.5"/>
<circle class="c15" cx="198.0" cy="258.0" r="1.5"/>
<circle class="c14" cx="219.2" cy="250.2" r="1.5"/>
<circle class="c10" cx="249.6" cy="259.0" r="1.5"/>
<circle class="c15" cx="194.5" cy="258.4" r="1.5"/>
<circle class="c14" cx="218.9" cy="251.0" r="1.5"/>
<circle class="c14" cx="218.3" cy="251.2" r="1.5"/>
<circle class="c15" cx="189.9" cy="260.1" r="1.5"/>
<circle class="c15" cx="211.6" cy="251.3" r="1.5"/>
<circle class="c15" cx="171.5" cy="267.7" r="1.5"/>
<circle class="c15" cx="199.7" cy="257.2" r="1.5"/>
<circle class="c14" cx="169.1" cy="268.5" r="1.5"/>
<circle class="c15" cx="216.0" cy="249.4" r="1.5"/>
<circle class="c15" cx="190.6" cy="260.0" r="1.5"/>
<circle class="c14" cx="221.4" cy="252.6" r="1.5"/>
<circle class="c15" cx="224.9" cy="249.7" r="1.5"/>
<circle class="c15" cx="198.9" cy="256.9" r="1.5"/>
<circle class="c15" cx="179.0" cy="264.2" r="1.5"/>
<circle class="c15" cx="223.0" cy="248.3" r="1.5"/>
<circle class="c15" cx="211.7" cy="251.4" r="1.5"/>
<circle class="c15" cx="189.0" cy="262.8" r="1.5"/>
<circle class="c10" cx="262.2" cy="251.7" r="1.5"/>
<circle class="c15" cx="207.9" cy="253.1" r="1.5"/>
<circle class="c14" cx="211.3" cy="252.0" r="1.5"/>
<circle class="c15" cx="194.7" cy="259.2" r="1.5"/>
<circle class="c14" cx="215.0" cy="252.6" r="1.5"/>
<circle class="c15" cx="196.7" cy="258.4" r="1.5"/>
<circle class="c13" cx="229.6" cy="246.6" r="1.5"/>
<circle class="c15" cx="187.8" cy="261.1" r="1.5"/>
<circle class="c15" cx="163.1" cy="271.7" r="1.5"/>
<circle class="c8" cx="255.9" cy="256.8" r="1.5"/>
<circle class="c14" cx="239.4" cy="254.6" r="1.5"/>
<circle class="c15" cx="182.4" cy="263.1" r="1.5"/>
<circle class="c15" cx="214.3" cy="252.5" r="1.5"/>
<circle class="c15" cx="199.6" cy="257.0" r="1.5"/>
<circle class="c15" cx="215.8" cy="251.5" r="1.5"/>
<circle class="c10" cx="240.7" cy="250.9" r="1.5"/>
<circle class="c15" cx="207.9" cy="253.7" r="1.5"/>
<circle class="c10" cx="233.8" cy="244.1" r="1.5"/>
<circle class="c15" cx="219.8" cy="248.4" r="1.5"/>
<circle class="c15" cx="169.2" cy="269.5" r="1.5"/>
<circle class="c15" cx="191.2" cy="259.3" r="1.5"/>
<circle class="c15" cx="213.3" cy="251.9" r="1.5"/>
<circle class="c15" cx="191.3" cy="261.4" r="1.5"/>
<circle class="c15" cx="202.6" cy="255.4" r="1.5"/>
<circle class="c7" cx="96.5" cy="307.1" r="1.5"/>
<circle class="c12" cx="236.5" cy="244.9" r="1.5"/>
<circle class="c15" cx="213.6" cy="251.2" r="1.5"/>
<circle class="c13" cx="226.6" cy="249.6" r="1.5"/>
<circle class="c15" cx="214.2" cy="251.5" r="1.5"/>
<circle class="c15" cx="201.9" cy="256.8" r="1.5"/>
<circle class="c14" cx="204.3" cy="254.0" r="1.5"/>
<circle class="c15" cx="218.0" cy="250.4" r="1.5"/>
<circle class="c15" cx="222.6" cy="250.0" r="1.5"/>
<circle class="c15" cx="196.3" cy="258.2" r="1.5"/>
<circle class="c15" cx="169.6" cy="268.0" r="1.5"/>
<circle class="c15" cx="203.1" cy="256.4" r="1.5"/>
<circle class="c15" cx="195.2" cy="259.6" r="1.5"/>
<circle class="c12" cx="129.5" cy="288.0" r="1.5"/>
<circle class="c15" cx="214.8" cy="251.5" r="1.5"/>
<circle class="c15" cx="217.0" cy="250.1" r="1.5"/>
<circle class="c15" cx="192.5" cy="259.9" r="1.5"/>
<circle class="c15" cx="199.6" cy="257.8" r="1.5"/>
<circle class="c15" cx="203.3" cy="255.7" r="1.5"/>
<circle class="c12" cx="227.6" cy="248.1" r="1.5"/>
<circle class="c15" cx="205.4" cy="255.5" r="1.5"/>
<circle class="c15" cx="176.2" cy="267.7" r="1.5"/>
<circle class="c15" cx="204.4" cy="256.5" r="1.5"/>
<circle class="c15" cx="210.3" cy="251.4" r="1.5"/>
<circle class="c15" cx="205.1" cy="254.5" r="1.5"/>
<circle class="c13" cx="88.0" cy="309.3" r="1.5"/>
<circle class="c14" cx="227.9" cy="247.2" r="1.5"/>
<circle class="c15" cx="165.5" cy="271.1" r="1.5"/>
<circle class="c9" cx="247.3" cy="246.6" r="1.5"/>
<circle class="c15" cx="226.6" cy="251.6" r="1.5"/>
<circle class="c13" cx="221.9" cy="247.5" r="1.5"/>
<circle class="c10" cx="240.5" cy="243.8" r="1.5"/>
<circle class="c13" cx="225.8" cy="250.4" r="1.5"/>
<circle class="c15" cx="185.0" cy="260.2" r="1.5"/>
<circle class="c13" cx="155.0" cy="276.2" r="1.5"/>
<circle class="c15" cx="221.5" cy="249.2" r="1.5"/>
<circle class="c15" cx="183.7" cy="262.8" r="1.5"/>
<circle class="c15" cx="209.8" cy="252.9" r="1.5"/>
<circle class="c15" cx="211.9" cy="252.5" r="1.5"/>
<circle class="c15" cx="224.4" cy="249.0" r="1.5"/>
<circle class="c15" cx="197.7" cy="257.8" r="1.5"/>
<circle class="c13" cx="224.7" cy="249.2" r="1.5"/>
<circle class="c15" cx="211.9" cy="251.9" r="1.5"/>
<circle class="c14" cx="214.5" cy="252.2" r="1.5"/>
<circle class="c15" cx="219.5" cy="249.6" r="1.5"/>
<circle class="c15" cx="207.8" cy="255.6" r="1.5"/>
<circle class="c15" cx="198.3" cy="259.1" r="1.5"/>
<circle class="c10" cx="250.0" cy="241.0" r="1.5"/>
<circle class="c15" cx="203.1" cy="257.5" r="1.5"/>
<circle class="c15" cx="212.7" cy="250.3" r="1.5"/>
<circle class="c15" cx="216.5" cy="250.9" r="1.5"/>
<circle class="c15" cx="214.9" cy="252.0" r="1.5"/>
<circle class="c15" cx="214.1" cy="251.0" r="1.5"/>
<circle class="c13" cx="224.3" cy="250.5" r="1.5"/>
<circle class="c13" cx="224.6" cy="246.9" r="1.5"/>
<circle class="c15" cx="210.7" cy="253.3" r="1.5"/>
<circle class="c11" cx="244.5" cy="254.2" r="1.5"/>
<circle class="c11" cx="234.0" cy="248.7" r="1.5"/>
<circle class="c15" cx="221.0" cy="249.3" r="1.5"/>
<circle class="c15" cx="180.7" cy="263.4" r="1.5"/>
<circle class="c15" cx="197.8" cy="258.6" r="1.5"/>
<circle class="c15" cx="175.4" cy="266.1" r="1.5"/>
<circle class="c12" cx="225.5" cy="248.2" r="1.5"/>
<circle class="c15" cx="206.2" cy="253.1" r="1.5"/>
<circle class="c15" cx="189.4" cy="259.0" r="1.5"/>
<circle class="c11" cx="236.7" cy="259.7" r="1.5"/>
<circle class="c15" cx="215.4" cy="251.9" r="1.5"/>
<circle class="c15" cx="193.9" cy="260.0" r="1.5"/>
<circle class="c11" cx="228.5" cy="248.3" r="1.5"/>
<circle class="c15" cx="204.9" cy="253.5" r="1.5"/>
<circle class="c14" cx="225.6" cy="249.9" r="1.5"/>
<circle class="c15" cx="171.3" cy="268.5" r="1.5"/>
<circle class="c15" cx="223.3" cy="247.1" r="1.5"/>
<circle class="c13" cx="226.5" cy="245.0" r="1.5"/>
<circle class="c15" cx="210.0" cy="254.8" r="1.5"/>
<circle class="c15" cx="206.4" cy="254.3" r="1.5"/>
<circle class="c15" cx="191.3" cy="259.6" r="1.5"/>
<circle class="c15" cx="183.5" cy="264.2" r="1.5"/>
<circle class="c15" cx="203.7" cy="254.8" r="1.5"/>
<circle class="c15" cx="193.6" cy="258.5" r="1.5"/>
<circle class="c13" cx="231.6" cy="251.4" r="1.5"/>
<circle class="c15" cx="215.4" cy="249.2" r="1.5"/>
<circle class="c15" cx="217.9" cy="250.1" r="1.5"/>
<circle class="c15" cx="208.9" cy="253.8" r="1.5"/>
<circle class="c15" cx="218.1" cy="250.2" r="1.5"/>
<circle class="c12" cx="242.1" cy="244.1" r="1.5"/>
<circle class="c15" cx="221.0" cy="247.0" r="1.5"/>
<circle class="c15" cx="206.7" cy="252.2" r="1.5"/>
<circle class="c12" cx="227.5" cy="246.3" r="1.5"/>
<circle class="c15" cx="193.3" cy="257.5" r="1.5"/>
<circle class="c15" cx="196.8" cy="259.0" r="1.5"/>
<circle class="c15" cx="178.8" cy="264.9" r="1.5"/>
<circle class="c15" cx="201.0" cy="255.6" r="1.5"/>
<circle class="c15" cx="194.6" cy="259.7" r="1.5"/>
<circle class="c11" cx="228.1" cy="245.2" r="1.5"/>
<circle class="c15" cx="197.4" cy="258.1" r="1.5"/>
<circle class="c15" cx="217.4" cy="249.2" r="1.5"/>
<circle class="c15" cx="220.6" cy="247.8" r="1.5"/>
<circle class="c12" cx="99.0" cy="302.6" r="1.5"/>
<circle class="c15" cx="222.9" cy="251.7" r="1.5"/>
<circle class="c14" cx="228.0" cy="248.8" r="1.5"/>
<circle class="c12" cx="141.5" cy="282.8" r="1.5"/>
<circle class="c15" cx="188.5" cy="262.2" r="1.5"/>
<circle class="c13" cx="225.0" cy="247.3" r="1.5"/>
<circle class="c15" cx="215.2" cy="252.0" r="1.5"/>
<circle class="c13" cx="227.4" cy="245.7" r="1.5"/>
<circle class="c8" cx="249.6" cy="261.8" r="1.5"/>
<circle class="c14" cx="162.7" cy="272.6" r="1.5"/>
<circle class="c15" cx="178.5" cy="265.7" r="1.5"/>
<circle class="c15" cx="209.7" cy="252.8" r="1.5"/>
<circle class="c15" cx="200.4" cy="257.5" r="1.5"/>
<circle class="c15" cx="193.7" cy="258.1" r="1.5"/>
<circle class="c15" cx="186.1" cy="259.9" r="1.5"/>
<circle class="c15" cx="199.0" cy="257.5" r="1.5"/>
<circle class="c11" cx="238.4" cy="245.9" r="1.5"/>
<circle class="c12" cx="228.6" cy="249.9" r="1.5"/>
<circle class="c14" cx="226.9" cy="244.8" r="1.5"/>
<circle class="c15" cx="203.3" cy="255.4" r="1.5"/>
<circle class="c15" cx="183.9" cy="263.3" r="1.5"/>
<circle class="c15" cx="212.0" cy="253.7" r="1.5"/>
<circle class="c6" cx="151.9" cy="301.9" r="1.5"/>
<circle class="c15" cx="197.5" cy="258.2" r="1.5"/>
<circle class="c15" cx="193.3" cy="259.0" r="1.5"/>
<circle class="c15" cx="171.3" cy="268.7" r="1.5"/>
<circle class="c12" cx="133.5" cy="286.6" r="1.5"/>
<circle class="c13" cx="224.7" cy="250.4" r="1.5"/>
<circle class="c13" cx="228.7" cy="245.7" r="1.5"/>
<circle class="c15" cx="197.5" cy="258.4" r="1.5"/>
<circle class="c11" cx="227.7" cy="248.8" r="1.5"/>
<circle class="c15" cx="211.5" cy="252.5" r="1.5"/>
<circle class="c15" cx="198.5" cy="257.1" r="1.5"/>
<circle class="c15" cx="177.4" cy="264.0" r="1.5"/>
<circle class="c15" cx="220.0" cy="248.7" r="1.5"/>
<circle class="c14" cx="221.0" cy="250.7" r="1.5"/>
<circle class="c15" cx="172.3" cy="267.3" r="1.5"/>
<circle class="c15" cx="191.8" cy="260.9" r="1.5"/>
<circle class="c15" cx="208.7" cy="253.6" r="1.5"/>
<circle class="c14" cx="218.8" cy="249.6" r="1.5"/>
<circle class="c13" cx="230.0" cy="250.5" r="1.5"/>
<circle class="c15" cx="184.9" cy="262.6" r="1.5"/>
<circle class="c12" cx="227.9" cy="247.3" r="1.5"/>
<circle class="c15" cx="215.2" cy="251.7" r="1.5"/>
<circle class="c15" cx="178.0" cy="266.4" r="1.5"/>
<circle class="c14" cx="219.6" cy="251.0" r="1.5"/>
<circle class="c11" cx="243.9" cy="244.6" r="1.5"/>
<circle class="c15" cx="212.6" cy="250.2" r="1.5"/>
<circle class="c15" cx="212.9" cy="251.2" r="1.5"/>
<circle class="c15" cx="218.3" cy="251.2" r="1.5"/>
<circle class="c15" cx="213.8" cy="251.2" r="1.5"/>
<circle class="c14" cx="207.2" cy="254.3" r="1.5"/>
<circle class="c11" cx="247.0" cy="256.5" r="1.5"/>
<circle class="c10" cx="227.7" cy="249.7" r="1.5"/>
<circle class="c15" cx="204.6" cy="254.9" r="1.5"/>
<circle class="c12" cx="225.5" cy="251.5" r="1.5"/>
<circle class="c10" cx="252.8" cy="253.4" r="1.5"/>
<circle class="c15" cx="184.6" cy="263.3" r="1.5"/>
<circle class="c15" cx="168.5" cy="270.4" r="1.5"/>
<circle class="c9" cx="241.6" cy="244.4" r="1.5"/>
<circle class="c15" cx="216.3" cy="249.9" r="1.5"/>
<circle class="c15" cx="190.5" cy="260.5" r="1.5"/>
<circle class="c8" cx="212.0" cy="260.7" r="1.5"/>
<circle class="c15" cx="216.7" cy="250.4" r="1.5"/>
<circle class="c14" cx="212.1" cy="251.5" r="1.5"/>
<circle class="c11" cx="235.3" cy="247.1" r="1.5"/>
<circle class="c15" cx="217.0" cy="250.0" r="1.5"/>
<circle class="c8" cx="235.9" cy="251.0" r="1.5"/>
<circle class="c15" cx="203.7" cy="256.2" r="1.5"/>
<circle class="c13" cx="226.8" cy="246.1" r="1.5"/>
<circle class="c10" cx="232.0" cy="249.3" r="1.5"/>
<circle class="c15" cx="201.5" cy="255.6" r="1.5"/>
<circle class="c15" cx="211.6" cy="253.0" r="1.5"/>
<circle class="c15" cx="201.8" cy="256.2" r="1.5"/>
<circle class="c11" cx="231.3" cy="246.0" r="1.5"/>
<circle class="c15" cx="222.3" cy="249.1" r="1.5"/>
<circle class="c15" cx="221.0" cy="248.2" r="1.5"/>
<circle class="c15" cx="224.2" cy="249.4" r="1.5"/>
<circle class="c11" cx="240.0" cy="252.1" r="1.5"/>
<circle class="c9" cx="254.4" cy="249.7" r="1.5"/>
<circle class="c12" cx="227.5" cy="249.9" r="1.5"/>
<circle class="c13" cx="222.9" cy="250.1" r="1.5"/>
<circle class="c11" cx="250.0" cy="249.6" r="1.5"/>
<circle class="c15" cx="171.9" cy="268.4" r="1.5"/>
<circle class="c15" cx="204.1" cy="254.3" r="1.5"/>
<circle class="c14" cx="233.0" cy="247.6" r="1.5"/>
<circle class="c14" cx="194.6" cy="259.9" r="1.5"/>
<circle class="c13" cx="234.0" cy="248.9" r="1.5"/>
<circle class="c14" cx="206.8" cy="254.9" r="1.5"/>
<circle class="c10" cx="251.3" cy="253.4" r="1.5"/>
<circle class="c15" cx="212.8" cy="252.6" r="1.5"/>
<circle class="c15" cx="204.8" cy="253.6" r="1.5"/>
<circle class="c14" cx="228.1" cy="247.3" r="1.5"/>
<circle class="c14" cx="212.7" cy="252.3" r="1.5"/>
<circle class="c15" cx="231.1" cy="250.6" r="1.5"/>
<circle class="c15" cx="195.0" cy="258.9" r="1.5"/>
<circle class="c15" cx="198.3" cy="258.0" r="1.5"/>
<circle class="c15" cx="190.2" cy="260.6" r="1.5"/>
<circle class="c15" cx="207.0" cy="254.5" r="1.5"/>
<circle class="c15" cx="211.3" cy="253.0" r="1.5"/>
<circle class="c15" cx="210.4" cy="253.7" r="1.5"/>
<circle class="c13" cx="232.7" cy="249.1" r="1.5"/>
<circle class="c14" cx="216.0" cy="250.3" r="1.5"/>
<circle class="c15" cx="203.2" cy="256.1" r="1.5"/>
<circle class="c15" cx="210.1" cy="252.4" r="1.5"/>
<circle class="c12" cx="229.1" cy="249.3" r="1.5"/>
<circle class="c14" cx="242.5" cy="249.3" r="1.5"/>
<circle class="c14" cx="225.1" cy="246.5" r="1.5"/>
<circle class="c8" cx="230.3" cy="243.6" r="1.5"/>
<circle class="c14" cx="233.2" cy="248.5" r="1.5"/>
<circle class="c15" cx="191.3" cy="259.5" r="1.5"/>
<circle class="c15" cx="213.3" cy="253.4" r="1.5"/>
<circle class="c14" cx="166.3" cy="269.1" r="1.5"/>
<circle class="c15" cx="196.8" cy="259.4" r="1.5"/>
<circle class="c15" cx="199.9" cy="257.5" r="1.5"/>
<circle class="c15" cx="214.7" cy="251.2" r="1.5"/>
<circle class="c15" cx="219.4" cy="249.0" r="1.5"/>
<circle class="c15" cx="208.2" cy="253.6" r="1.5"/>
<circle class="c15" cx="189.2" cy="260.7" r="1.5"/>
<circle class="c15" cx="218.0" cy="250.6" r="1.5"/>
<circle class="c15" cx="214.9" cy="251.8" r="1.5"/>
<circle class="c15" cx="213.2" cy="252.6" r="1.5"/>
<circle class="c15" cx="198.6" cy="259.0" r="1.5"/>
<circle class="c15" cx="222.2" cy="251.9" r="1.5"/>
<circle class="c12" cx="237.0" cy="246.6" r="1.5"/>
<circle class="c15" cx="192.4" cy="261.6" r="1.5"/>
<circle class="c12" cx="225.3" cy="245.4" r="1.5"/>
<circle class="c14" cx="193.7" cy="258.7" r="1.5"/>
<circle class="c14" cx="201.2" cy="257.6" r="1.5"/>
<circle class="c15" cx="206.5" cy="254.0" r="1.5"/>
<circle class="c15" cx="218.1" cy="251.3" r="1.5"/>
<circle class="c15" cx="217.6" cy="250.3" r="1.5"/>
<circle class="c15" cx="209.5" cy="252.8" r="1.5"/>
<circle class="c11" cx="242.9" cy="250.4" r="1.5"/>
<circle class="c15" cx="204.9" cy="254.7" r="1.5"/>
<circle class="c15" cx="212.5" cy="251.5" r="1.5"/>
<circle class="c15" cx="190.9" cy="261.0" r="1.5"/>
<circle class="c11" cx="231.1" cy="258.2" r="1.5"/>
<circle class="c15" cx="219.2" cy="252.5" r="1.5"/>
<circle class="c9" cx="249.4" cy="259.4" r="1.5"/>
<circle class="c15" cx="177.3" cy="265.9" r="1.5"/>
<circle class="c11" cx="242.0" cy="251.0" r="1.5"/>
<circle class="c13" cx="116.5" cy="294.6" r="1.5"/>
<circle class="c15" cx="160.9" cy="273.0" r="1.5"/>
<circle class="c13" cx="230.0" cy="249.2" r="1.5"/>
<circle class="c15" cx="207.2" cy="254.6" r="1.5"/>
<circle class="c15" cx="195.3" cy="258.8" r="1.5"/>
<circle class="c14" cx="221.8" cy="251.3" r="1.5"/>
<circle class="c15" cx="218.8" cy="252.1" r="1.5"/>
<circle class="c8" cx="249.5" cy="241.4" r="1.5"/>
<circle class="c15" cx="205.8" cy="254.9" r="1.5"/>
<circle class="c15" cx="185.8" cy="262.6" r="1.5"/>
<circle class="c15" cx="203.8" cy="256.3" r="1.5"/>
<circle class="c14" cx="190.5" cy="261.4" r="1.5"/>
<circle class="c15" cx="219.3" cy="251.0" r="1.5"/>
<circle class="c15" cx="185.5" cy="260.9" r="1.5"/>
<circle class="c13" cx="225.6" cy="251.2" r="1.5"/>
<circle class="c15" cx="188.2" cy="261.7" r="1.5"/>
<circle class="c14" cx="158.0" cy="275.0" r="1.5"/>
<circle class="c15" cx="188.3" cy="261.1" r="1.5"/>
<circle class="c12" cx="59.9" cy="323.7" r="1.5"/>
<circle class="c10" cx="239.6" cy="242.7" r="1.5"/>
<circle class="c15" cx="205.1" cy="255.3" r="1.5"/>
<circle class="c7" cx="237.2" cy="245.6" r="1.5"/>
<circle class="c9" cx="249.2" cy="284.2" r="1.5"/>
<circle class="c15" cx="166.3" cy="269.9" r="1.5"/>
<circle class="c7" cx="248.0" cy="237.9" r="1.5"/>
<circle class="c15" cx="196.7" cy="258.5" r="1.5"/>
<circle class="c15" cx="210.1" cy="253.8" r="1.5"/>
<circle class="c15" cx="187.4" cy="263.4" r="1.5"/>
<circle class="c15" cx="211.3" cy="252.5" r="1.5"/>
<circle class="c15" cx="207.0" cy="254.5" r="1.5"/>
<circle class="c13" cx="227.4" cy="249.7" r="1.5"/>
<circle class="c15" cx="178.3" cy="267.7" r="1.5"/>
<circle class="c15" cx="204.7" cy="255.9" r="1.5"/>
<circle class="c15" cx="217.1" cy="250.3" r="1.5"/>
<circle class="c15" cx="230.2" cy="240.7" r="1.5"/>
<circle class="c15" cx="183.6" cy="264.5" r="1.5"/>
<circle class="c12" cx="233.3" cy="246.4" r="1.5"/>
<circle class="c15" cx="210.8" cy="252.3" r="1.5"/>
<circle class="c14" cx="205.2" cy="255.1" r="1.5"/>
<circle class="c15" cx="218.5" cy="250.9" r="1.5"/>
<circle class="c15" cx="196.9" cy="259.5" r="1.5"/>
<circle class="c10" cx="227.7" cy="246.9" r="1.5"/>
<circle class="c15" cx="188.5" cy="261.5" r="1.5"/>
<circle class="c15" cx="212.3" cy="252.8" r="1.5"/>
<circle class="c15" cx="202.3" cy="256.9" r="1.5"/>
<circle class="c11" cx="233.1" cy="249.2" r="1.5"/>
<circle class="c14" cx="220.0" cy="251.7" r="1.5"/>
<circle class="c12" cx="223.6" cy="249.3" r="1.5"/>
<circle class="c14" cx="221.3" cy="249.9" r="1.5"/>
<circle class="c15" cx="205.1" cy="252.6" r="1.5"/>
<circle class="c15" cx="170.6" cy="267.9" r="1.5"/>
<circle class="c15" cx="201.7" cy="255.9" r="1.5"/>
<circle class="c12" cx="242.0" cy="253.1" r="1.5"/>
<circle class="c14" cx="221.8" cy="250.6" r="1.5"/>
<circle class="c15" cx="171.9" cy="266.7" r="1.5"/>
<circle class="c15" cx="188.1" cy="260.3" r="1.5"/>
<circle class="c14" cx="219.7" cy="250.8" r="1.5"/>
<circle class="c15" cx="218.4" cy="251.4" r="1.5"/>
<circle class="c9" cx="249.6" cy="272.4" r="1.5"/>
<circle class="c15" cx="197.2" cy="257.8" r="1.5"/>
<circle class="c13" cx="226.4" cy="249.0" r="1.5"/>
<circle class="c15" cx="223.7" cy="248.4" r="1.5"/>
<circle class="c15" cx="219.9" cy="247.9" r="1.5"/>
<circle class="c14" cx="222.0" cy="249.5" r="1.5"/>
<circle class="c14" cx="224.8" cy="250.7" r="1.5"/>
<circle class="c15" cx="193.5" cy="259.2" r="1.5"/>
<circle class="c15" cx="186.2" cy="263.6" r="1.5"/>
<circle class="c13" cx="72.0" cy="316.9" r="1.5"/>
<circle class="c11" cx="232.3" cy="244.0" r="1.5"/>
<circle class="c15" cx="196.1" cy="259.3" r="1.5"/>
<circle class="c13" cx="223.1" cy="245.2" r="1.5"/>
<circle class="c11" cx="241.1" cy="259.3" r="1.5"/>
<circle class="c15" cx="220.7" cy="249.1" r="1.5"/>
<circle class="c15" cx="210.6" cy="252.2" r="1.5"/>
<circle class="c15" cx="196.7" cy="259.5" r="1.5"/>
<circle class="c14" cx="225.9" cy="245.7" r="1.5"/>
<circle class="c9" cx="241.3" cy="261.1" r="1.5"/>
<circle class="c15" cx="205.3" cy="255.2" r="1.5"/>
<circle class="c14" cx="222.9" cy="249.5" r="1.5"/>
<circle class="c15" cx="201.5" cy="257.1" r="1.5"/>
<circle class="c15" cx="184.9" cy="262.4" r="1.5"/>
<circle class="c15" cx="199.0" cy="258.5" r="1.5"/>
<circle class="c12" cx="226.3" cy="246.2" r="1.5"/>
<circle class="c15" cx="186.4" cy="261.8" r="1.5"/>
<circle class="c15" cx="182.3" cy="263.8" r="1.5"/>
<circle class="c14" cx="220.9" cy="250.3" r="1.5"/>
<circle class="c15" cx="224.8" cy="247.9" r="1.5"/>
<circle class="c15" cx="167.2" cy="267.3" r="1.5"/>
<circle class="c15" cx="192.6" cy="260.4" r="1.5"/>
<circle class="c15" cx="161.0" cy="272.1" r="1.5"/>
<circle class="c15" cx="215.9" cy="252.9" r="1.5"/>
<circle class="c12" cx="234.8" cy="251.8" r="1.5"/>
<circle class="c15" cx="207.2" cy="252.8" r="1.5"/>
<circle class="c15" cx="184.2" cy="261.9" r="1.5"/>
<circle class="c15" cx="217.9" cy="249.4" r="1.5"/>
<circle class="c15" cx="200.9" cy="256.3" r="1.5"/>
<circle class="c14" cx="225.4" cy="247.0" r="1.5"/>
<circle class="c13" cx="228.4" cy="247.1" r="1.5"/>
<circle class="c14" cx="220.4" cy="250.2" r="1.5"/>
<circle class="c9" cx="139.5" cy="283.7" r="1.5"/>
<circle class="c13" cx="220.5" cy="249.4" r="1.5"/>
<circle class="c12" cx="232.8" cy="241.9" r="1.5"/>
<circle class="c15" cx="217.5" cy="248.8" r="1.5"/>
<circle class="c15" cx="188.5" cy="261.9" r="1.5"/>
<circle class="c15" cx="219.9" cy="251.8" r="1.5"/>
<circle class="c15" cx="207.0" cy="253.5" r="1.5"/>
<circle class="c15" cx="217.7" cy="250.5" r="1.5"/>
<circle class="c15" cx="198.1" cy="256.9" r="1.5"/>
<circle class="c15" cx="209.7" cy="254.1" r="1.5"/>
<circle class="c15" cx="215.4" cy="249.7" r="1.5"/>
<circle class="c13" cx="229.1" cy="248.3" r="1.5"/>
<circle class="c15" cx="193.0" cy="258.3" r="1.5"/>
<circle class="c15" cx="206.5" cy="254.5" r="1.5"/>
<circle class="c15" cx="186.5" cy="262.0" r="1.5"/>
<circle class="c13" cx="104.0" cy="301.5" r="1.5"/>
<circle class="c15" cx="208.2" cy="252.9" r="1.5"/>
<circle class="c15" cx="217.3" cy="251.0" r="1.5"/>
<circle class="c15" cx="186.1" cy="260.9" r="1.5"/>
<circle class="c15" cx="217.1" cy="250.9" r="1.5"/>
<circle class="c13" cx="227.3" cy="251.0" r="1.5"/>
<circle class="c15" cx="182.1" cy="263.3" r="1.5"/>
<circle class="c14" cx="204.4" cy="254.0" r="1.5"/>
<circle class="c14" cx="227.2" cy="245.0" r="1.5"/>
<circle class="c13" cx="224.3" cy="247.1" r="1.5"/>
<circle class="c13" cx="228.1" cy="245.7" r="1.5"/>
<circle class="c15" cx="225.9" cy="245.2" r="1.5"/>
<circle class="c15" cx="211.7" cy="252.6" r="1.5"/>
</g>
<g clip-path="url(#p0)"><path d="M39.0,92.3 L42.1,91.2 L45.2,90.2 L48.3,89.1 L51.4,88.1 L54.6,87.0 L57.7,85.9 L60.8,84.8 L63.9,83.7 L67.0,82.5 L70.1,81.4 L73.2,80.1 L76.3,78.8 L79.4,77.5 L82.5,76.1 L85.7,74.7 L88.8,73.3 L91.9,71.9 L95.0,70.6 L98.1,69.2 L101.2,67.8 L104.3,66.4 L107.4,65.0 L110.5,63.8 L113.6,62.6 L116.8,61.5 L119.9,60.4 L123.0,59.3 L126.1,58.2 L129.2,57.1 L132.3,55.9 L135.4,54.6 L138.5,53.3 L141.6,51.9 L144.7,50.6 L147.9,49.4 L151.0,48.2 L154.1,47.0 L157.2,45.8 L160.3,44.7 L163.4,43.6 L166.5,42.6 L169.6,41.7 L172.7,40.9 L175.8,40.1 L179.0,39.4 L182.1,38.7 L185.2,38.1 L188.3,37.4 L191.4,36.8 L194.5,36.2 L197.6,35.6 L200.7,35.0 L203.8,34.3 L206.9,33.7 L210.1,33.2 L213.2,32.6 L216.3,32.1 L219.4,31.5 L222.5,31.0 L225.6,30.5 L228.7,30.0 L231.8,29.5 L234.9,29.1 L238.0,28.7 L241.2,28.2 L244.3,27.7 L247.4,27.1 L250.5,26.6 L253.6,26.0 L256.7,25.4 L259.8,24.8 L262.9,24.2 L266.0,23.5 L269.1,22.6 L272.3,21.7 L275.4,20.9 L278.5,20.0 L281.6,19.1 L284.7,18.2 L284.7,30.2 L281.6,30.4 L278.5,30.6 L275.4,30.8 L272.3,31.0 L269.1,31.1 L266.0,31.3 L262.9,31.5 L259.8,31.8 L256.7,32.0 L253.6,32.3 L250.5,32.4 L247.4,32.6 L244.3,32.8 L241.2,32.9 L238.0,33.2 L234.9,33.6 L231.8,33.9 L228.7,34.3 L225.6,34.8 L222.5,35.2 L219.4,35.6 L216.3,36.1 L213.2,36.5 L210.1,37.0 L206.9,37.5 L203.8,38.0 L200.7,38.6 L197.6,39.2 L194.5,39.8 L191.4,40.4 L188.3,41.1 L185.2,41.7 L182.1,42.4 L179.0,43.1 L175.8,43.9 L172.7,44.7 L169.6,45.5 L166.5,46.4 L163.4,47.4 L160.3,48.5 L157.2,49.6 L154.1,50.9 L151.0,52.1 L147.9,53.3 L144.7,54.6 L141.6,55.9 L138.5,57.2 L135.4,58.6 L132.3,59.9 L129.2,61.2 L126.1,62.5 L123.0,63.9 L119.9,65.2 L116.8,66.6 L113.6,68.0 L110.5,69.5 L107.4,71.0 L104.3,72.6 L101.2,74.3 L98.1,76.2 L95.0,78.1 L91.9,80.1 L88.8,82.1 L85.7,84.1 L82.5,86.1 L79.4,88.0 L76.3,90.0 L73.2,91.9 L70.1,93.7 L67.0,95.6 L63.9,97.4 L60.8,99.2 L57.7,100.9 L54.6,102.7 L51.4,104.4 L48.3,106.1 L45.2,107.8 L42.1,109.6 L39.0,111.3Z" fill="#999" fill-opacity=".4"/><path d="M39.0,101.8 L42.1,100.4 L45.2,99.0 L48.3,97.6 L51.4,96.2 L54.6,94.8 L57.7,93.4 L60.8,92.0 L63.9,90.5 L67.0,89.1 L70.1,87.5 L73.2,86.0 L76.3,84.4 L79.4,82.7 L82.5,81.1 L85.7,79.4 L88.8,77.7 L91.9,76.0 L95.0,74.4 L98.1,72.7 L101.2,71.1 L104.3,69.5 L107.4,68.0 L110.5,66.6 L113.6,65.3 L116.8,64.0 L119.9,62.8 L123.0,61.6 L126.1,60.4 L129.2,59.1 L132.3,57.9 L135.4,56.6 L138.5,55.3 L141.6,53.9 L144.7,52.6 L147.9,51.3 L151.0,50.1 L154.1,48.9 L157.2,47.7 L160.3,46.6 L163.4,45.5 L166.5,44.5 L169.6,43.6 L172.7,42.8 L175.8,42.0 L179.0,41.3 L182.1,40.6 L185.2,39.9 L188.3,39.2 L191.4,38.6 L194.5,38.0 L197.6,37.4 L200.7,36.8 L203.8,36.2 L206.9,35.6 L210.1,35.1 L213.2,34.6 L216.3,34.1 L219.4,33.6 L222.5,33.1 L225.6,32.6 L228.7,32.2 L231.8,31.7 L234.9,31.3 L238.0,30.9 L241.2,30.6 L244.3,30.2 L247.4,29.9 L250.5,29.5 L253.6,29.1 L256.7,28.7 L259.8,28.3 L262.9,27.9 L266.0,27.4 L269.1,26.9 L272.3,26.4 L275.4,25.8 L278.5,25.3 L281.6,24.7 L284.7,24.2" stroke="#808080" stroke-width="0.95" fill="none"/></g>
<g clip-path="url(#p1)"><path d="M39.0,215.4 L42.6,214.4 L46.3,213.4 L49.9,212.4 L53.5,211.4 L57.2,210.4 L60.8,209.4 L64.4,208.4 L68.1,207.4 L71.7,206.4 L75.4,205.4 L79.0,204.4 L82.6,203.4 L86.3,202.3 L89.9,201.3 L93.5,200.2 L97.2,199.1 L100.8,198.0 L104.4,196.9 L108.1,195.8 L111.7,194.7 L115.3,193.5 L119.0,192.4 L122.6,191.3 L126.3,190.2 L129.9,189.1 L133.5,188.0 L137.2,186.9 L140.8,185.8 L144.4,184.6 L148.1,183.5 L151.7,182.4 L155.3,181.3 L159.0,180.2 L162.6,179.2 L166.2,178.1 L169.9,177.1 L173.5,176.1 L177.1,175.1 L180.8,174.1 L184.4,173.2 L188.1,172.2 L191.7,171.3 L195.3,170.4 L199.0,169.5 L202.6,168.6 L206.2,167.7 L209.9,166.8 L213.5,165.9 L217.1,165.0 L220.8,164.1 L224.4,163.2 L228.0,162.4 L231.7,161.5 L235.3,160.6 L238.9,159.7 L242.6,158.9 L246.2,158.0 L249.9,157.2 L253.5,156.3 L257.1,155.4 L260.8,154.6 L264.4,153.8 L268.0,152.9 L271.7,152.1 L275.3,151.3 L278.9,150.5 L282.6,150.0 L286.2,149.5 L289.8,148.8 L293.5,148.0 L297.1,147.3 L300.8,146.5 L304.4,145.6 L308.0,144.8 L311.7,143.9 L315.3,143.1 L318.9,142.2 L322.6,141.4 L326.2,140.5 L326.2,145.5 L322.6,146.2 L318.9,146.8 L315.3,147.5 L311.7,148.2 L308.0,148.8 L304.4,149.5 L300.8,150.1 L297.1,150.8 L293.5,151.6 L289.8,152.3 L286.2,152.9 L282.6,153.3 L278.9,153.9 L275.3,154.6 L271.7,155.4 L268.0,156.1 L264.4,156.9 L260.8,157.7 L257.1,158.5 L253.5,159.3 L249.9,160.2 L246.2,161.0 L242.6,161.9 L238.9,162.8 L235.3,163.6 L231.7,164.5 L228.0,165.4 L224.4,166.3 L220.8,167.2 L217.1,168.1 L213.5,169.0 L209.9,169.9 L206.2,170.8 L202.6,171.7 L199.0,172.6 L195.3,173.5 L191.7,174.4 L188.1,175.4 L184.4,176.3 L180.8,177.3 L177.1,178.2 L173.5,179.2 L169.9,180.2 L166.2,181.3 L162.6,182.3 L159.0,183.4 L155.3,184.5 L151.7,185.6 L148.1,186.7 L144.4,187.8 L140.8,189.0 L137.2,190.2 L133.5,191.4 L129.9,192.6 L126.3,193.8 L122.6,195.0 L119.0,196.2 L115.3,197.4 L111.7,198.6 L108.1,199.9 L104.4,201.1 L100.8,202.3 L97.2,203.5 L93.5,204.7 L89.9,205.9 L86.3,207.2 L82.6,208.5 L79.0,209.8 L75.4,211.1 L71.7,212.3 L68.1,213.6 L64.4,214.9 L60.8,216.2 L57.2,217.4 L53.5,218.7 L49.9,220.0 L46.3,221.3 L42.6,222.5 L39.0,223.8Z" fill="#999" fill-opacity=".4"/><path d="M39.0,219.6 L42.6,218.5 L46.3,217.3 L49.9,216.2 L53.5,215.0 L57.2,213.9 L60.8,212.8 L64.4,211.6 L68.1,210.5 L71.7,209.4 L75.4,208.2 L79.0,207.1 L82.6,205.9 L86.3,204.8 L89.9,203.6 L93.5,202.5 L97.2,201.3 L100.8,200.2 L104.4,199.0 L108.1,197.8 L111.7,196.7 L115.3,195.5 L119.0,194.3 L122.6,193.1 L126.3,192.0 L129.9,190.8 L133.5,189.7 L137.2,188.5 L140.8,187.4 L144.4,186.2 L148.1,185.1 L151.7,184.0 L155.3,182.9 L159.0,181.8 L162.6,180.7 L166.2,179.7 L169.9,178.7 L173.5,177.7 L177.1,176.7 L180.8,175.7 L184.4,174.7 L188.1,173.8 L191.7,172.9 L195.3,171.9 L199.0,171.0 L202.6,170.1 L206.2,169.2 L209.9,168.3 L213.5,167.4 L217.1,166.5 L220.8,165.6 L224.4,164.8 L228.0,163.9 L231.7,163.0 L235.3,162.1 L238.9,161.3 L242.6,160.4 L246.2,159.5 L249.9,158.7 L253.5,157.8 L257.1,157.0 L260.8,156.2 L264.4,155.3 L268.0,154.5 L271.7,153.7 L275.3,152.9 L278.9,152.2 L282.6,151.7 L286.2,151.2 L289.8,150.5 L293.5,149.8 L297.1,149.1 L300.8,148.3 L304.4,147.6 L308.0,146.8 L311.7,146.0 L315.3,145.3 L318.9,144.5 L322.6,143.8 L326.2,143.0" stroke="#808080" stroke-width="0.95" fill="none"/></g>
<g clip-path="url(#p2)"><path d="M39.0,328.1 L41.8,326.8 L44.7,325.6 L47.5,324.3 L50.3,323.1 L53.1,321.9 L56.0,320.6 L58.8,319.4 L61.6,318.1 L64.5,316.9 L67.3,315.6 L70.1,314.4 L72.9,313.2 L75.8,311.9 L78.6,310.7 L81.4,309.4 L84.3,308.2 L87.1,306.9 L89.9,305.7 L92.8,304.4 L95.6,303.2 L98.4,301.9 L101.2,300.6 L104.1,299.3 L106.9,297.9 L109.7,296.5 L112.6,295.2 L115.4,293.8 L118.2,292.4 L121.0,291.0 L123.9,289.6 L126.7,288.2 L129.5,286.8 L132.4,285.5 L135.2,284.1 L138.0,282.8 L140.8,281.5 L143.7,280.2 L146.5,278.8 L149.3,277.5 L152.2,276.3 L155.0,275.0 L157.8,273.7 L160.7,272.5 L163.5,271.3 L166.3,270.1 L169.1,268.8 L172.0,267.7 L174.8,266.5 L177.6,265.3 L180.5,264.1 L183.3,263.0 L186.1,261.9 L188.9,260.7 L191.8,259.6 L194.6,258.5 L197.4,257.4 L200.3,256.3 L203.1,255.2 L205.9,254.1 L208.7,253.0 L211.6,252.0 L214.4,250.9 L217.2,249.9 L220.1,249.0 L222.9,248.1 L225.7,247.1 L228.6,246.3 L231.4,245.6 L234.2,245.0 L237.0,244.6 L239.9,244.6 L242.7,244.9 L245.5,245.6 L248.4,246.4 L251.2,247.2 L254.0,248.1 L256.8,249.1 L259.7,250.3 L262.5,251.4 L262.5,257.8 L259.7,256.1 L256.8,254.5 L254.0,252.9 L251.2,251.4 L248.4,250.3 L245.5,249.3 L242.7,248.6 L239.9,248.1 L237.0,248.0 L234.2,248.2 L231.4,248.6 L228.6,249.3 L225.7,250.1 L222.9,251.1 L220.1,252.0 L217.2,252.9 L214.4,253.9 L211.6,255.0 L208.7,256.0 L205.9,257.1 L203.1,258.2 L200.3,259.3 L197.4,260.4 L194.6,261.5 L191.8,262.6 L188.9,263.7 L186.1,264.9 L183.3,266.0 L180.5,267.1 L177.6,268.3 L174.8,269.5 L172.0,270.7 L169.1,271.8 L166.3,273.1 L163.5,274.3 L160.7,275.5 L157.8,276.8 L155.0,278.1 L152.2,279.4 L149.3,280.8 L146.5,282.1 L143.7,283.5 L140.8,284.9 L138.0,286.3 L135.2,287.7 L132.4,289.1 L129.5,290.6 L126.7,292.0 L123.9,293.4 L121.0,294.9 L118.2,296.4 L115.4,297.8 L112.6,299.3 L109.7,300.7 L106.9,302.1 L104.1,303.6 L101.2,305.0 L98.4,306.4 L95.6,307.9 L92.8,309.4 L89.9,310.8 L87.1,312.3 L84.3,313.8 L81.4,315.2 L78.6,316.7 L75.8,318.2 L72.9,319.6 L70.1,321.1 L67.3,322.5 L64.5,324.0 L61.6,325.5 L58.8,326.9 L56.0,328.4 L53.1,329.8 L50.3,331.3 L47.5,332.8 L44.7,334.2 L41.8,335.7 L39.0,337.1Z" fill="#999" fill-opacity=".4"/><path d="M39.0,332.6 L41.8,331.2 L44.7,329.9 L47.5,328.5 L50.3,327.2 L53.1,325.8 L56.0,324.5 L58.8,323.1 L61.6,321.8 L64.5,320.4 L67.3,319.1 L70.1,317.7 L72.9,316.4 L75.8,315.0 L78.6,313.7 L81.4,312.3 L84.3,311.0 L87.1,309.6 L89.9,308.3 L92.8,306.9 L95.6,305.5 L98.4,304.2 L101.2,302.8 L104.1,301.4 L106.9,300.0 L109.7,298.6 L112.6,297.2 L115.4,295.8 L118.2,294.4 L121.0,292.9 L123.9,291.5 L126.7,290.1 L129.5,288.7 L132.4,287.3 L135.2,285.9 L138.0,284.6 L140.8,283.2 L143.7,281.8 L146.5,280.5 L149.3,279.2 L152.2,277.8 L155.0,276.5 L157.8,275.3 L160.7,274.0 L163.5,272.8 L166.3,271.6 L169.1,270.3 L172.0,269.2 L174.8,268.0 L177.6,266.8 L180.5,265.6 L183.3,264.5 L186.1,263.4 L188.9,262.2 L191.8,261.1 L194.6,260.0 L197.4,258.9 L200.3,257.8 L203.1,256.7 L205.9,255.6 L208.7,254.5 L211.6,253.5 L214.4,252.4 L217.2,251.4 L220.1,250.5 L222.9,249.6 L225.7,248.6 L228.6,247.8 L231.4,247.1 L234.2,246.6 L237.0,246.3 L239.9,246.3 L242.7,246.7 L245.5,247.5 L248.4,248.4 L251.2,249.3 L254.0,250.5 L256.8,251.8 L259.7,253.2 L262.5,254.6" stroke="#808080" stroke-width="0.95" fill="none"/></g>
<rect x="39.0" y="29.0" width="287.2" height="16.9" fill="rgb(70,130,180)" fill-opacity=".2"/>
<rect x="228.2" y="1.1" width="41.7" height="111.4" fill="rgb(70,130,180)" fill-opacity=".2"/>
<rect x="39.0" y="154.5" width="287.2" height="8.5" fill="rgb(70,130,180)" fill-opacity=".2"/>
<rect x="270.2" y="117.6" width="41.7" height="111.2" fill="rgb(70,130,180)" fill-opacity=".2"/>
<rect x="39.0" y="256.6" width="287.2" height="15.1" fill="rgb(70,130,180)" fill-opacity=".2"/>
<rect x="196.6" y="233.9" width="31.3" height="111.2" fill="rgb(70,130,180)" fill-opacity=".2"/>
<rect x="326.2" y="1.1" width="29.80000000000001" height="111.4" fill="#d9d9d9"/>
<text transform="translate(336.9,56.8) rotate(90)" text-anchor="middle" class="st">MiSeq v2</text>
<rect x="326.2" y="117.6" width="29.80000000000001" height="111.20000000000002" fill="#d9d9d9"/>
<text transform="translate(336.9,173.2) rotate(90)" text-anchor="middle" class="st">MiSeq v3</text>
<rect x="326.2" y="233.9" width="29.80000000000001" height="111.20000000000002" fill="#d9d9d9"/>
<text transform="translate(342.5,289.5) rotate(90)" text-anchor="middle" class="st">HiSeq 2500</text>
<text transform="translate(331.5,289.5) rotate(90)" text-anchor="middle" class="st">RR v2</text>
<text x="34" y="7.2" text-anchor="end" class="ax">20</text>
<text x="34" y="34.2" text-anchor="end" class="ax">15</text>
<text x="34" y="61.2" text-anchor="end" class="ax">10</text>
<text x="34" y="88.2" text-anchor="end" class="ax">5</text>
<text x="34" y="115.2" text-anchor="end" class="ax">0</text>
<text x="34" y="143.7" text-anchor="end" class="ax">30</text>
<text x="34" y="173.2" text-anchor="end" class="ax">20</text>
<text x="34" y="202.8" text-anchor="end" class="ax">10</text>
<text x="34" y="232.5" text-anchor="end" class="ax">0</text>
<text x="34" y="260.9" text-anchor="end" class="ax">300</text>
<text x="34" y="290.4" text-anchor="end" class="ax">200</text>
<text x="34" y="319.8" text-anchor="end" class="ax">100</text>
<text x="34" y="349.1" text-anchor="end" class="ax">0</text>
<text x="123.3" y="358.2" text-anchor="middle" class="ax">500</text>
<text x="227.6" y="358.2" text-anchor="middle" class="ax">1000</text>
<path d="M36.1,3.2H40M36.1,30.2H40M36.1,57.2H40M36.1,84.2H40M36.1,111.2H40M36.1,139.7H40M36.1,169.25H40M36.1,198.8H40M36.1,228.5H40M36.1,256.9H40M36.1,286.35H40M36.1,315.8H40M36.1,345.1H40M123.3,345V348M227.6,345V348" stroke="#2a2a2a" stroke-width="1.1"/>
<text x="183" y="374.5" text-anchor="middle" class="ti" style="font-size:12.2px">Cluster density [k/mm<tspan dy="-6.3" style="font-size:8px">2</tspan><tspan dy="6.3">]</tspan></text>
<text transform="translate(8.6,173.1) rotate(-90)" text-anchor="middle" class="ti" style="font-size:12.4px">Reads passing filter [M]</text>
<defs><linearGradient id="lg"><stop offset="0.000" stop-color="rgb(226, 50, 40)"/><stop offset="0.200" stop-color="rgb(230, 30, 62)"/><stop offset="0.370" stop-color="rgb(225, 12, 110)"/><stop offset="0.480" stop-color="rgb(205, 12, 145)"/><stop offset="0.620" stop-color="rgb(175, 25, 175)"/><stop offset="0.730" stop-color="rgb(140, 35, 182)"/><stop offset="0.850" stop-color="rgb(100, 45, 186)"/><stop offset="1.000" stop-color="rgb(55, 66, 178)"/></linearGradient></defs>
<rect x="157" y="396.6" width="88" height="18.2" fill="url(#lg)"/>
<path d="M174.6,396.6v3.6M174.6,411.2v3.6M194.6,396.6v3.6M194.6,411.2v3.6M214.6,396.6v3.6M214.6,411.2v3.6M234.6,396.6v3.6M234.6,411.2v3.6" stroke="#fff" stroke-width="1"/>
<text x="177.3" y="425.4" text-anchor="middle" class="lg">60%</text>
<text x="197.1" y="425.4" text-anchor="middle" class="lg">70%</text>
<text x="217.1" y="425.4" text-anchor="middle" class="lg">80%</text>
<text x="236.6" y="425.4" text-anchor="middle" class="lg">90%</text>
<text x="121.8" y="415.8" class="lt">%Q30</text>
</svg>
</body></html>
